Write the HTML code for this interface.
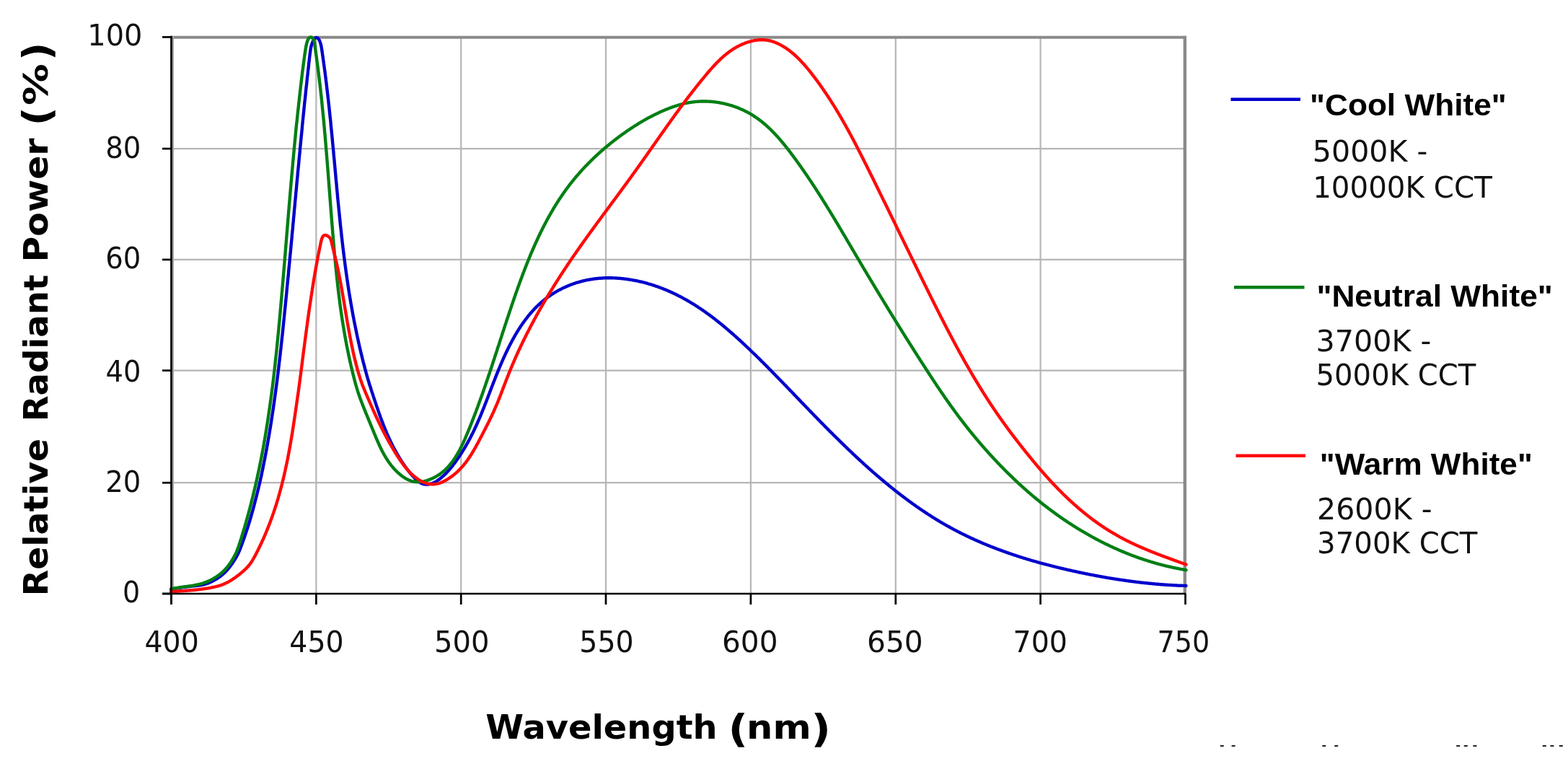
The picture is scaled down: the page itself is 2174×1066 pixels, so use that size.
<!DOCTYPE html>
<html><head><meta charset="utf-8"><title>LED spectra</title>
<style>
html,body{margin:0;padding:0;background:#fff;}
body{width:2174px;height:1066px;overflow:hidden;}
svg{display:block;}
.tk{font-family:"DejaVu Sans","Liberation Sans",sans-serif;font-size:40.5px;fill:#111;}
.lt{font-family:"Liberation Sans",Arial,sans-serif;font-weight:bold;font-size:42px;fill:#000;}
.ld{font-family:"DejaVu Sans","Liberation Sans",sans-serif;font-size:41px;fill:#111;}
.ax{font-family:"DejaVu Sans","Liberation Sans",sans-serif;font-weight:bold;font-size:47px;fill:#000;}
.axp{font-family:"DejaVu Sans","Liberation Sans",sans-serif;font-weight:bold;font-size:52.5px;fill:#000;}
</style></head>
<body>
<svg width="2174" height="1066" viewBox="0 0 2174 1066">
<rect width="2174" height="1066" fill="#fff"/>
<g stroke="#b6b6b6" stroke-width="2.2"><line x1="438.4" y1="51.5" x2="438.4" y2="823.0" /><line x1="639.2" y1="51.5" x2="639.2" y2="823.0" /><line x1="840.0" y1="51.5" x2="840.0" y2="823.0" /><line x1="1040.9" y1="51.5" x2="1040.9" y2="823.0" /><line x1="1241.8" y1="51.5" x2="1241.8" y2="823.0" /><line x1="1442.6" y1="51.5" x2="1442.6" y2="823.0" /><line x1="237.5" y1="669.2" x2="1642.8" y2="669.2" /><line x1="237.5" y1="513.6" x2="1642.8" y2="513.6" /><line x1="237.5" y1="359.9" x2="1642.8" y2="359.9" /><line x1="237.5" y1="206.1" x2="1642.8" y2="206.1" /></g>
<line x1="237" y1="51.7" x2="1644" y2="51.7" stroke="#8a8a8a" stroke-width="4"/>
<line x1="240" y1="50" x2="240" y2="823" stroke="#a0a0a0" stroke-width="2"/>
<line x1="1642.8" y1="49.7" x2="1642.8" y2="823" stroke="#8a8a8a" stroke-width="4.4"/>
<g fill="none" stroke-width="4.4" stroke-linejoin="round" stroke-linecap="round">
<path d="M237.0,816.8 L238.0,816.6 L239.0,816.5 L240.0,816.3 L241.0,816.1 L241.9,816.0 L242.9,815.8 L243.9,815.6 L244.9,815.5 L245.9,815.3 L246.9,815.1 L247.9,815.0 L248.9,814.8 L249.9,814.7 L250.9,814.5 L251.9,814.4 L252.9,814.2 L253.9,814.1 L254.9,813.9 L255.9,813.8 L256.9,813.7 L257.8,813.6 L258.8,813.4 L259.8,813.3 L260.7,813.2 L261.7,813.1 L262.7,813.0 L263.7,812.9 L264.7,812.7 L265.7,812.6 L266.7,812.5 L267.7,812.4 L268.7,812.3 L269.7,812.2 L270.7,812.1 L271.6,812.0 L272.6,811.9 L273.6,811.8 L274.6,811.7 L275.6,811.6 L276.6,811.4 L277.6,811.3 L278.5,811.1 L279.5,810.9 L280.5,810.8 L281.4,810.5 L282.4,810.3 L283.4,810.1 L284.3,809.8 L285.2,809.5 L286.2,809.2 L287.1,808.9 L288.0,808.6 L289.0,808.2 L289.9,807.9 L290.8,807.5 L291.7,807.1 L292.6,806.6 L293.5,806.2 L294.4,805.8 L295.3,805.3 L296.1,804.8 L297.0,804.4 L297.9,803.9 L298.7,803.4 L299.6,802.9 L300.4,802.3 L301.3,801.8 L302.1,801.3 L302.9,800.7 L303.8,800.2 L304.6,799.6 L305.4,799.0 L306.2,798.4 L306.9,797.8 L307.7,797.2 L308.5,796.5 L309.2,795.9 L310.0,795.2 L310.7,794.6 L311.4,793.9 L312.1,793.2 L312.8,792.5 L313.5,791.8 L314.2,791.0 L314.9,790.3 L315.5,789.6 L316.1,788.8 L316.8,788.0 L317.4,787.3 L318.0,786.5 L318.6,785.7 L319.2,784.9 L319.8,784.1 L320.4,783.3 L321.0,782.5 L321.6,781.7 L322.2,780.9 L322.7,780.0 L323.3,779.2 L323.8,778.4 L324.4,777.5 L324.9,776.7 L325.4,775.9 L326.0,775.0 L326.5,774.2 L327.0,773.3 L327.5,772.4 L328.0,771.6 L328.4,770.7 L328.9,769.8 L329.4,768.9 L329.8,768.0 L330.2,767.1 L330.7,766.2 L331.1,765.3 L331.5,764.4 L331.9,763.5 L332.3,762.6 L332.6,761.7 L333.0,760.7 L333.4,759.8 L333.7,758.9 L334.1,758.0 L334.5,757.0 L334.8,756.1 L335.1,755.1 L335.5,754.2 L335.8,753.3 L336.2,752.3 L336.5,751.4 L336.8,750.4 L337.2,749.5 L337.5,748.6 L337.8,747.6 L338.2,746.7 L338.5,745.7 L338.8,744.8 L339.2,743.8 L339.5,742.9 L339.8,741.9 L340.1,741.0 L340.4,740.1 L340.8,739.1 L341.1,738.2 L341.4,737.2 L341.7,736.3 L342.0,735.3 L342.3,734.4 L342.7,733.4 L343.0,732.5 L343.3,731.5 L343.6,730.6 L343.9,729.6 L344.2,728.7 L344.5,727.7 L344.8,726.7 L345.1,725.8 L345.4,724.8 L345.7,723.9 L346.0,722.9 L346.3,722.0 L346.6,721.0 L346.8,720.1 L347.1,719.1 L347.4,718.1 L347.7,717.2 L348.0,716.2 L348.2,715.3 L348.5,714.3 L348.8,713.3 L349.1,712.4 L349.3,711.4 L349.6,710.4 L349.9,709.5 L350.1,708.5 L350.4,707.6 L350.7,706.6 L350.9,705.6 L351.2,704.7 L351.5,703.7 L351.7,702.7 L352.0,701.8 L352.2,700.8 L352.5,699.8 L352.7,698.9 L353.0,697.9 L353.2,696.9 L353.5,696.0 L353.7,695.0 L354.0,694.0 L354.2,693.1 L354.5,692.1 L354.7,691.1 L355.0,690.1 L355.2,689.2 L355.5,688.2 L355.7,687.2 L356.0,686.3 L356.2,685.3 L356.5,684.3 L356.7,683.4 L356.9,682.4 L357.2,681.4 L357.4,680.4 L357.7,679.5 L357.9,678.5 L358.1,677.5 L358.4,676.6 L358.6,675.6 L358.8,674.6 L359.1,673.6 L359.3,672.7 L359.5,671.7 L359.8,670.7 L360.0,669.7 L360.2,668.8 L360.4,667.8 L360.7,666.8 L360.9,665.9 L361.1,664.9 L361.3,663.9 L361.5,662.9 L361.8,661.9 L362.0,661.0 L362.2,660.0 L362.4,659.0 L362.6,658.0 L362.8,657.1 L363.0,656.1 L363.2,655.1 L363.4,654.1 L363.6,653.1 L363.8,652.2 L364.0,651.2 L364.2,650.2 L364.4,649.2 L364.6,648.2 L364.8,647.3 L365.0,646.3 L365.2,645.3 L365.4,644.3 L365.6,643.3 L365.8,642.4 L366.0,641.4 L366.2,640.4 L366.4,639.4 L366.6,638.4 L366.8,637.5 L367.0,636.5 L367.2,635.5 L367.4,634.5 L367.5,633.5 L367.7,632.6 L367.9,631.6 L368.1,630.6 L368.3,629.6 L368.5,628.6 L368.7,627.6 L368.9,626.7 L369.0,625.7 L369.2,624.7 L369.4,623.7 L369.6,622.7 L369.8,621.7 L369.9,620.8 L370.1,619.8 L370.3,618.8 L370.5,617.8 L370.7,616.8 L370.8,615.8 L371.0,614.9 L371.2,613.9 L371.3,612.9 L371.5,611.9 L371.7,610.9 L371.9,609.9 L372.0,608.9 L372.2,608.0 L372.4,607.0 L372.5,606.0 L372.7,605.0 L372.9,604.0 L373.1,603.0 L373.2,602.0 L373.4,601.1 L373.6,600.1 L373.7,599.1 L373.9,598.1 L374.0,597.1 L374.2,596.1 L374.4,595.1 L374.5,594.1 L374.7,593.2 L374.9,592.2 L375.0,591.2 L375.2,590.2 L375.3,589.2 L375.5,588.2 L375.7,587.2 L375.8,586.3 L376.0,585.3 L376.1,584.3 L376.3,583.3 L376.4,582.3 L376.6,581.3 L376.7,580.3 L376.9,579.3 L377.0,578.3 L377.2,577.4 L377.3,576.4 L377.5,575.4 L377.6,574.4 L377.8,573.4 L377.9,572.4 L378.1,571.4 L378.2,570.4 L378.4,569.4 L378.5,568.5 L378.7,567.5 L378.8,566.5 L379.0,565.5 L379.1,564.5 L379.2,563.5 L379.4,562.5 L379.5,561.5 L379.7,560.5 L379.8,559.5 L379.9,558.6 L380.1,557.6 L380.2,556.6 L380.4,555.6 L380.5,554.6 L380.6,553.6 L380.8,552.6 L380.9,551.6 L381.1,550.6 L381.2,549.6 L381.3,548.7 L381.5,547.7 L381.6,546.7 L381.7,545.7 L381.9,544.7 L382.0,543.7 L382.1,542.7 L382.3,541.7 L382.4,540.7 L382.5,539.7 L382.7,538.7 L382.8,537.8 L382.9,536.8 L383.1,535.8 L383.2,534.8 L383.3,533.8 L383.5,532.8 L383.6,531.8 L383.7,530.8 L383.9,529.8 L384.0,528.8 L384.1,527.8 L384.2,526.8 L384.4,525.9 L384.5,524.9 L384.6,523.9 L384.7,522.9 L384.9,521.9 L385.0,520.9 L385.1,519.9 L385.2,518.9 L385.4,517.9 L385.5,516.9 L385.6,515.9 L385.7,514.9 L385.8,513.9 L385.9,513.0 L386.1,512.0 L386.2,511.0 L386.3,510.0 L386.4,509.0 L386.5,508.0 L386.6,507.0 L386.8,506.0 L386.9,505.0 L387.0,504.0 L387.1,503.0 L387.2,502.0 L387.3,501.0 L387.5,500.0 L387.6,499.0 L387.7,498.1 L387.8,497.1 L387.9,496.1 L388.0,495.1 L388.1,494.1 L388.3,493.1 L388.4,492.1 L388.5,491.1 L388.6,490.1 L388.7,489.1 L388.8,488.1 L388.9,487.1 L389.0,486.1 L389.2,485.1 L389.3,484.1 L389.4,483.1 L389.5,482.2 L389.6,481.2 L389.7,480.2 L389.8,479.2 L389.9,478.2 L390.0,477.2 L390.1,476.2 L390.3,475.2 L390.4,474.2 L390.5,473.2 L390.6,472.2 L390.7,471.2 L390.8,470.2 L390.9,469.2 L391.0,468.2 L391.1,467.2 L391.2,466.2 L391.3,465.3 L391.5,464.3 L391.6,463.3 L391.7,462.3 L391.8,461.3 L391.9,460.3 L392.0,459.3 L392.1,458.3 L392.2,457.3 L392.3,456.3 L392.4,455.3 L392.5,454.3 L392.6,453.3 L392.7,452.3 L392.8,451.3 L392.9,450.3 L393.0,449.3 L393.1,448.3 L393.2,447.4 L393.3,446.4 L393.4,445.4 L393.5,444.4 L393.6,443.4 L393.7,442.4 L393.8,441.4 L393.9,440.4 L394.0,439.4 L394.1,438.4 L394.2,437.4 L394.3,436.4 L394.4,435.4 L394.5,434.4 L394.6,433.4 L394.7,432.4 L394.8,431.4 L394.9,430.4 L395.0,429.4 L395.1,428.4 L395.2,427.5 L395.3,426.5 L395.4,425.5 L395.5,424.5 L395.6,423.5 L395.7,422.5 L395.8,421.5 L395.9,420.5 L396.0,419.5 L396.1,418.5 L396.2,417.5 L396.3,416.5 L396.4,415.5 L396.5,414.5 L396.6,413.5 L396.7,412.5 L396.8,411.5 L396.9,410.5 L397.0,409.5 L397.1,408.5 L397.2,407.5 L397.3,406.6 L397.4,405.6 L397.5,404.6 L397.6,403.6 L397.6,402.6 L397.7,401.6 L397.8,400.6 L397.9,399.6 L398.0,398.6 L398.1,397.6 L398.2,396.6 L398.3,395.6 L398.4,394.6 L398.5,393.6 L398.6,392.6 L398.7,391.6 L398.8,390.6 L398.9,389.6 L399.0,388.6 L399.1,387.6 L399.2,386.6 L399.3,385.6 L399.4,384.7 L399.5,383.7 L399.6,382.7 L399.7,381.7 L399.8,380.7 L399.9,379.7 L400.0,378.7 L400.0,377.7 L400.1,376.7 L400.2,375.7 L400.3,374.7 L400.4,373.7 L400.5,372.7 L400.6,371.7 L400.7,370.7 L400.8,369.7 L400.9,368.7 L401.0,367.7 L401.1,366.7 L401.2,365.7 L401.3,364.7 L401.4,363.7 L401.5,362.8 L401.6,361.8 L401.6,360.8 L401.7,359.8 L401.8,358.8 L401.9,357.8 L402.0,356.8 L402.1,355.8 L402.2,354.8 L402.3,353.8 L402.4,352.8 L402.5,351.8 L402.6,350.8 L402.7,349.8 L402.8,348.8 L402.9,347.8 L403.0,346.8 L403.1,345.8 L403.2,344.8 L403.3,343.8 L403.4,342.8 L403.4,341.8 L403.5,340.8 L403.6,339.9 L403.7,338.9 L403.8,337.9 L403.9,336.9 L404.0,335.9 L404.1,334.9 L404.2,333.9 L404.3,332.9 L404.4,331.9 L404.5,330.9 L404.6,329.9 L404.7,328.9 L404.8,327.9 L404.8,326.9 L404.9,325.9 L405.0,324.9 L405.1,323.9 L405.2,322.9 L405.3,321.9 L405.4,320.9 L405.5,319.9 L405.6,318.9 L405.7,317.9 L405.8,317.0 L405.9,316.0 L406.0,315.0 L406.0,314.0 L406.1,313.0 L406.2,312.0 L406.3,311.0 L406.4,310.0 L406.5,309.0 L406.6,308.0 L406.7,307.0 L406.8,306.0 L406.9,305.0 L406.9,304.0 L407.0,303.0 L407.1,302.0 L407.2,301.0 L407.3,300.0 L407.4,299.0 L407.5,298.0 L407.6,297.0 L407.7,296.0 L407.8,295.0 L407.8,294.0 L407.9,293.0 L408.0,292.1 L408.1,291.1 L408.2,290.1 L408.3,289.1 L408.4,288.1 L408.5,287.1 L408.6,286.1 L408.7,285.1 L408.8,284.1 L408.9,283.1 L409.0,282.1 L409.0,281.1 L409.1,280.1 L409.2,279.1 L409.3,278.1 L409.4,277.1 L409.5,276.1 L409.6,275.1 L409.7,274.1 L409.8,273.1 L409.9,272.1 L410.0,271.1 L410.1,270.1 L410.1,269.2 L410.2,268.2 L410.3,267.2 L410.4,266.2 L410.5,265.2 L410.6,264.2 L410.7,263.2 L410.8,262.2 L410.9,261.2 L411.0,260.2 L411.1,259.2 L411.2,258.2 L411.2,257.2 L411.3,256.2 L411.4,255.2 L411.5,254.2 L411.6,253.2 L411.7,252.2 L411.8,251.2 L411.9,250.2 L412.0,249.2 L412.1,248.2 L412.2,247.2 L412.3,246.2 L412.4,245.3 L412.5,244.3 L412.6,243.3 L412.7,242.3 L412.7,241.3 L412.8,240.3 L412.9,239.3 L413.0,238.3 L413.1,237.3 L413.2,236.3 L413.3,235.3 L413.4,234.3 L413.5,233.3 L413.6,232.3 L413.7,231.3 L413.8,230.3 L413.9,229.3 L414.0,228.3 L414.1,227.3 L414.2,226.3 L414.3,225.3 L414.4,224.3 L414.4,223.4 L414.5,222.4 L414.6,221.4 L414.7,220.4 L414.8,219.4 L414.9,218.4 L415.0,217.4 L415.1,216.4 L415.2,215.4 L415.3,214.4 L415.4,213.4 L415.5,212.4 L415.6,211.4 L415.7,210.4 L415.8,209.4 L415.8,208.4 L415.9,207.4 L416.0,206.4 L416.1,205.4 L416.2,204.4 L416.3,203.4 L416.4,202.4 L416.5,201.4 L416.6,200.5 L416.7,199.5 L416.8,198.5 L416.9,197.5 L417.0,196.5 L417.1,195.5 L417.2,194.5 L417.3,193.5 L417.4,192.5 L417.5,191.5 L417.6,190.5 L417.7,189.5 L417.8,188.5 L417.9,187.5 L418.0,186.5 L418.1,185.5 L418.2,184.5 L418.3,183.5 L418.4,182.5 L418.5,181.5 L418.6,180.5 L418.7,179.6 L418.8,178.6 L418.9,177.6 L418.9,176.6 L419.0,175.6 L419.1,174.6 L419.2,173.6 L419.3,172.6 L419.4,171.6 L419.5,170.6 L419.6,169.6 L419.7,168.6 L419.8,167.6 L419.9,166.6 L420.0,165.6 L420.1,164.6 L420.2,163.6 L420.3,162.6 L420.4,161.6 L420.5,160.6 L420.6,159.6 L420.7,158.7 L420.8,157.7 L420.9,156.7 L421.0,155.7 L421.1,154.7 L421.2,153.7 L421.3,152.7 L421.4,151.7 L421.5,150.7 L421.6,149.7 L421.7,148.7 L421.8,147.7 L421.9,146.7 L422.0,145.7 L422.1,144.7 L422.2,143.7 L422.3,142.7 L422.4,141.7 L422.5,140.7 L422.6,139.8 L422.8,138.8 L422.9,137.8 L423.0,136.8 L423.1,135.8 L423.2,134.8 L423.3,133.8 L423.4,132.8 L423.5,131.8 L423.6,130.8 L423.7,129.8 L423.8,128.8 L423.9,127.8 L424.0,126.8 L424.1,125.8 L424.2,124.8 L424.3,123.8 L424.4,122.8 L424.5,121.8 L424.6,120.9 L424.7,119.9 L424.8,118.9 L425.0,117.9 L425.1,116.9 L425.2,115.9 L425.3,114.9 L425.4,113.9 L425.5,112.9 L425.6,111.9 L425.7,110.9 L425.8,109.9 L425.9,108.9 L426.0,107.9 L426.1,106.9 L426.2,105.9 L426.4,104.9 L426.5,104.0 L426.6,103.0 L426.7,102.0 L426.8,101.0 L426.9,100.0 L427.0,99.0 L427.1,98.0 L427.2,97.0 L427.3,96.0 L427.5,95.0 L427.6,94.0 L427.7,93.0 L427.8,92.0 L427.9,91.0 L428.0,90.0 L428.1,89.0 L428.2,88.0 L428.3,87.1 L428.4,86.1 L428.6,85.1 L428.7,84.1 L428.8,83.1 L428.9,82.1 L429.0,81.1 L429.1,80.1 L429.2,79.1 L429.3,78.1 L429.5,77.1 L429.6,76.1 L429.7,75.1 L429.8,74.2 L430.0,73.2 L430.1,72.2 L430.2,71.2 L430.3,70.2 L430.5,69.2 L430.6,68.2 L430.8,67.2 L431.0,66.3 L431.2,65.3 L431.4,64.3 L431.6,63.4 L431.9,62.4 L432.2,61.5 L432.5,60.5 L432.9,59.6 L433.2,58.7 L433.7,57.8 L434.1,56.9 L434.6,56.0 L435.1,55.1 L435.6,54.3 L436.2,53.5 L436.9,52.8 L437.7,52.3 L438.7,52.0 L439.7,52.1 L440.5,52.7 L441.2,53.4 L441.8,54.1 L442.3,55.0 L442.8,55.9 L443.2,56.8 L443.6,57.7 L443.9,58.6 L444.2,59.6 L444.5,60.5 L444.8,61.5 L445.0,62.5 L445.2,63.4 L445.4,64.4 L445.6,65.4 L445.8,66.4 L445.9,67.4 L446.1,68.4 L446.2,69.3 L446.4,70.3 L446.5,71.3 L446.7,72.3 L446.8,73.3 L447.0,74.3 L447.1,75.3 L447.2,76.3 L447.4,77.3 L447.5,78.2 L447.7,79.2 L447.8,80.2 L448.0,81.2 L448.1,82.2 L448.2,83.2 L448.4,84.2 L448.5,85.2 L448.7,86.2 L448.8,87.2 L448.9,88.1 L449.1,89.1 L449.2,90.1 L449.3,91.1 L449.5,92.1 L449.6,93.1 L449.7,94.1 L449.9,95.1 L450.0,96.1 L450.1,97.1 L450.3,98.1 L450.4,99.0 L450.5,100.0 L450.7,101.0 L450.8,102.0 L450.9,103.0 L451.0,104.0 L451.2,105.0 L451.3,106.0 L451.4,107.0 L451.5,108.0 L451.7,109.0 L451.8,110.0 L451.9,111.0 L452.0,111.9 L452.1,112.9 L452.3,113.9 L452.4,114.9 L452.5,115.9 L452.6,116.9 L452.7,117.9 L452.9,118.9 L453.0,119.9 L453.1,120.9 L453.2,121.9 L453.3,122.9 L453.4,123.9 L453.6,124.9 L453.7,125.8 L453.8,126.8 L453.9,127.8 L454.0,128.8 L454.1,129.8 L454.3,130.8 L454.4,131.8 L454.5,132.8 L454.6,133.8 L454.7,134.8 L454.8,135.8 L455.0,136.8 L455.1,137.8 L455.2,138.8 L455.3,139.8 L455.4,140.7 L455.5,141.7 L455.6,142.7 L455.7,143.7 L455.8,144.7 L456.0,145.7 L456.1,146.7 L456.2,147.7 L456.3,148.7 L456.4,149.7 L456.5,150.7 L456.6,151.7 L456.7,152.7 L456.8,153.7 L456.9,154.7 L457.0,155.7 L457.1,156.7 L457.2,157.6 L457.3,158.6 L457.4,159.6 L457.5,160.6 L457.6,161.6 L457.7,162.6 L457.8,163.6 L458.0,164.6 L458.1,165.6 L458.2,166.6 L458.3,167.6 L458.4,168.6 L458.5,169.6 L458.6,170.6 L458.6,171.6 L458.7,172.6 L458.8,173.6 L458.9,174.6 L459.0,175.6 L459.1,176.6 L459.2,177.5 L459.3,178.5 L459.4,179.5 L459.5,180.5 L459.6,181.5 L459.7,182.5 L459.8,183.5 L459.9,184.5 L460.0,185.5 L460.1,186.5 L460.2,187.5 L460.3,188.5 L460.4,189.5 L460.5,190.5 L460.6,191.5 L460.7,192.5 L460.8,193.5 L460.9,194.5 L461.0,195.5 L461.0,196.5 L461.1,197.5 L461.2,198.5 L461.3,199.5 L461.4,200.4 L461.5,201.4 L461.6,202.4 L461.7,203.4 L461.8,204.4 L461.9,205.4 L462.0,206.4 L462.1,207.4 L462.2,208.4 L462.3,209.4 L462.4,210.4 L462.5,211.4 L462.5,212.4 L462.6,213.4 L462.7,214.4 L462.8,215.4 L462.9,216.4 L463.0,217.4 L463.1,218.4 L463.2,219.4 L463.3,220.4 L463.4,221.4 L463.5,222.4 L463.6,223.3 L463.7,224.3 L463.7,225.3 L463.8,226.3 L463.9,227.3 L464.0,228.3 L464.1,229.3 L464.2,230.3 L464.3,231.3 L464.4,232.3 L464.5,233.3 L464.6,234.3 L464.7,235.3 L464.7,236.3 L464.8,237.3 L464.9,238.3 L465.0,239.3 L465.1,240.3 L465.2,241.3 L465.3,242.3 L465.4,243.3 L465.5,244.3 L465.6,245.3 L465.6,246.3 L465.7,247.2 L465.8,248.2 L465.9,249.2 L466.0,250.2 L466.1,251.2 L466.2,252.2 L466.3,253.2 L466.4,254.2 L466.5,255.2 L466.6,256.2 L466.7,257.2 L466.7,258.2 L466.8,259.2 L466.9,260.2 L467.0,261.2 L467.1,262.2 L467.2,263.2 L467.3,264.2 L467.4,265.2 L467.5,266.2 L467.6,267.2 L467.7,268.2 L467.8,269.2 L467.9,270.2 L467.9,271.1 L468.0,272.1 L468.1,273.1 L468.2,274.1 L468.3,275.1 L468.4,276.1 L468.5,277.1 L468.6,278.1 L468.7,279.1 L468.8,280.1 L468.9,281.1 L469.0,282.1 L469.1,283.1 L469.2,284.1 L469.3,285.1 L469.4,286.1 L469.5,287.1 L469.6,288.1 L469.7,289.1 L469.8,290.1 L469.9,291.1 L470.0,292.1 L470.1,293.0 L470.2,294.0 L470.3,295.0 L470.4,296.0 L470.5,297.0 L470.6,298.0 L470.7,299.0 L470.8,300.0 L470.9,301.0 L471.0,302.0 L471.1,303.0 L471.2,304.0 L471.3,305.0 L471.4,306.0 L471.5,307.0 L471.6,308.0 L471.7,309.0 L471.8,310.0 L471.9,311.0 L472.0,311.9 L472.1,312.9 L472.2,313.9 L472.3,314.9 L472.4,315.9 L472.6,316.9 L472.7,317.9 L472.8,318.9 L472.9,319.9 L473.0,320.9 L473.1,321.9 L473.2,322.9 L473.3,323.9 L473.4,324.9 L473.5,325.9 L473.6,326.9 L473.7,327.9 L473.8,328.8 L474.0,329.8 L474.1,330.8 L474.2,331.8 L474.3,332.8 L474.4,333.8 L474.5,334.8 L474.6,335.8 L474.7,336.8 L474.9,337.8 L475.0,338.8 L475.1,339.8 L475.2,340.8 L475.3,341.8 L475.4,342.8 L475.6,343.7 L475.7,344.7 L475.8,345.7 L475.9,346.7 L476.0,347.7 L476.2,348.7 L476.3,349.7 L476.4,350.7 L476.5,351.7 L476.7,352.7 L476.8,353.7 L476.9,354.7 L477.0,355.7 L477.2,356.6 L477.3,357.6 L477.4,358.6 L477.5,359.6 L477.7,360.6 L477.8,361.6 L477.9,362.6 L478.1,363.6 L478.2,364.6 L478.3,365.6 L478.4,366.6 L478.6,367.6 L478.7,368.6 L478.8,369.5 L479.0,370.5 L479.1,371.5 L479.2,372.5 L479.4,373.5 L479.5,374.5 L479.6,375.5 L479.8,376.5 L479.9,377.5 L480.0,378.5 L480.2,379.5 L480.3,380.4 L480.5,381.4 L480.6,382.4 L480.7,383.4 L480.9,384.4 L481.0,385.4 L481.2,386.4 L481.3,387.4 L481.4,388.4 L481.6,389.4 L481.7,390.3 L481.9,391.3 L482.0,392.3 L482.2,393.3 L482.3,394.3 L482.5,395.3 L482.6,396.3 L482.8,397.3 L482.9,398.3 L483.1,399.2 L483.2,400.2 L483.4,401.2 L483.5,402.2 L483.7,403.2 L483.8,404.2 L484.0,405.2 L484.2,406.2 L484.3,407.1 L484.5,408.1 L484.6,409.1 L484.8,410.1 L485.0,411.1 L485.1,412.1 L485.3,413.1 L485.4,414.1 L485.6,415.0 L485.8,416.0 L485.9,417.0 L486.1,418.0 L486.3,419.0 L486.4,420.0 L486.6,421.0 L486.8,421.9 L487.0,422.9 L487.1,423.9 L487.3,424.9 L487.5,425.9 L487.6,426.9 L487.8,427.8 L488.0,428.8 L488.2,429.8 L488.3,430.8 L488.5,431.8 L488.7,432.8 L488.9,433.8 L489.1,434.7 L489.2,435.7 L489.4,436.7 L489.6,437.7 L489.8,438.7 L490.0,439.7 L490.2,440.6 L490.4,441.6 L490.5,442.6 L490.7,443.6 L490.9,444.6 L491.1,445.5 L491.3,446.5 L491.5,447.5 L491.7,448.5 L491.9,449.5 L492.1,450.4 L492.3,451.4 L492.5,452.4 L492.7,453.4 L492.9,454.4 L493.1,455.4 L493.3,456.3 L493.5,457.3 L493.7,458.3 L493.9,459.3 L494.1,460.2 L494.3,461.2 L494.5,462.2 L494.7,463.2 L494.9,464.2 L495.1,465.1 L495.3,466.1 L495.5,467.1 L495.7,468.1 L495.9,469.1 L496.2,470.0 L496.4,471.0 L496.6,472.0 L496.8,473.0 L497.0,473.9 L497.2,474.9 L497.4,475.9 L497.7,476.9 L497.9,477.8 L498.1,478.8 L498.3,479.8 L498.5,480.8 L498.8,481.7 L499.0,482.7 L499.2,483.7 L499.5,484.7 L499.7,485.6 L499.9,486.6 L500.1,487.6 L500.4,488.6 L500.6,489.5 L500.8,490.5 L501.1,491.5 L501.3,492.4 L501.6,493.4 L501.8,494.4 L502.0,495.4 L502.3,496.3 L502.5,497.3 L502.8,498.3 L503.0,499.2 L503.2,500.2 L503.5,501.2 L503.7,502.1 L504.0,503.1 L504.2,504.1 L504.5,505.0 L504.8,506.0 L505.0,507.0 L505.3,507.9 L505.5,508.9 L505.8,509.9 L506.0,510.8 L506.3,511.8 L506.5,512.8 L506.8,513.7 L507.1,514.7 L507.3,515.7 L507.6,516.6 L507.8,517.6 L508.1,518.6 L508.4,519.5 L508.6,520.5 L508.9,521.5 L509.2,522.4 L509.5,523.4 L509.7,524.3 L510.0,525.3 L510.3,526.3 L510.6,527.2 L510.9,528.2 L511.2,529.1 L511.5,530.1 L511.7,531.0 L512.0,532.0 L512.3,533.0 L512.6,533.9 L513.0,534.9 L513.3,535.8 L513.6,536.8 L513.9,537.7 L514.2,538.7 L514.5,539.6 L514.8,540.6 L515.1,541.5 L515.4,542.5 L515.7,543.4 L516.0,544.4 L516.4,545.3 L516.7,546.3 L517.0,547.2 L517.3,548.2 L517.6,549.1 L517.9,550.1 L518.2,551.0 L518.5,552.0 L518.9,552.9 L519.2,553.9 L519.5,554.8 L519.8,555.8 L520.1,556.7 L520.4,557.7 L520.7,558.6 L521.1,559.6 L521.4,560.5 L521.7,561.5 L522.0,562.4 L522.3,563.4 L522.7,564.3 L523.0,565.2 L523.3,566.2 L523.6,567.1 L524.0,568.1 L524.3,569.0 L524.6,570.0 L524.9,570.9 L525.3,571.9 L525.6,572.8 L525.9,573.7 L526.3,574.7 L526.6,575.6 L527.0,576.6 L527.3,577.5 L527.6,578.5 L528.0,579.4 L528.3,580.3 L528.7,581.3 L529.0,582.2 L529.4,583.1 L529.7,584.1 L530.1,585.0 L530.4,585.9 L530.8,586.9 L531.2,587.8 L531.5,588.7 L531.9,589.7 L532.2,590.6 L532.6,591.5 L533.0,592.5 L533.4,593.4 L533.7,594.3 L534.1,595.2 L534.5,596.2 L534.9,597.1 L535.3,598.0 L535.7,598.9 L536.0,599.9 L536.4,600.8 L536.8,601.7 L537.2,602.6 L537.6,603.5 L538.0,604.4 L538.4,605.3 L538.9,606.3 L539.3,607.2 L539.7,608.1 L540.1,609.0 L540.5,609.9 L541.0,610.8 L541.4,611.7 L541.8,612.6 L542.3,613.5 L542.7,614.4 L543.1,615.3 L543.6,616.2 L544.0,617.1 L544.5,618.0 L544.9,618.9 L545.4,619.8 L545.9,620.6 L546.3,621.5 L546.8,622.4 L547.3,623.3 L547.7,624.2 L548.2,625.0 L548.7,625.9 L549.2,626.8 L549.7,627.7 L550.2,628.5 L550.7,629.4 L551.2,630.3 L551.7,631.1 L552.2,632.0 L552.7,632.8 L553.2,633.7 L553.7,634.6 L554.3,635.4 L554.8,636.3 L555.3,637.1 L555.9,637.9 L556.4,638.8 L556.9,639.6 L557.5,640.5 L558.0,641.3 L558.6,642.1 L559.2,642.9 L559.7,643.8 L560.3,644.6 L560.9,645.4 L561.4,646.2 L562.0,647.0 L562.6,647.8 L563.2,648.7 L563.8,649.5 L564.4,650.3 L565.0,651.0 L565.6,651.8 L566.2,652.6 L566.8,653.4 L567.5,654.2 L568.1,655.0 L568.7,655.7 L569.4,656.5 L570.0,657.2 L570.7,658.0 L571.3,658.8 L572.0,659.5 L572.6,660.3 L573.3,661.0 L574.0,661.7 L574.7,662.4 L575.4,663.2 L576.1,663.9 L576.8,664.6 L577.5,665.2 L578.3,665.9 L579.0,666.5 L579.8,667.2 L580.6,667.8 L581.4,668.3 L582.2,668.9 L583.1,669.4 L584.0,669.9 L584.9,670.3 L585.8,670.6 L586.7,671.0 L587.7,671.2 L588.7,671.4 L589.7,671.5 L590.7,671.6 L591.7,671.6 L592.7,671.6 L593.7,671.5 L594.6,671.3 L595.6,671.1 L596.6,670.9 L597.5,670.6 L598.5,670.3 L599.4,670.0 L600.3,669.6 L601.3,669.2 L602.2,668.7 L603.0,668.3 L603.9,667.8 L604.8,667.3 L605.6,666.8 L606.4,666.2 L607.3,665.7 L608.1,665.1 L608.9,664.5 L609.7,663.9 L610.4,663.3 L611.2,662.7 L612.0,662.0 L612.7,661.4 L613.5,660.7 L614.2,660.1 L615.0,659.4 L615.7,658.8 L616.4,658.1 L617.1,657.4 L617.9,656.7 L618.6,656.0 L619.2,655.3 L619.9,654.5 L620.6,653.8 L621.3,653.1 L621.9,652.3 L622.6,651.6 L623.3,650.8 L623.9,650.1 L624.5,649.3 L625.2,648.5 L625.8,647.8 L626.4,647.0 L627.1,646.2 L627.7,645.4 L628.3,644.6 L628.9,643.8 L629.5,643.0 L630.1,642.2 L630.7,641.4 L631.3,640.6 L631.9,639.8 L632.4,639.0 L633.0,638.2 L633.6,637.4 L634.2,636.5 L634.7,635.7 L635.3,634.9 L635.9,634.1 L636.4,633.2 L637.0,632.4 L637.5,631.6 L638.1,630.7 L638.6,629.9 L639.2,629.1 L639.7,628.2 L640.2,627.4 L640.8,626.5 L641.3,625.7 L641.8,624.8 L642.4,624.0 L642.9,623.1 L643.4,622.3 L643.9,621.4 L644.4,620.6 L644.9,619.7 L645.4,618.8 L645.9,618.0 L646.4,617.1 L646.9,616.2 L647.4,615.4 L647.9,614.5 L648.4,613.6 L648.9,612.8 L649.4,611.9 L649.8,611.0 L650.3,610.1 L650.8,609.2 L651.3,608.4 L651.7,607.5 L652.2,606.6 L652.7,605.7 L653.1,604.8 L653.6,603.9 L654.0,603.0 L654.5,602.1 L654.9,601.2 L655.4,600.3 L655.8,599.5 L656.2,598.6 L656.7,597.7 L657.1,596.8 L657.5,595.9 L658.0,594.9 L658.4,594.0 L658.8,593.1 L659.2,592.2 L659.7,591.3 L660.1,590.4 L660.5,589.5 L660.9,588.6 L661.3,587.7 L661.7,586.8 L662.1,585.9 L662.5,584.9 L662.9,584.0 L663.3,583.1 L663.7,582.2 L664.1,581.3 L664.5,580.4 L664.9,579.4 L665.3,578.5 L665.7,577.6 L666.1,576.7 L666.5,575.7 L666.9,574.8 L667.2,573.9 L667.6,573.0 L668.0,572.1 L668.4,571.1 L668.7,570.2 L669.1,569.3 L669.5,568.3 L669.9,567.4 L670.2,566.5 L670.6,565.6 L671.0,564.6 L671.3,563.7 L671.7,562.8 L672.1,561.8 L672.4,560.9 L672.8,560.0 L673.2,559.0 L673.5,558.1 L673.9,557.2 L674.3,556.2 L674.6,555.3 L675.0,554.4 L675.3,553.5 L675.7,552.5 L676.1,551.6 L676.4,550.6 L676.8,549.7 L677.1,548.8 L677.5,547.8 L677.8,546.9 L678.2,546.0 L678.6,545.0 L678.9,544.1 L679.3,543.2 L679.6,542.2 L680.0,541.3 L680.3,540.4 L680.7,539.4 L681.1,538.5 L681.4,537.6 L681.8,536.6 L682.1,535.7 L682.5,534.8 L682.9,533.8 L683.2,532.9 L683.6,532.0 L683.9,531.0 L684.3,530.1 L684.7,529.2 L685.0,528.2 L685.4,527.3 L685.8,526.4 L686.1,525.5 L686.5,524.5 L686.8,523.6 L687.2,522.7 L687.6,521.7 L688.0,520.8 L688.3,519.9 L688.7,518.9 L689.1,518.0 L689.4,517.1 L689.8,516.2 L690.2,515.2 L690.6,514.3 L691.0,513.4 L691.3,512.5 L691.7,511.5 L692.1,510.6 L692.5,509.7 L692.9,508.8 L693.3,507.8 L693.6,506.9 L694.0,506.0 L694.4,505.1 L694.8,504.2 L695.2,503.2 L695.6,502.3 L696.0,501.4 L696.4,500.5 L696.8,499.6 L697.2,498.7 L697.6,497.8 L698.0,496.8 L698.4,495.9 L698.9,495.0 L699.3,494.1 L699.7,493.2 L700.1,492.3 L700.5,491.4 L700.9,490.5 L701.4,489.6 L701.8,488.7 L702.2,487.8 L702.7,486.9 L703.1,486.0 L703.5,485.1 L704.0,484.2 L704.4,483.3 L704.8,482.4 L705.3,481.5 L705.7,480.6 L706.2,479.7 L706.6,478.8 L707.1,477.9 L707.6,477.0 L708.0,476.1 L708.5,475.2 L709.0,474.4 L709.4,473.5 L709.9,472.6 L710.4,471.7 L710.8,470.8 L711.3,470.0 L711.8,469.1 L712.3,468.2 L712.8,467.3 L713.3,466.5 L713.8,465.6 L714.3,464.7 L714.8,463.9 L715.3,463.0 L715.8,462.2 L716.3,461.3 L716.8,460.4 L717.4,459.6 L717.9,458.7 L718.4,457.9 L718.9,457.0 L719.5,456.2 L720.0,455.4 L720.6,454.5 L721.1,453.7 L721.6,452.8 L722.2,452.0 L722.8,451.2 L723.3,450.4 L723.9,449.5 L724.5,448.7 L725.0,447.9 L725.6,447.1 L726.2,446.3 L726.8,445.5 L727.4,444.7 L728.0,443.8 L728.6,443.0 L729.2,442.2 L729.8,441.5 L730.4,440.7 L731.0,439.9 L731.6,439.1 L732.2,438.3 L732.9,437.5 L733.5,436.8 L734.1,436.0 L734.8,435.2 L735.4,434.5 L736.1,433.7 L736.7,433.0 L737.4,432.2 L738.1,431.5 L738.7,430.7 L739.4,430.0 L740.1,429.3 L740.8,428.5 L741.4,427.8 L742.1,427.1 L742.8,426.4 L743.5,425.7 L744.3,425.0 L745.0,424.3 L745.7,423.6 L746.4,422.9 L747.1,422.2 L747.9,421.5 L748.6,420.8 L749.3,420.2 L750.1,419.5 L750.8,418.9 L751.6,418.2 L752.4,417.6 L753.1,416.9 L753.9,416.3 L754.7,415.7 L755.5,415.0 L756.2,414.4 L757.0,413.8 L757.8,413.2 L758.6,412.6 L759.4,412.0 L760.2,411.4 L761.1,410.9 L761.9,410.3 L762.7,409.7 L763.5,409.2 L764.3,408.6 L765.2,408.0 L766.0,407.5 L766.9,407.0 L767.7,406.4 L768.6,405.9 L769.4,405.4 L770.3,404.9 L771.1,404.4 L772.0,403.9 L772.9,403.4 L773.7,402.9 L774.6,402.4 L775.5,401.9 L776.4,401.5 L777.3,401.0 L778.1,400.6 L779.0,400.1 L779.9,399.7 L780.8,399.2 L781.7,398.8 L782.6,398.4 L783.5,398.0 L784.5,397.6 L785.4,397.2 L786.3,396.8 L787.2,396.4 L788.1,396.0 L789.1,395.6 L790.0,395.2 L790.9,394.9 L791.8,394.5 L792.8,394.2 L793.7,393.8 L794.7,393.5 L795.6,393.2 L796.5,392.9 L797.5,392.5 L798.4,392.2 L799.4,391.9 L800.3,391.6 L801.3,391.3 L802.3,391.1 L803.2,390.8 L804.2,390.5 L805.1,390.3 L806.1,390.0 L807.1,389.7 L808.0,389.5 L809.0,389.3 L810.0,389.0 L811.0,388.8 L811.9,388.6 L812.9,388.4 L813.9,388.2 L814.9,388.0 L815.9,387.8 L816.8,387.6 L817.8,387.5 L818.8,387.3 L819.8,387.1 L820.8,387.0 L821.8,386.8 L822.7,386.7 L823.7,386.6 L824.7,386.4 L825.7,386.3 L826.7,386.2 L827.7,386.1 L828.7,386.0 L829.7,385.9 L830.7,385.8 L831.7,385.7 L832.7,385.7 L833.7,385.6 L834.7,385.5 L835.7,385.5 L836.7,385.4 L837.7,385.4 L838.7,385.3 L839.7,385.3 L840.7,385.3 L841.7,385.3 L842.7,385.2 L843.7,385.2 L844.7,385.2 L845.7,385.2 L846.7,385.3 L847.7,385.3 L848.7,385.3 L849.7,385.3 L850.6,385.4 L851.6,385.4 L852.6,385.4 L853.6,385.5 L854.6,385.5 L855.6,385.6 L856.6,385.7 L857.6,385.7 L858.6,385.8 L859.6,385.9 L860.6,386.0 L861.6,386.1 L862.6,386.2 L863.6,386.3 L864.6,386.4 L865.6,386.5 L866.6,386.6 L867.6,386.8 L868.6,386.9 L869.6,387.0 L870.5,387.2 L871.5,387.3 L872.5,387.5 L873.5,387.6 L874.5,387.8 L875.5,387.9 L876.5,388.1 L877.4,388.3 L878.4,388.5 L879.4,388.6 L880.4,388.8 L881.4,389.0 L882.4,389.2 L883.3,389.4 L884.3,389.6 L885.3,389.8 L886.3,390.1 L887.2,390.3 L888.2,390.5 L889.2,390.7 L890.2,391.0 L891.1,391.2 L892.1,391.4 L893.1,391.7 L894.0,391.9 L895.0,392.2 L896.0,392.5 L896.9,392.7 L897.9,393.0 L898.8,393.3 L899.8,393.6 L900.8,393.8 L901.7,394.1 L902.7,394.4 L903.6,394.7 L904.6,395.0 L905.5,395.3 L906.5,395.6 L907.4,395.9 L908.4,396.3 L909.3,396.6 L910.3,396.9 L911.2,397.2 L912.2,397.6 L913.1,397.9 L914.0,398.2 L915.0,398.6 L915.9,398.9 L916.8,399.3 L917.8,399.7 L918.7,400.0 L919.6,400.4 L920.6,400.8 L921.5,401.1 L922.4,401.5 L923.3,401.9 L924.3,402.3 L925.2,402.7 L926.1,403.1 L927.0,403.5 L927.9,403.9 L928.9,404.3 L929.8,404.7 L930.7,405.1 L931.6,405.5 L932.5,405.9 L933.4,406.3 L934.3,406.8 L935.2,407.2 L936.1,407.6 L937.0,408.1 L937.9,408.5 L938.8,409.0 L939.7,409.4 L940.6,409.9 L941.5,410.3 L942.4,410.8 L943.2,411.2 L944.1,411.7 L945.0,412.2 L945.9,412.6 L946.8,413.1 L947.7,413.6 L948.5,414.1 L949.4,414.6 L950.3,415.0 L951.1,415.5 L952.0,416.0 L952.9,416.5 L953.7,417.0 L954.6,417.5 L955.5,418.0 L956.3,418.5 L957.2,419.1 L958.1,419.6 L958.9,420.1 L959.8,420.6 L960.6,421.1 L961.5,421.7 L962.3,422.2 L963.2,422.7 L964.0,423.2 L964.8,423.8 L965.7,424.3 L966.5,424.9 L967.4,425.4 L968.2,426.0 L969.0,426.5 L969.9,427.1 L970.7,427.6 L971.5,428.2 L972.4,428.7 L973.2,429.3 L974.0,429.9 L974.8,430.4 L975.7,431.0 L976.5,431.6 L977.3,432.1 L978.1,432.7 L978.9,433.3 L979.7,433.9 L980.5,434.5 L981.4,435.1 L982.2,435.6 L983.0,436.2 L983.8,436.8 L984.6,437.4 L985.4,438.0 L986.2,438.6 L987.0,439.2 L987.8,439.8 L988.6,440.4 L989.4,441.0 L990.2,441.6 L991.0,442.2 L991.8,442.9 L992.5,443.5 L993.3,444.1 L994.1,444.7 L994.9,445.3 L995.7,445.9 L996.5,446.6 L997.2,447.2 L998.0,447.8 L998.8,448.4 L999.6,449.1 L1000.4,449.7 L1001.1,450.3 L1001.9,451.0 L1002.7,451.6 L1003.4,452.3 L1004.2,452.9 L1005.0,453.5 L1005.7,454.2 L1006.5,454.8 L1007.3,455.5 L1008.0,456.1 L1008.8,456.8 L1009.6,457.4 L1010.3,458.1 L1011.1,458.7 L1011.8,459.4 L1012.6,460.0 L1013.3,460.7 L1014.1,461.3 L1014.8,462.0 L1015.6,462.7 L1016.4,463.3 L1017.1,464.0 L1017.8,464.6 L1018.6,465.3 L1019.3,466.0 L1020.1,466.6 L1020.8,467.3 L1021.6,468.0 L1022.3,468.6 L1023.1,469.3 L1023.8,470.0 L1024.5,470.7 L1025.3,471.3 L1026.0,472.0 L1026.8,472.7 L1027.5,473.4 L1028.2,474.0 L1029.0,474.7 L1029.7,475.4 L1030.4,476.1 L1031.2,476.8 L1031.9,477.4 L1032.6,478.1 L1033.3,478.8 L1034.1,479.5 L1034.8,480.2 L1035.5,480.9 L1036.3,481.6 L1037.0,482.2 L1037.7,482.9 L1038.4,483.6 L1039.2,484.3 L1039.9,485.0 L1040.6,485.7 L1041.3,486.4 L1042.0,487.1 L1042.8,487.8 L1043.5,488.5 L1044.2,489.2 L1044.9,489.9 L1045.6,490.5 L1046.4,491.2 L1047.1,491.9 L1047.8,492.6 L1048.5,493.3 L1049.2,494.0 L1049.9,494.7 L1050.6,495.4 L1051.4,496.1 L1052.1,496.8 L1052.8,497.5 L1053.5,498.2 L1054.2,498.9 L1054.9,499.6 L1055.6,500.4 L1056.3,501.1 L1057.1,501.8 L1057.8,502.5 L1058.5,503.2 L1059.2,503.9 L1059.9,504.6 L1060.6,505.3 L1061.3,506.0 L1062.0,506.7 L1062.7,507.4 L1063.4,508.1 L1064.1,508.8 L1064.8,509.5 L1065.5,510.3 L1066.2,511.0 L1066.9,511.7 L1067.6,512.4 L1068.3,513.1 L1069.0,513.8 L1069.7,514.5 L1070.4,515.2 L1071.1,516.0 L1071.8,516.7 L1072.5,517.4 L1073.2,518.1 L1073.9,518.8 L1074.6,519.5 L1075.3,520.2 L1076.0,521.0 L1076.7,521.7 L1077.4,522.4 L1078.1,523.1 L1078.8,523.8 L1079.5,524.5 L1080.2,525.3 L1080.9,526.0 L1081.6,526.7 L1082.3,527.4 L1083.0,528.1 L1083.7,528.9 L1084.4,529.6 L1085.1,530.3 L1085.8,531.0 L1086.5,531.7 L1087.2,532.4 L1087.9,533.2 L1088.6,533.9 L1089.3,534.6 L1090.0,535.3 L1090.6,536.0 L1091.3,536.8 L1092.0,537.5 L1092.7,538.2 L1093.4,538.9 L1094.1,539.6 L1094.8,540.4 L1095.5,541.1 L1096.2,541.8 L1096.9,542.5 L1097.6,543.3 L1098.3,544.0 L1099.0,544.7 L1099.7,545.4 L1100.4,546.1 L1101.0,546.9 L1101.7,547.6 L1102.4,548.3 L1103.1,549.0 L1103.8,549.7 L1104.5,550.5 L1105.2,551.2 L1105.9,551.9 L1106.6,552.6 L1107.3,553.4 L1108.0,554.1 L1108.7,554.8 L1109.4,555.5 L1110.0,556.2 L1110.7,557.0 L1111.4,557.7 L1112.1,558.4 L1112.8,559.1 L1113.5,559.8 L1114.2,560.6 L1114.9,561.3 L1115.6,562.0 L1116.3,562.7 L1117.0,563.4 L1117.7,564.2 L1118.4,564.9 L1119.1,565.6 L1119.8,566.3 L1120.5,567.0 L1121.1,567.8 L1121.8,568.5 L1122.5,569.2 L1123.2,569.9 L1123.9,570.6 L1124.6,571.4 L1125.3,572.1 L1126.0,572.8 L1126.7,573.5 L1127.4,574.2 L1128.1,574.9 L1128.8,575.7 L1129.5,576.4 L1130.2,577.1 L1130.9,577.8 L1131.6,578.5 L1132.3,579.2 L1133.0,580.0 L1133.7,580.7 L1134.4,581.4 L1135.1,582.1 L1135.8,582.8 L1136.5,583.5 L1137.2,584.3 L1137.9,585.0 L1138.6,585.7 L1139.3,586.4 L1140.0,587.1 L1140.7,587.8 L1141.4,588.5 L1142.1,589.2 L1142.8,590.0 L1143.5,590.7 L1144.2,591.4 L1144.9,592.1 L1145.6,592.8 L1146.3,593.5 L1147.0,594.2 L1147.7,594.9 L1148.4,595.6 L1149.1,596.3 L1149.8,597.1 L1150.5,597.8 L1151.2,598.5 L1152.0,599.2 L1152.7,599.9 L1153.4,600.6 L1154.1,601.3 L1154.8,602.0 L1155.5,602.7 L1156.2,603.4 L1156.9,604.1 L1157.6,604.8 L1158.3,605.5 L1159.0,606.2 L1159.8,606.9 L1160.5,607.6 L1161.2,608.3 L1161.9,609.0 L1162.6,609.7 L1163.3,610.4 L1164.0,611.1 L1164.7,611.8 L1165.5,612.5 L1166.2,613.2 L1166.9,613.9 L1167.6,614.6 L1168.3,615.3 L1169.0,616.0 L1169.8,616.7 L1170.5,617.4 L1171.2,618.1 L1171.9,618.8 L1172.6,619.5 L1173.4,620.2 L1174.1,620.9 L1174.8,621.6 L1175.5,622.3 L1176.2,623.0 L1177.0,623.7 L1177.7,624.4 L1178.4,625.0 L1179.1,625.7 L1179.9,626.4 L1180.6,627.1 L1181.3,627.8 L1182.0,628.5 L1182.8,629.2 L1183.5,629.9 L1184.2,630.5 L1184.9,631.2 L1185.7,631.9 L1186.4,632.6 L1187.1,633.3 L1187.9,634.0 L1188.6,634.6 L1189.3,635.3 L1190.1,636.0 L1190.8,636.7 L1191.5,637.4 L1192.3,638.0 L1193.0,638.7 L1193.7,639.4 L1194.5,640.1 L1195.2,640.7 L1196.0,641.4 L1196.7,642.1 L1197.4,642.8 L1198.2,643.4 L1198.9,644.1 L1199.7,644.8 L1200.4,645.5 L1201.1,646.1 L1201.9,646.8 L1202.6,647.5 L1203.4,648.1 L1204.1,648.8 L1204.9,649.5 L1205.6,650.1 L1206.4,650.8 L1207.1,651.4 L1207.9,652.1 L1208.6,652.8 L1209.4,653.4 L1210.1,654.1 L1210.9,654.8 L1211.6,655.4 L1212.4,656.1 L1213.1,656.7 L1213.9,657.4 L1214.6,658.0 L1215.4,658.7 L1216.1,659.3 L1216.9,660.0 L1217.7,660.6 L1218.4,661.3 L1219.2,661.9 L1219.9,662.6 L1220.7,663.2 L1221.5,663.9 L1222.2,664.5 L1223.0,665.2 L1223.8,665.8 L1224.5,666.5 L1225.3,667.1 L1226.1,667.7 L1226.8,668.4 L1227.6,669.0 L1228.4,669.7 L1229.1,670.3 L1229.9,670.9 L1230.7,671.6 L1231.5,672.2 L1232.2,672.8 L1233.0,673.5 L1233.8,674.1 L1234.6,674.7 L1235.3,675.4 L1236.1,676.0 L1236.9,676.6 L1237.7,677.2 L1238.5,677.9 L1239.2,678.5 L1240.0,679.1 L1240.8,679.7 L1241.6,680.3 L1242.4,681.0 L1243.2,681.6 L1244.0,682.2 L1244.7,682.8 L1245.5,683.4 L1246.3,684.0 L1247.1,684.7 L1247.9,685.3 L1248.7,685.9 L1249.5,686.5 L1250.3,687.1 L1251.1,687.7 L1251.9,688.3 L1252.7,688.9 L1253.5,689.5 L1254.3,690.1 L1255.1,690.7 L1255.9,691.3 L1256.7,691.9 L1257.5,692.5 L1258.3,693.1 L1259.1,693.7 L1259.9,694.3 L1260.7,694.9 L1261.5,695.5 L1262.3,696.0 L1263.1,696.6 L1263.9,697.2 L1264.7,697.8 L1265.6,698.4 L1266.4,699.0 L1267.2,699.5 L1268.0,700.1 L1268.8,700.7 L1269.6,701.3 L1270.5,701.9 L1271.3,702.4 L1272.1,703.0 L1272.9,703.6 L1273.7,704.1 L1274.6,704.7 L1275.4,705.3 L1276.2,705.8 L1277.0,706.4 L1277.9,707.0 L1278.7,707.5 L1279.5,708.1 L1280.4,708.6 L1281.2,709.2 L1282.0,709.7 L1282.9,710.3 L1283.7,710.8 L1284.5,711.4 L1285.4,711.9 L1286.2,712.5 L1287.0,713.0 L1287.9,713.6 L1288.7,714.1 L1289.6,714.7 L1290.4,715.2 L1291.2,715.7 L1292.1,716.3 L1292.9,716.8 L1293.8,717.3 L1294.6,717.9 L1295.5,718.4 L1296.3,718.9 L1297.2,719.4 L1298.0,720.0 L1298.9,720.5 L1299.7,721.0 L1300.6,721.5 L1301.5,722.0 L1302.3,722.5 L1303.2,723.1 L1304.0,723.6 L1304.9,724.1 L1305.8,724.6 L1306.6,725.1 L1307.5,725.6 L1308.3,726.1 L1309.2,726.6 L1310.1,727.1 L1311.0,727.6 L1311.8,728.1 L1312.7,728.6 L1313.6,729.1 L1314.4,729.5 L1315.3,730.0 L1316.2,730.5 L1317.1,731.0 L1317.9,731.5 L1318.8,732.0 L1319.7,732.4 L1320.6,732.9 L1321.5,733.4 L1322.3,733.9 L1323.2,734.3 L1324.1,734.8 L1325.0,735.3 L1325.9,735.7 L1326.8,736.2 L1327.6,736.6 L1328.5,737.1 L1329.4,737.6 L1330.3,738.0 L1331.2,738.5 L1332.1,738.9 L1333.0,739.4 L1333.9,739.8 L1334.8,740.3 L1335.7,740.7 L1336.6,741.1 L1337.5,741.6 L1338.4,742.0 L1339.3,742.5 L1340.2,742.9 L1341.1,743.3 L1342.0,743.8 L1342.9,744.2 L1343.8,744.6 L1344.7,745.0 L1345.6,745.5 L1346.5,745.9 L1347.4,746.3 L1348.3,746.7 L1349.2,747.1 L1350.1,747.5 L1351.1,748.0 L1352.0,748.4 L1352.9,748.8 L1353.8,749.2 L1354.7,749.6 L1355.6,750.0 L1356.5,750.4 L1357.5,750.8 L1358.4,751.2 L1359.3,751.6 L1360.2,752.0 L1361.1,752.4 L1362.0,752.8 L1363.0,753.2 L1363.9,753.5 L1364.8,753.9 L1365.7,754.3 L1366.7,754.7 L1367.6,755.1 L1368.5,755.5 L1369.4,755.8 L1370.4,756.2 L1371.3,756.6 L1372.2,757.0 L1373.1,757.3 L1374.1,757.7 L1375.0,758.1 L1375.9,758.4 L1376.9,758.8 L1377.8,759.2 L1378.7,759.5 L1379.7,759.9 L1380.6,760.2 L1381.5,760.6 L1382.5,760.9 L1383.4,761.3 L1384.3,761.6 L1385.3,762.0 L1386.2,762.3 L1387.1,762.7 L1388.1,763.0 L1389.0,763.4 L1390.0,763.7 L1390.9,764.1 L1391.8,764.4 L1392.8,764.7 L1393.7,765.1 L1394.7,765.4 L1395.6,765.7 L1396.6,766.1 L1397.5,766.4 L1398.4,766.7 L1399.4,767.1 L1400.3,767.4 L1401.3,767.7 L1402.2,768.0 L1403.2,768.4 L1404.1,768.7 L1405.1,769.0 L1406.0,769.3 L1407.0,769.6 L1407.9,769.9 L1408.9,770.2 L1409.8,770.6 L1410.8,770.9 L1411.7,771.2 L1412.7,771.5 L1413.6,771.8 L1414.6,772.1 L1415.5,772.4 L1416.5,772.7 L1417.4,773.0 L1418.4,773.3 L1419.3,773.6 L1420.3,773.9 L1421.3,774.2 L1422.2,774.5 L1423.2,774.8 L1424.1,775.1 L1425.1,775.3 L1426.0,775.6 L1427.0,775.9 L1428.0,776.2 L1428.9,776.5 L1429.9,776.8 L1430.8,777.1 L1431.8,777.3 L1432.8,777.6 L1433.7,777.9 L1434.7,778.2 L1435.6,778.4 L1436.6,778.7 L1437.6,779.0 L1438.5,779.3 L1439.5,779.5 L1440.5,779.8 L1441.4,780.1 L1442.4,780.3 L1443.3,780.6 L1444.3,780.9 L1445.3,781.1 L1446.2,781.4 L1447.2,781.6 L1448.2,781.9 L1449.1,782.2 L1450.1,782.4 L1451.1,782.7 L1452.0,782.9 L1453.0,783.2 L1454.0,783.4 L1454.9,783.7 L1455.9,783.9 L1456.9,784.2 L1457.8,784.4 L1458.8,784.7 L1459.8,784.9 L1460.8,785.2 L1461.7,785.4 L1462.7,785.6 L1463.7,785.9 L1464.6,786.1 L1465.6,786.4 L1466.6,786.6 L1467.6,786.8 L1468.5,787.1 L1469.5,787.3 L1470.5,787.5 L1471.4,787.8 L1472.4,788.0 L1473.4,788.2 L1474.4,788.5 L1475.3,788.7 L1476.3,788.9 L1477.3,789.1 L1478.3,789.4 L1479.2,789.6 L1480.2,789.8 L1481.2,790.0 L1482.2,790.3 L1483.1,790.5 L1484.1,790.7 L1485.1,790.9 L1486.1,791.1 L1487.0,791.4 L1488.0,791.6 L1489.0,791.8 L1490.0,792.0 L1490.9,792.2 L1491.9,792.4 L1492.9,792.6 L1493.9,792.8 L1494.9,793.0 L1495.8,793.3 L1496.8,793.5 L1497.8,793.7 L1498.8,793.9 L1499.7,794.1 L1500.7,794.3 L1501.7,794.5 L1502.7,794.7 L1503.7,794.9 L1504.6,795.1 L1505.6,795.3 L1506.6,795.5 L1507.6,795.7 L1508.6,795.9 L1509.5,796.1 L1510.5,796.3 L1511.5,796.5 L1512.5,796.6 L1513.5,796.8 L1514.5,797.0 L1515.4,797.2 L1516.4,797.4 L1517.4,797.6 L1518.4,797.8 L1519.4,798.0 L1520.3,798.2 L1521.3,798.3 L1522.3,798.5 L1523.3,798.7 L1524.3,798.9 L1525.3,799.1 L1526.2,799.2 L1527.2,799.4 L1528.2,799.6 L1529.2,799.8 L1530.2,799.9 L1531.2,800.1 L1532.2,800.3 L1533.1,800.5 L1534.1,800.6 L1535.1,800.8 L1536.1,801.0 L1537.1,801.1 L1538.1,801.3 L1539.1,801.5 L1540.0,801.6 L1541.0,801.8 L1542.0,801.9 L1543.0,802.1 L1544.0,802.3 L1545.0,802.4 L1546.0,802.6 L1547.0,802.7 L1547.9,802.9 L1548.9,803.0 L1549.9,803.2 L1550.9,803.3 L1551.9,803.5 L1552.9,803.6 L1553.9,803.8 L1554.9,803.9 L1555.9,804.1 L1556.8,804.2 L1557.8,804.4 L1558.8,804.5 L1559.8,804.7 L1560.8,804.8 L1561.8,804.9 L1562.8,805.1 L1563.8,805.2 L1564.8,805.3 L1565.8,805.5 L1566.7,805.6 L1567.7,805.7 L1568.7,805.9 L1569.7,806.0 L1570.7,806.1 L1571.7,806.3 L1572.7,806.4 L1573.7,806.5 L1574.7,806.6 L1575.7,806.8 L1576.7,806.9 L1577.7,807.0 L1578.7,807.1 L1579.6,807.2 L1580.6,807.4 L1581.6,807.5 L1582.6,807.6 L1583.6,807.7 L1584.6,807.8 L1585.6,807.9 L1586.6,808.0 L1587.6,808.1 L1588.6,808.2 L1589.6,808.3 L1590.6,808.4 L1591.6,808.5 L1592.6,808.6 L1593.6,808.7 L1594.6,808.8 L1595.6,808.9 L1596.5,809.0 L1597.5,809.1 L1598.5,809.2 L1599.5,809.3 L1600.5,809.4 L1601.5,809.5 L1602.5,809.6 L1603.5,809.7 L1604.5,809.8 L1605.5,809.8 L1606.5,809.9 L1607.5,810.0 L1608.5,810.1 L1609.5,810.2 L1610.5,810.2 L1611.5,810.3 L1612.5,810.4 L1613.5,810.5 L1614.5,810.5 L1615.5,810.6 L1616.5,810.7 L1617.5,810.7 L1618.5,810.8 L1619.5,810.9 L1620.5,810.9 L1621.4,811.0 L1622.4,811.0 L1623.4,811.1 L1624.4,811.1 L1625.4,811.2 L1626.4,811.3 L1627.4,811.3 L1628.4,811.4 L1629.4,811.4 L1630.4,811.5 L1631.4,811.5 L1632.4,811.6 L1633.4,811.6 L1634.4,811.7 L1635.4,811.7 L1636.4,811.7 L1637.4,811.8 L1638.4,811.8 L1639.4,811.9 L1640.4,811.9 L1641.4,811.9 L1642.4,811.9 L1643.4,812.0 L1644.4,812.0" stroke="#0000cc"/>
<path d="M237.0,816.4 L238.0,816.2 L239.0,816.0 L240.0,815.9 L240.9,815.7 L241.9,815.5 L242.9,815.3 L243.9,815.2 L244.9,815.0 L245.9,814.8 L246.9,814.6 L247.9,814.5 L248.9,814.3 L249.9,814.2 L250.9,814.0 L251.9,813.9 L252.9,813.8 L253.9,813.6 L254.8,813.5 L255.8,813.4 L256.8,813.2 L257.8,813.1 L258.8,813.0 L259.7,812.8 L260.7,812.7 L261.7,812.6 L262.7,812.4 L263.7,812.3 L264.7,812.1 L265.7,812.0 L266.6,811.8 L267.6,811.6 L268.6,811.5 L269.6,811.3 L270.6,811.1 L271.5,810.9 L272.5,810.7 L273.5,810.5 L274.5,810.3 L275.4,810.1 L276.4,809.8 L277.4,809.6 L278.3,809.3 L279.3,809.1 L280.3,808.8 L281.2,808.5 L282.2,808.2 L283.1,807.9 L284.0,807.5 L285.0,807.2 L285.9,806.9 L286.8,806.5 L287.8,806.1 L288.7,805.7 L289.6,805.3 L290.5,804.9 L291.4,804.5 L292.3,804.1 L293.2,803.6 L294.0,803.1 L294.9,802.7 L295.8,802.2 L296.6,801.7 L297.5,801.2 L298.3,800.6 L299.2,800.1 L300.0,799.6 L300.8,799.0 L301.7,798.4 L302.5,797.9 L303.3,797.3 L304.1,796.7 L304.8,796.1 L305.6,795.5 L306.4,794.8 L307.2,794.2 L307.9,793.5 L308.6,792.9 L309.4,792.2 L310.1,791.5 L310.8,790.8 L311.5,790.1 L312.2,789.4 L312.8,788.7 L313.5,787.9 L314.2,787.2 L314.8,786.4 L315.4,785.7 L316.0,784.9 L316.6,784.1 L317.2,783.3 L317.8,782.5 L318.4,781.7 L319.0,780.9 L319.5,780.0 L320.1,779.2 L320.6,778.4 L321.2,777.5 L321.7,776.7 L322.2,775.8 L322.7,775.0 L323.3,774.1 L323.7,773.3 L324.2,772.4 L324.7,771.5 L325.2,770.6 L325.6,769.8 L326.1,768.9 L326.5,768.0 L327.0,767.1 L327.4,766.2 L327.8,765.3 L328.2,764.4 L328.6,763.4 L328.9,762.5 L329.3,761.6 L329.7,760.7 L330.0,759.7 L330.3,758.8 L330.7,757.8 L331.0,756.9 L331.3,756.0 L331.6,755.0 L331.9,754.1 L332.3,753.1 L332.6,752.2 L332.9,751.2 L333.2,750.2 L333.5,749.3 L333.8,748.3 L334.1,747.4 L334.4,746.4 L334.7,745.5 L334.9,744.5 L335.2,743.6 L335.5,742.6 L335.8,741.6 L336.1,740.7 L336.4,739.7 L336.7,738.8 L337.0,737.8 L337.3,736.9 L337.6,735.9 L337.9,735.0 L338.2,734.0 L338.4,733.0 L338.7,732.1 L339.0,731.1 L339.3,730.2 L339.6,729.2 L339.9,728.2 L340.1,727.3 L340.4,726.3 L340.7,725.4 L341.0,724.4 L341.2,723.4 L341.5,722.5 L341.8,721.5 L342.1,720.5 L342.3,719.6 L342.6,718.6 L342.9,717.7 L343.1,716.7 L343.4,715.7 L343.7,714.8 L343.9,713.8 L344.2,712.8 L344.5,711.9 L344.7,710.9 L345.0,709.9 L345.2,709.0 L345.5,708.0 L345.7,707.0 L346.0,706.1 L346.3,705.1 L346.5,704.1 L346.8,703.2 L347.0,702.2 L347.3,701.2 L347.5,700.3 L347.8,699.3 L348.0,698.3 L348.3,697.4 L348.5,696.4 L348.7,695.4 L349.0,694.4 L349.2,693.5 L349.5,692.5 L349.7,691.5 L350.0,690.6 L350.2,689.6 L350.4,688.6 L350.7,687.6 L350.9,686.7 L351.1,685.7 L351.4,684.7 L351.6,683.8 L351.8,682.8 L352.1,681.8 L352.3,680.8 L352.5,679.9 L352.8,678.9 L353.0,677.9 L353.2,676.9 L353.5,676.0 L353.7,675.0 L353.9,674.0 L354.2,673.1 L354.4,672.1 L354.6,671.1 L354.8,670.1 L355.0,669.2 L355.3,668.2 L355.5,667.2 L355.7,666.2 L355.9,665.2 L356.1,664.3 L356.4,663.3 L356.6,662.3 L356.8,661.3 L357.0,660.4 L357.2,659.4 L357.4,658.4 L357.6,657.4 L357.9,656.5 L358.1,655.5 L358.3,654.5 L358.5,653.5 L358.7,652.5 L358.9,651.6 L359.1,650.6 L359.3,649.6 L359.5,648.6 L359.7,647.6 L359.9,646.7 L360.1,645.7 L360.3,644.7 L360.5,643.7 L360.7,642.7 L360.9,641.8 L361.1,640.8 L361.3,639.8 L361.5,638.8 L361.7,637.8 L361.9,636.9 L362.1,635.9 L362.3,634.9 L362.5,633.9 L362.7,632.9 L362.8,632.0 L363.0,631.0 L363.2,630.0 L363.4,629.0 L363.6,628.0 L363.8,627.0 L364.0,626.1 L364.1,625.1 L364.3,624.1 L364.5,623.1 L364.7,622.1 L364.9,621.1 L365.0,620.2 L365.2,619.2 L365.4,618.2 L365.6,617.2 L365.8,616.2 L365.9,615.2 L366.1,614.2 L366.3,613.3 L366.4,612.3 L366.6,611.3 L366.8,610.3 L367.0,609.3 L367.1,608.3 L367.3,607.3 L367.5,606.4 L367.6,605.4 L367.8,604.4 L368.0,603.4 L368.1,602.4 L368.3,601.4 L368.5,600.4 L368.6,599.5 L368.8,598.5 L368.9,597.5 L369.1,596.5 L369.3,595.5 L369.4,594.5 L369.6,593.5 L369.7,592.5 L369.9,591.6 L370.0,590.6 L370.2,589.6 L370.4,588.6 L370.5,587.6 L370.7,586.6 L370.8,585.6 L371.0,584.6 L371.1,583.6 L371.3,582.7 L371.4,581.7 L371.6,580.7 L371.7,579.7 L371.9,578.7 L372.0,577.7 L372.2,576.7 L372.3,575.7 L372.5,574.7 L372.6,573.8 L372.7,572.8 L372.9,571.8 L373.0,570.8 L373.2,569.8 L373.3,568.8 L373.5,567.8 L373.6,566.8 L373.7,565.8 L373.9,564.8 L374.0,563.9 L374.2,562.9 L374.3,561.9 L374.4,560.9 L374.6,559.9 L374.7,558.9 L374.9,557.9 L375.0,556.9 L375.1,555.9 L375.3,554.9 L375.4,553.9 L375.5,553.0 L375.7,552.0 L375.8,551.0 L375.9,550.0 L376.1,549.0 L376.2,548.0 L376.3,547.0 L376.5,546.0 L376.6,545.0 L376.7,544.0 L376.9,543.0 L377.0,542.0 L377.1,541.1 L377.3,540.1 L377.4,539.1 L377.5,538.1 L377.6,537.1 L377.8,536.1 L377.9,535.1 L378.0,534.1 L378.1,533.1 L378.3,532.1 L378.4,531.1 L378.5,530.1 L378.6,529.1 L378.7,528.2 L378.9,527.2 L379.0,526.2 L379.1,525.2 L379.2,524.2 L379.3,523.2 L379.5,522.2 L379.6,521.2 L379.7,520.2 L379.8,519.2 L379.9,518.2 L380.0,517.2 L380.1,516.2 L380.3,515.2 L380.4,514.2 L380.5,513.3 L380.6,512.3 L380.7,511.3 L380.8,510.3 L380.9,509.3 L381.0,508.3 L381.2,507.3 L381.3,506.3 L381.4,505.3 L381.5,504.3 L381.6,503.3 L381.7,502.3 L381.8,501.3 L381.9,500.3 L382.0,499.3 L382.1,498.3 L382.2,497.3 L382.3,496.3 L382.4,495.4 L382.5,494.4 L382.7,493.4 L382.8,492.4 L382.9,491.4 L383.0,490.4 L383.1,489.4 L383.2,488.4 L383.3,487.4 L383.4,486.4 L383.5,485.4 L383.6,484.4 L383.7,483.4 L383.8,482.4 L383.9,481.4 L384.0,480.4 L384.1,479.4 L384.2,478.4 L384.3,477.4 L384.4,476.4 L384.5,475.5 L384.6,474.5 L384.7,473.5 L384.8,472.5 L384.9,471.5 L385.0,470.5 L385.1,469.5 L385.2,468.5 L385.3,467.5 L385.4,466.5 L385.5,465.5 L385.6,464.5 L385.7,463.5 L385.8,462.5 L385.9,461.5 L386.0,460.5 L386.1,459.5 L386.2,458.5 L386.3,457.5 L386.4,456.5 L386.5,455.5 L386.5,454.5 L386.6,453.6 L386.7,452.6 L386.8,451.6 L386.9,450.6 L387.0,449.6 L387.1,448.6 L387.2,447.6 L387.3,446.6 L387.4,445.6 L387.5,444.6 L387.6,443.6 L387.7,442.6 L387.7,441.6 L387.8,440.6 L387.9,439.6 L388.0,438.6 L388.1,437.6 L388.2,436.6 L388.3,435.6 L388.4,434.6 L388.5,433.6 L388.6,432.6 L388.6,431.6 L388.7,430.6 L388.8,429.6 L388.9,428.6 L389.0,427.7 L389.1,426.7 L389.2,425.7 L389.3,424.7 L389.4,423.7 L389.4,422.7 L389.5,421.7 L389.6,420.7 L389.7,419.7 L389.8,418.7 L389.9,417.7 L390.0,416.7 L390.0,415.7 L390.1,414.7 L390.2,413.7 L390.3,412.7 L390.4,411.7 L390.5,410.7 L390.6,409.7 L390.7,408.7 L390.7,407.7 L390.8,406.7 L390.9,405.7 L391.0,404.7 L391.1,403.7 L391.2,402.7 L391.3,401.7 L391.3,400.7 L391.4,399.7 L391.5,398.8 L391.6,397.8 L391.7,396.8 L391.8,395.8 L391.9,394.8 L391.9,393.8 L392.0,392.8 L392.1,391.8 L392.2,390.8 L392.3,389.8 L392.4,388.8 L392.4,387.8 L392.5,386.8 L392.6,385.8 L392.7,384.8 L392.8,383.8 L392.9,382.8 L393.0,381.8 L393.0,380.8 L393.1,379.8 L393.2,378.8 L393.3,377.8 L393.4,376.8 L393.5,375.8 L393.5,374.8 L393.6,373.8 L393.7,372.8 L393.8,371.8 L393.9,370.8 L394.0,369.8 L394.1,368.9 L394.1,367.9 L394.2,366.9 L394.3,365.9 L394.4,364.9 L394.5,363.9 L394.6,362.9 L394.6,361.9 L394.7,360.9 L394.8,359.9 L394.9,358.9 L395.0,357.9 L395.0,356.9 L395.1,355.9 L395.2,354.9 L395.3,353.9 L395.4,352.9 L395.5,351.9 L395.5,350.9 L395.6,349.9 L395.7,348.9 L395.8,347.9 L395.9,346.9 L395.9,345.9 L396.0,344.9 L396.1,343.9 L396.2,342.9 L396.3,341.9 L396.3,340.9 L396.4,339.9 L396.5,338.9 L396.6,337.9 L396.7,336.9 L396.7,336.0 L396.8,335.0 L396.9,334.0 L397.0,333.0 L397.1,332.0 L397.2,331.0 L397.2,330.0 L397.3,329.0 L397.4,328.0 L397.5,327.0 L397.6,326.0 L397.6,325.0 L397.7,324.0 L397.8,323.0 L397.9,322.0 L398.0,321.0 L398.0,320.0 L398.1,319.0 L398.2,318.0 L398.3,317.0 L398.4,316.0 L398.4,315.0 L398.5,314.0 L398.6,313.0 L398.7,312.0 L398.8,311.0 L398.8,310.0 L398.9,309.0 L399.0,308.0 L399.1,307.0 L399.2,306.0 L399.2,305.0 L399.3,304.0 L399.4,303.1 L399.5,302.1 L399.6,301.1 L399.7,300.1 L399.7,299.1 L399.8,298.1 L399.9,297.1 L400.0,296.1 L400.1,295.1 L400.1,294.1 L400.2,293.1 L400.3,292.1 L400.4,291.1 L400.5,290.1 L400.6,289.1 L400.6,288.1 L400.7,287.1 L400.8,286.1 L400.9,285.1 L401.0,284.1 L401.1,283.1 L401.2,282.1 L401.2,281.1 L401.3,280.1 L401.4,279.1 L401.5,278.1 L401.6,277.1 L401.7,276.1 L401.7,275.1 L401.8,274.1 L401.9,273.1 L402.0,272.2 L402.1,271.2 L402.2,270.2 L402.3,269.2 L402.3,268.2 L402.4,267.2 L402.5,266.2 L402.6,265.2 L402.7,264.2 L402.8,263.2 L402.9,262.2 L402.9,261.2 L403.0,260.2 L403.1,259.2 L403.2,258.2 L403.3,257.2 L403.4,256.2 L403.5,255.2 L403.5,254.2 L403.6,253.2 L403.7,252.2 L403.8,251.2 L403.9,250.2 L404.0,249.2 L404.1,248.2 L404.2,247.2 L404.2,246.2 L404.3,245.2 L404.4,244.2 L404.5,243.3 L404.6,242.3 L404.7,241.3 L404.8,240.3 L404.9,239.3 L405.0,238.3 L405.0,237.3 L405.1,236.3 L405.2,235.3 L405.3,234.3 L405.4,233.3 L405.5,232.3 L405.6,231.3 L405.7,230.3 L405.8,229.3 L405.8,228.3 L405.9,227.3 L406.0,226.3 L406.1,225.3 L406.2,224.3 L406.3,223.3 L406.4,222.3 L406.5,221.3 L406.6,220.3 L406.7,219.3 L406.7,218.3 L406.8,217.3 L406.9,216.4 L407.0,215.4 L407.1,214.4 L407.2,213.4 L407.3,212.4 L407.4,211.4 L407.5,210.4 L407.6,209.4 L407.7,208.4 L407.7,207.4 L407.8,206.4 L407.9,205.4 L408.0,204.4 L408.1,203.4 L408.2,202.4 L408.3,201.4 L408.4,200.4 L408.5,199.4 L408.6,198.4 L408.7,197.4 L408.8,196.4 L408.9,195.4 L409.0,194.4 L409.1,193.4 L409.2,192.4 L409.3,191.5 L409.4,190.5 L409.5,189.5 L409.6,188.5 L409.6,187.5 L409.7,186.5 L409.8,185.5 L409.9,184.5 L410.0,183.5 L410.1,182.5 L410.2,181.5 L410.3,180.5 L410.4,179.5 L410.5,178.5 L410.6,177.5 L410.7,176.5 L410.8,175.5 L410.9,174.5 L411.0,173.5 L411.1,172.5 L411.2,171.5 L411.4,170.6 L411.5,169.6 L411.6,168.6 L411.7,167.6 L411.8,166.6 L411.9,165.6 L412.0,164.6 L412.1,163.6 L412.2,162.6 L412.3,161.6 L412.4,160.6 L412.5,159.6 L412.6,158.6 L412.7,157.6 L412.8,156.6 L412.9,155.6 L413.0,154.6 L413.1,153.6 L413.2,152.6 L413.4,151.7 L413.5,150.7 L413.6,149.7 L413.7,148.7 L413.8,147.7 L413.9,146.7 L414.0,145.7 L414.1,144.7 L414.2,143.7 L414.3,142.7 L414.4,141.7 L414.6,140.7 L414.7,139.7 L414.8,138.7 L414.9,137.7 L415.0,136.7 L415.1,135.7 L415.2,134.8 L415.3,133.8 L415.4,132.8 L415.6,131.8 L415.7,130.8 L415.8,129.8 L415.9,128.8 L416.0,127.8 L416.1,126.8 L416.2,125.8 L416.4,124.8 L416.5,123.8 L416.6,122.8 L416.7,121.8 L416.8,120.8 L416.9,119.8 L417.0,118.9 L417.2,117.9 L417.3,116.9 L417.4,115.9 L417.5,114.9 L417.6,113.9 L417.7,112.9 L417.9,111.9 L418.0,110.9 L418.1,109.9 L418.2,108.9 L418.3,107.9 L418.5,106.9 L418.6,105.9 L418.7,104.9 L418.8,104.0 L418.9,103.0 L419.1,102.0 L419.2,101.0 L419.3,100.0 L419.4,99.0 L419.6,98.0 L419.7,97.0 L419.8,96.0 L419.9,95.0 L420.1,94.0 L420.2,93.0 L420.3,92.0 L420.5,91.1 L420.6,90.1 L420.7,89.1 L420.8,88.1 L421.0,87.1 L421.1,86.1 L421.2,85.1 L421.3,84.1 L421.5,83.1 L421.6,82.1 L421.7,81.1 L421.9,80.1 L422.0,79.2 L422.2,78.2 L422.3,77.2 L422.4,76.2 L422.6,75.2 L422.7,74.2 L422.9,73.2 L423.0,72.2 L423.2,71.2 L423.3,70.2 L423.5,69.3 L423.6,68.3 L423.8,67.3 L424.0,66.3 L424.1,65.3 L424.3,64.3 L424.5,63.4 L424.7,62.4 L424.9,61.4 L425.2,60.4 L425.4,59.5 L425.7,58.5 L426.0,57.6 L426.4,56.6 L426.7,55.7 L427.1,54.8 L427.6,53.9 L428.1,53.1 L428.8,52.4 L429.6,51.8 L430.5,51.5 L431.5,51.6 L432.4,52.1 L433.2,52.7 L433.9,53.5 L434.4,54.3 L434.9,55.1 L435.2,56.0 L435.5,57.0 L435.7,57.9 L435.9,58.9 L436.1,59.9 L436.2,60.9 L436.3,61.9 L436.5,62.9 L436.6,63.9 L436.7,64.8 L436.9,65.8 L437.0,66.8 L437.2,67.8 L437.3,68.8 L437.4,69.8 L437.6,70.8 L437.7,71.8 L437.9,72.8 L438.0,73.8 L438.1,74.7 L438.3,75.7 L438.4,76.7 L438.6,77.7 L438.7,78.7 L438.8,79.7 L439.0,80.7 L439.1,81.7 L439.2,82.7 L439.4,83.7 L439.5,84.7 L439.6,85.6 L439.8,86.6 L439.9,87.6 L440.0,88.6 L440.2,89.6 L440.3,90.6 L440.4,91.6 L440.6,92.6 L440.7,93.6 L440.8,94.6 L440.9,95.6 L441.1,96.6 L441.2,97.6 L441.3,98.5 L441.4,99.5 L441.6,100.5 L441.7,101.5 L441.8,102.5 L441.9,103.5 L442.0,104.5 L442.2,105.5 L442.3,106.5 L442.4,107.5 L442.5,108.5 L442.7,109.5 L442.8,110.5 L442.9,111.5 L443.0,112.4 L443.1,113.4 L443.2,114.4 L443.4,115.4 L443.5,116.4 L443.6,117.4 L443.7,118.4 L443.8,119.4 L443.9,120.4 L444.0,121.4 L444.2,122.4 L444.3,123.4 L444.4,124.4 L444.5,125.4 L444.6,126.4 L444.7,127.4 L444.8,128.3 L444.9,129.3 L445.0,130.3 L445.1,131.3 L445.3,132.3 L445.4,133.3 L445.5,134.3 L445.6,135.3 L445.7,136.3 L445.8,137.3 L445.9,138.3 L446.0,139.3 L446.1,140.3 L446.2,141.3 L446.3,142.3 L446.4,143.3 L446.5,144.3 L446.6,145.3 L446.7,146.2 L446.8,147.2 L446.9,148.2 L447.0,149.2 L447.1,150.2 L447.2,151.2 L447.3,152.2 L447.4,153.2 L447.5,154.2 L447.6,155.2 L447.7,156.2 L447.8,157.2 L447.9,158.2 L448.0,159.2 L448.1,160.2 L448.2,161.2 L448.3,162.2 L448.4,163.2 L448.5,164.2 L448.6,165.2 L448.7,166.2 L448.8,167.2 L448.9,168.2 L449.0,169.1 L449.1,170.1 L449.1,171.1 L449.2,172.1 L449.3,173.1 L449.4,174.1 L449.5,175.1 L449.6,176.1 L449.7,177.1 L449.8,178.1 L449.9,179.1 L450.0,180.1 L450.0,181.1 L450.1,182.1 L450.2,183.1 L450.3,184.1 L450.4,185.1 L450.5,186.1 L450.6,187.1 L450.7,188.1 L450.7,189.1 L450.8,190.1 L450.9,191.1 L451.0,192.1 L451.1,193.1 L451.2,194.1 L451.2,195.1 L451.3,196.0 L451.4,197.0 L451.5,198.0 L451.6,199.0 L451.7,200.0 L451.7,201.0 L451.8,202.0 L451.9,203.0 L452.0,204.0 L452.1,205.0 L452.2,206.0 L452.2,207.0 L452.3,208.0 L452.4,209.0 L452.5,210.0 L452.6,211.0 L452.7,212.0 L452.7,213.0 L452.8,214.0 L452.9,215.0 L453.0,216.0 L453.1,217.0 L453.1,218.0 L453.2,219.0 L453.3,220.0 L453.4,221.0 L453.5,222.0 L453.5,223.0 L453.6,224.0 L453.7,225.0 L453.8,226.0 L453.9,227.0 L453.9,228.0 L454.0,228.9 L454.1,229.9 L454.2,230.9 L454.3,231.9 L454.3,232.9 L454.4,233.9 L454.5,234.9 L454.6,235.9 L454.6,236.9 L454.7,237.9 L454.8,238.9 L454.9,239.9 L455.0,240.9 L455.0,241.9 L455.1,242.9 L455.2,243.9 L455.3,244.9 L455.3,245.9 L455.4,246.9 L455.5,247.9 L455.6,248.9 L455.6,249.9 L455.7,250.9 L455.8,251.9 L455.9,252.9 L456.0,253.9 L456.0,254.9 L456.1,255.9 L456.2,256.9 L456.3,257.9 L456.3,258.9 L456.4,259.9 L456.5,260.9 L456.6,261.9 L456.6,262.9 L456.7,263.9 L456.8,264.9 L456.9,265.8 L457.0,266.8 L457.0,267.8 L457.1,268.8 L457.2,269.8 L457.3,270.8 L457.3,271.8 L457.4,272.8 L457.5,273.8 L457.6,274.8 L457.6,275.8 L457.7,276.8 L457.8,277.8 L457.9,278.8 L458.0,279.8 L458.0,280.8 L458.1,281.8 L458.2,282.8 L458.3,283.8 L458.3,284.8 L458.4,285.8 L458.5,286.8 L458.6,287.8 L458.6,288.8 L458.7,289.8 L458.8,290.8 L458.9,291.8 L458.9,292.8 L459.0,293.8 L459.1,294.8 L459.2,295.8 L459.3,296.8 L459.3,297.8 L459.4,298.8 L459.5,299.8 L459.6,300.8 L459.6,301.8 L459.7,302.8 L459.8,303.7 L459.9,304.7 L460.0,305.7 L460.0,306.7 L460.1,307.7 L460.2,308.7 L460.3,309.7 L460.4,310.7 L460.4,311.7 L460.5,312.7 L460.6,313.7 L460.7,314.7 L460.8,315.7 L460.8,316.7 L460.9,317.7 L461.0,318.7 L461.1,319.7 L461.2,320.7 L461.3,321.7 L461.3,322.7 L461.4,323.7 L461.5,324.7 L461.6,325.7 L461.7,326.7 L461.8,327.7 L461.8,328.7 L461.9,329.7 L462.0,330.7 L462.1,331.7 L462.2,332.7 L462.3,333.7 L462.3,334.7 L462.4,335.6 L462.5,336.6 L462.6,337.6 L462.7,338.6 L462.8,339.6 L462.9,340.6 L462.9,341.6 L463.0,342.6 L463.1,343.6 L463.2,344.6 L463.3,345.6 L463.4,346.6 L463.5,347.6 L463.6,348.6 L463.6,349.6 L463.7,350.6 L463.8,351.6 L463.9,352.6 L464.0,353.6 L464.1,354.6 L464.2,355.6 L464.3,356.6 L464.4,357.6 L464.5,358.6 L464.5,359.6 L464.6,360.6 L464.7,361.6 L464.8,362.5 L464.9,363.5 L465.0,364.5 L465.1,365.5 L465.2,366.5 L465.3,367.5 L465.4,368.5 L465.5,369.5 L465.6,370.5 L465.7,371.5 L465.8,372.5 L465.9,373.5 L466.0,374.5 L466.1,375.5 L466.2,376.5 L466.3,377.5 L466.4,378.5 L466.5,379.5 L466.6,380.5 L466.7,381.5 L466.8,382.5 L466.9,383.5 L467.0,384.4 L467.1,385.4 L467.2,386.4 L467.3,387.4 L467.5,388.4 L467.6,389.4 L467.7,390.4 L467.8,391.4 L467.9,392.4 L468.0,393.4 L468.1,394.4 L468.2,395.4 L468.3,396.4 L468.4,397.4 L468.6,398.4 L468.7,399.4 L468.8,400.4 L468.9,401.3 L469.0,402.3 L469.1,403.3 L469.3,404.3 L469.4,405.3 L469.5,406.3 L469.6,407.3 L469.7,408.3 L469.9,409.3 L470.0,410.3 L470.1,411.3 L470.2,412.3 L470.4,413.3 L470.5,414.3 L470.6,415.2 L470.7,416.2 L470.9,417.2 L471.0,418.2 L471.1,419.2 L471.2,420.2 L471.4,421.2 L471.5,422.2 L471.6,423.2 L471.8,424.2 L471.9,425.2 L472.0,426.2 L472.2,427.1 L472.3,428.1 L472.5,429.1 L472.6,430.1 L472.7,431.1 L472.9,432.1 L473.0,433.1 L473.2,434.1 L473.3,435.1 L473.4,436.1 L473.6,437.0 L473.7,438.0 L473.9,439.0 L474.0,440.0 L474.2,441.0 L474.3,442.0 L474.5,443.0 L474.6,444.0 L474.8,445.0 L475.0,445.9 L475.1,446.9 L475.3,447.9 L475.4,448.9 L475.6,449.9 L475.7,450.9 L475.9,451.9 L476.1,452.9 L476.2,453.8 L476.4,454.8 L476.6,455.8 L476.7,456.8 L476.9,457.8 L477.1,458.8 L477.2,459.8 L477.4,460.7 L477.6,461.7 L477.7,462.7 L477.9,463.7 L478.1,464.7 L478.3,465.7 L478.4,466.7 L478.6,467.6 L478.8,468.6 L479.0,469.6 L479.1,470.6 L479.3,471.6 L479.5,472.6 L479.7,473.5 L479.9,474.5 L480.1,475.5 L480.2,476.5 L480.4,477.5 L480.6,478.5 L480.8,479.4 L481.0,480.4 L481.2,481.4 L481.4,482.4 L481.6,483.4 L481.8,484.4 L482.0,485.3 L482.2,486.3 L482.4,487.3 L482.6,488.3 L482.8,489.3 L483.0,490.2 L483.2,491.2 L483.4,492.2 L483.6,493.2 L483.8,494.1 L484.0,495.1 L484.2,496.1 L484.4,497.1 L484.7,498.1 L484.9,499.0 L485.1,500.0 L485.3,501.0 L485.5,502.0 L485.7,502.9 L486.0,503.9 L486.2,504.9 L486.4,505.9 L486.6,506.8 L486.9,507.8 L487.1,508.8 L487.3,509.8 L487.5,510.7 L487.8,511.7 L488.0,512.7 L488.2,513.7 L488.5,514.6 L488.7,515.6 L489.0,516.6 L489.2,517.5 L489.4,518.5 L489.7,519.5 L489.9,520.4 L490.2,521.4 L490.4,522.4 L490.7,523.4 L490.9,524.3 L491.2,525.3 L491.4,526.3 L491.7,527.2 L491.9,528.2 L492.2,529.2 L492.4,530.1 L492.7,531.1 L493.0,532.1 L493.2,533.0 L493.5,534.0 L493.8,534.9 L494.1,535.9 L494.3,536.9 L494.6,537.8 L494.9,538.8 L495.2,539.7 L495.5,540.7 L495.8,541.6 L496.1,542.6 L496.4,543.5 L496.7,544.5 L497.0,545.4 L497.4,546.4 L497.7,547.3 L498.0,548.3 L498.3,549.2 L498.7,550.2 L499.0,551.1 L499.3,552.1 L499.7,553.0 L500.0,553.9 L500.4,554.9 L500.7,555.8 L501.1,556.7 L501.4,557.7 L501.8,558.6 L502.1,559.5 L502.5,560.5 L502.9,561.4 L503.2,562.3 L503.6,563.3 L504.0,564.2 L504.3,565.1 L504.7,566.1 L505.1,567.0 L505.5,567.9 L505.8,568.8 L506.2,569.8 L506.6,570.7 L507.0,571.6 L507.3,572.6 L507.7,573.5 L508.1,574.4 L508.5,575.3 L508.9,576.3 L509.2,577.2 L509.6,578.1 L510.0,579.0 L510.4,580.0 L510.8,580.9 L511.1,581.8 L511.5,582.7 L511.9,583.7 L512.3,584.6 L512.7,585.5 L513.1,586.4 L513.4,587.4 L513.8,588.3 L514.2,589.2 L514.6,590.1 L514.9,591.1 L515.3,592.0 L515.7,592.9 L516.1,593.8 L516.5,594.8 L516.8,595.7 L517.2,596.6 L517.6,597.5 L518.0,598.5 L518.4,599.4 L518.7,600.3 L519.1,601.2 L519.5,602.2 L519.9,603.1 L520.3,604.0 L520.6,604.9 L521.0,605.9 L521.4,606.8 L521.8,607.7 L522.2,608.6 L522.6,609.5 L523.0,610.5 L523.4,611.4 L523.8,612.3 L524.2,613.2 L524.6,614.1 L525.0,615.0 L525.4,616.0 L525.8,616.9 L526.2,617.8 L526.7,618.7 L527.1,619.6 L527.5,620.5 L528.0,621.4 L528.4,622.3 L528.8,623.2 L529.3,624.1 L529.7,625.0 L530.2,625.8 L530.7,626.7 L531.1,627.6 L531.6,628.5 L532.1,629.4 L532.6,630.2 L533.1,631.1 L533.6,632.0 L534.1,632.8 L534.6,633.7 L535.1,634.5 L535.6,635.4 L536.2,636.2 L536.7,637.1 L537.3,637.9 L537.8,638.7 L538.4,639.6 L538.9,640.4 L539.5,641.2 L540.1,642.0 L540.7,642.8 L541.3,643.6 L541.9,644.4 L542.5,645.2 L543.1,646.0 L543.8,646.7 L544.4,647.5 L545.0,648.3 L545.7,649.0 L546.4,649.8 L547.0,650.5 L547.7,651.2 L548.4,651.9 L549.1,652.6 L549.8,653.3 L550.5,654.0 L551.2,654.7 L552.0,655.4 L552.7,656.0 L553.5,656.7 L554.2,657.3 L555.0,658.0 L555.7,658.6 L556.5,659.2 L557.3,659.9 L558.1,660.4 L558.9,661.0 L559.7,661.6 L560.6,662.1 L561.4,662.7 L562.2,663.2 L563.1,663.7 L564.0,664.2 L564.9,664.6 L565.8,665.0 L566.7,665.4 L567.6,665.8 L568.5,666.2 L569.5,666.5 L570.4,666.8 L571.4,667.1 L572.4,667.3 L573.4,667.5 L574.3,667.7 L575.3,667.8 L576.3,667.9 L577.3,668.0 L578.3,668.1 L579.3,668.1 L580.3,668.1 L581.3,668.0 L582.3,668.0 L583.3,667.9 L584.3,667.8 L585.3,667.6 L586.3,667.5 L587.3,667.3 L588.2,667.1 L589.2,666.8 L590.2,666.6 L591.1,666.3 L592.1,666.0 L593.0,665.7 L594.0,665.4 L594.9,665.1 L595.8,664.7 L596.7,664.3 L597.7,663.9 L598.6,663.5 L599.5,663.1 L600.4,662.7 L601.3,662.3 L602.1,661.8 L603.0,661.4 L603.9,660.9 L604.8,660.4 L605.6,659.9 L606.5,659.4 L607.3,658.9 L608.2,658.4 L609.0,657.8 L609.8,657.3 L610.6,656.7 L611.4,656.1 L612.2,655.5 L613.0,654.9 L613.8,654.3 L614.5,653.6 L615.3,653.0 L616.0,652.3 L616.8,651.7 L617.5,651.0 L618.2,650.3 L618.9,649.6 L619.6,648.9 L620.3,648.2 L621.0,647.4 L621.7,646.7 L622.3,646.0 L623.0,645.2 L623.6,644.5 L624.3,643.7 L624.9,642.9 L625.5,642.2 L626.1,641.4 L626.8,640.6 L627.3,639.8 L627.9,639.0 L628.5,638.2 L629.1,637.3 L629.7,636.5 L630.2,635.7 L630.8,634.9 L631.3,634.0 L631.8,633.2 L632.4,632.3 L632.9,631.5 L633.4,630.6 L633.9,629.8 L634.4,628.9 L634.9,628.0 L635.4,627.2 L635.9,626.3 L636.4,625.4 L636.9,624.6 L637.3,623.7 L637.8,622.8 L638.3,621.9 L638.7,621.0 L639.2,620.1 L639.6,619.2 L640.0,618.3 L640.5,617.4 L640.9,616.5 L641.3,615.6 L641.8,614.7 L642.2,613.8 L642.6,612.9 L643.0,612.0 L643.4,611.1 L643.9,610.2 L644.3,609.3 L644.7,608.3 L645.1,607.4 L645.5,606.5 L645.9,605.6 L646.3,604.7 L646.6,603.8 L647.0,602.8 L647.4,601.9 L647.8,601.0 L648.2,600.1 L648.6,599.1 L649.0,598.2 L649.3,597.3 L649.7,596.4 L650.1,595.4 L650.5,594.5 L650.9,593.6 L651.2,592.7 L651.6,591.7 L652.0,590.8 L652.3,589.9 L652.7,588.9 L653.1,588.0 L653.4,587.1 L653.8,586.2 L654.2,585.2 L654.5,584.3 L654.9,583.4 L655.3,582.4 L655.6,581.5 L656.0,580.6 L656.4,579.6 L656.7,578.7 L657.1,577.8 L657.4,576.8 L657.8,575.9 L658.2,575.0 L658.5,574.0 L658.9,573.1 L659.2,572.2 L659.6,571.2 L659.9,570.3 L660.3,569.3 L660.6,568.4 L661.0,567.5 L661.3,566.5 L661.7,565.6 L662.0,564.7 L662.4,563.7 L662.7,562.8 L663.1,561.8 L663.4,560.9 L663.8,560.0 L664.1,559.0 L664.4,558.1 L664.8,557.1 L665.1,556.2 L665.5,555.3 L665.8,554.3 L666.1,553.4 L666.5,552.4 L666.8,551.5 L667.2,550.6 L667.5,549.6 L667.8,548.7 L668.2,547.7 L668.5,546.8 L668.8,545.8 L669.2,544.9 L669.5,544.0 L669.8,543.0 L670.2,542.1 L670.5,541.1 L670.8,540.2 L671.1,539.2 L671.5,538.3 L671.8,537.4 L672.1,536.4 L672.5,535.5 L672.8,534.5 L673.1,533.6 L673.4,532.6 L673.8,531.7 L674.1,530.7 L674.4,529.8 L674.7,528.8 L675.1,527.9 L675.4,526.9 L675.7,526.0 L676.0,525.1 L676.3,524.1 L676.7,523.2 L677.0,522.2 L677.3,521.3 L677.6,520.3 L677.9,519.4 L678.3,518.4 L678.6,517.5 L678.9,516.5 L679.2,515.6 L679.5,514.6 L679.8,513.7 L680.2,512.7 L680.5,511.8 L680.8,510.8 L681.1,509.9 L681.4,508.9 L681.7,508.0 L682.0,507.0 L682.4,506.1 L682.7,505.1 L683.0,504.2 L683.3,503.2 L683.6,502.3 L683.9,501.3 L684.2,500.4 L684.5,499.4 L684.9,498.5 L685.2,497.5 L685.5,496.6 L685.8,495.6 L686.1,494.7 L686.4,493.7 L686.7,492.8 L687.0,491.8 L687.3,490.9 L687.7,489.9 L688.0,489.0 L688.3,488.0 L688.6,487.1 L688.9,486.1 L689.2,485.2 L689.5,484.2 L689.8,483.3 L690.1,482.3 L690.4,481.4 L690.7,480.4 L691.1,479.5 L691.4,478.5 L691.7,477.6 L692.0,476.6 L692.3,475.6 L692.6,474.7 L692.9,473.7 L693.2,472.8 L693.5,471.8 L693.8,470.9 L694.1,469.9 L694.4,469.0 L694.8,468.0 L695.1,467.1 L695.4,466.1 L695.7,465.2 L696.0,464.2 L696.3,463.3 L696.6,462.3 L696.9,461.4 L697.2,460.4 L697.5,459.5 L697.8,458.5 L698.2,457.6 L698.5,456.6 L698.8,455.7 L699.1,454.7 L699.4,453.8 L699.7,452.8 L700.0,451.9 L700.3,450.9 L700.6,450.0 L701.0,449.0 L701.3,448.1 L701.6,447.1 L701.9,446.2 L702.2,445.2 L702.5,444.3 L702.8,443.3 L703.1,442.4 L703.5,441.4 L703.8,440.5 L704.1,439.5 L704.4,438.6 L704.7,437.6 L705.0,436.7 L705.4,435.7 L705.7,434.8 L706.0,433.8 L706.3,432.9 L706.6,431.9 L706.9,431.0 L707.3,430.0 L707.6,429.1 L707.9,428.1 L708.2,427.2 L708.5,426.2 L708.9,425.3 L709.2,424.3 L709.5,423.4 L709.8,422.4 L710.1,421.5 L710.5,420.6 L710.8,419.6 L711.1,418.7 L711.4,417.7 L711.8,416.8 L712.1,415.8 L712.4,414.9 L712.7,413.9 L713.1,413.0 L713.4,412.0 L713.7,411.1 L714.0,410.2 L714.4,409.2 L714.7,408.3 L715.0,407.3 L715.4,406.4 L715.7,405.4 L716.0,404.5 L716.4,403.5 L716.7,402.6 L717.0,401.7 L717.4,400.7 L717.7,399.8 L718.0,398.8 L718.4,397.9 L718.7,396.9 L719.1,396.0 L719.4,395.1 L719.7,394.1 L720.1,393.2 L720.4,392.2 L720.8,391.3 L721.1,390.4 L721.4,389.4 L721.8,388.5 L722.1,387.5 L722.5,386.6 L722.8,385.7 L723.2,384.7 L723.5,383.8 L723.9,382.9 L724.2,381.9 L724.6,381.0 L724.9,380.1 L725.3,379.1 L725.6,378.2 L726.0,377.2 L726.4,376.3 L726.7,375.4 L727.1,374.4 L727.4,373.5 L727.8,372.6 L728.2,371.6 L728.5,370.7 L728.9,369.8 L729.3,368.9 L729.6,367.9 L730.0,367.0 L730.4,366.1 L730.7,365.1 L731.1,364.2 L731.5,363.3 L731.8,362.3 L732.2,361.4 L732.6,360.5 L733.0,359.6 L733.4,358.6 L733.7,357.7 L734.1,356.8 L734.5,355.9 L734.9,354.9 L735.3,354.0 L735.6,353.1 L736.0,352.2 L736.4,351.3 L736.8,350.3 L737.2,349.4 L737.6,348.5 L738.0,347.6 L738.4,346.7 L738.8,345.7 L739.2,344.8 L739.6,343.9 L740.0,343.0 L740.4,342.1 L740.8,341.2 L741.2,340.2 L741.6,339.3 L742.0,338.4 L742.4,337.5 L742.8,336.6 L743.3,335.7 L743.7,334.8 L744.1,333.9 L744.5,333.0 L744.9,332.0 L745.3,331.1 L745.8,330.2 L746.2,329.3 L746.6,328.4 L747.0,327.5 L747.5,326.6 L747.9,325.7 L748.3,324.8 L748.8,323.9 L749.2,323.0 L749.6,322.1 L750.1,321.2 L750.5,320.3 L751.0,319.4 L751.4,318.5 L751.9,317.6 L752.3,316.7 L752.8,315.8 L753.2,314.9 L753.7,314.1 L754.1,313.2 L754.6,312.3 L755.0,311.4 L755.5,310.5 L756.0,309.6 L756.4,308.7 L756.9,307.8 L757.4,307.0 L757.8,306.1 L758.3,305.2 L758.8,304.3 L759.3,303.4 L759.8,302.6 L760.2,301.7 L760.7,300.8 L761.2,299.9 L761.7,299.1 L762.2,298.2 L762.7,297.3 L763.2,296.5 L763.7,295.6 L764.2,294.7 L764.7,293.9 L765.2,293.0 L765.7,292.1 L766.2,291.3 L766.7,290.4 L767.2,289.5 L767.7,288.7 L768.2,287.8 L768.7,287.0 L769.3,286.1 L769.8,285.3 L770.3,284.4 L770.8,283.6 L771.4,282.7 L771.9,281.9 L772.4,281.0 L773.0,280.2 L773.5,279.3 L774.1,278.5 L774.6,277.7 L775.1,276.8 L775.7,276.0 L776.2,275.2 L776.8,274.3 L777.4,273.5 L777.9,272.7 L778.5,271.8 L779.0,271.0 L779.6,270.2 L780.2,269.4 L780.7,268.5 L781.3,267.7 L781.9,266.9 L782.5,266.1 L783.0,265.3 L783.6,264.5 L784.2,263.6 L784.8,262.8 L785.4,262.0 L786.0,261.2 L786.6,260.4 L787.2,259.6 L787.8,258.8 L788.4,258.0 L789.0,257.2 L789.6,256.4 L790.2,255.6 L790.8,254.9 L791.4,254.1 L792.1,253.3 L792.7,252.5 L793.3,251.7 L793.9,250.9 L794.6,250.2 L795.2,249.4 L795.8,248.6 L796.5,247.8 L797.1,247.1 L797.7,246.3 L798.4,245.5 L799.0,244.8 L799.7,244.0 L800.3,243.2 L801.0,242.5 L801.6,241.7 L802.3,241.0 L802.9,240.2 L803.6,239.5 L804.3,238.7 L804.9,238.0 L805.6,237.2 L806.3,236.5 L806.9,235.7 L807.6,235.0 L808.3,234.3 L809.0,233.5 L809.7,232.8 L810.3,232.1 L811.0,231.4 L811.7,230.6 L812.4,229.9 L813.1,229.2 L813.8,228.5 L814.5,227.7 L815.2,227.0 L815.9,226.3 L816.6,225.6 L817.3,224.9 L818.0,224.2 L818.7,223.5 L819.4,222.8 L820.1,222.1 L820.9,221.4 L821.6,220.7 L822.3,220.0 L823.0,219.3 L823.7,218.6 L824.5,217.9 L825.2,217.2 L825.9,216.6 L826.6,215.9 L827.4,215.2 L828.1,214.5 L828.9,213.8 L829.6,213.2 L830.3,212.5 L831.1,211.8 L831.8,211.2 L832.6,210.5 L833.3,209.8 L834.1,209.2 L834.8,208.5 L835.6,207.9 L836.3,207.2 L837.1,206.5 L837.8,205.9 L838.6,205.2 L839.4,204.6 L840.1,204.0 L840.9,203.3 L841.7,202.7 L842.4,202.0 L843.2,201.4 L844.0,200.8 L844.8,200.1 L845.5,199.5 L846.3,198.9 L847.1,198.2 L847.9,197.6 L848.7,197.0 L849.4,196.4 L850.2,195.8 L851.0,195.1 L851.8,194.5 L852.6,193.9 L853.4,193.3 L854.2,192.7 L855.0,192.1 L855.8,191.5 L856.6,190.9 L857.4,190.3 L858.2,189.7 L859.0,189.1 L859.8,188.5 L860.6,187.9 L861.4,187.3 L862.2,186.7 L863.0,186.2 L863.8,185.6 L864.7,185.0 L865.5,184.4 L866.3,183.8 L867.1,183.3 L867.9,182.7 L868.7,182.1 L869.6,181.6 L870.4,181.0 L871.2,180.4 L872.1,179.9 L872.9,179.3 L873.7,178.8 L874.5,178.2 L875.4,177.6 L876.2,177.1 L877.1,176.6 L877.9,176.0 L878.7,175.5 L879.6,174.9 L880.4,174.4 L881.3,173.9 L882.1,173.3 L883.0,172.8 L883.8,172.3 L884.7,171.7 L885.5,171.2 L886.4,170.7 L887.2,170.2 L888.1,169.7 L888.9,169.2 L889.8,168.6 L890.7,168.1 L891.5,167.6 L892.4,167.1 L893.3,166.6 L894.1,166.2 L895.0,165.7 L895.9,165.2 L896.7,164.7 L897.6,164.2 L898.5,163.7 L899.4,163.2 L900.3,162.8 L901.1,162.3 L902.0,161.8 L902.9,161.4 L903.8,160.9 L904.7,160.5 L905.6,160.0 L906.5,159.6 L907.4,159.1 L908.3,158.7 L909.2,158.2 L910.1,157.8 L911.0,157.4 L911.9,156.9 L912.8,156.5 L913.7,156.1 L914.6,155.7 L915.5,155.2 L916.4,154.8 L917.3,154.4 L918.2,154.0 L919.1,153.6 L920.1,153.2 L921.0,152.8 L921.9,152.4 L922.8,152.0 L923.8,151.7 L924.7,151.3 L925.6,150.9 L926.5,150.6 L927.5,150.2 L928.4,149.8 L929.3,149.5 L930.3,149.1 L931.2,148.8 L932.2,148.5 L933.1,148.1 L934.0,147.8 L935.0,147.5 L935.9,147.2 L936.9,146.9 L937.8,146.6 L938.8,146.3 L939.7,146.0 L940.7,145.7 L941.7,145.4 L942.6,145.1 L943.6,144.9 L944.6,144.6 L945.5,144.4 L946.5,144.1 L947.5,143.9 L948.4,143.6 L949.4,143.4 L950.4,143.2 L951.4,143.0 L952.3,142.8 L953.3,142.6 L954.3,142.4 L955.3,142.2 L956.3,142.1 L957.2,141.9 L958.2,141.8 L959.2,141.6 L960.2,141.5 L961.2,141.4 L962.2,141.2 L963.2,141.1 L964.2,141.0 L965.2,140.9 L966.2,140.9 L967.2,140.8 L968.2,140.7 L969.1,140.6 L970.1,140.6 L971.1,140.5 L972.1,140.5 L973.1,140.5 L974.1,140.5 L975.1,140.5 L976.1,140.5 L977.1,140.5 L978.1,140.5 L979.1,140.5 L980.1,140.5 L981.1,140.6 L982.1,140.6 L983.1,140.7 L984.1,140.7 L985.1,140.8 L986.1,140.9 L987.1,141.0 L988.1,141.0 L989.1,141.1 L990.1,141.3 L991.1,141.4 L992.1,141.5 L993.0,141.6 L994.0,141.8 L995.0,141.9 L996.0,142.1 L997.0,142.2 L998.0,142.4 L999.0,142.6 L999.9,142.8 L1000.9,143.0 L1001.9,143.2 L1002.9,143.4 L1003.9,143.6 L1004.8,143.8 L1005.8,144.0 L1006.8,144.3 L1007.7,144.5 L1008.7,144.8 L1009.7,145.0 L1010.6,145.3 L1011.6,145.6 L1012.5,145.8 L1013.5,146.1 L1014.5,146.4 L1015.4,146.7 L1016.4,147.1 L1017.3,147.4 L1018.2,147.7 L1019.2,148.0 L1020.1,148.4 L1021.1,148.7 L1022.0,149.1 L1022.9,149.4 L1023.9,149.8 L1024.8,150.2 L1025.7,150.6 L1026.6,150.9 L1027.5,151.3 L1028.4,151.8 L1029.4,152.2 L1030.3,152.6 L1031.2,153.0 L1032.1,153.4 L1033.0,153.9 L1033.9,154.3 L1034.7,154.8 L1035.6,155.2 L1036.5,155.7 L1037.4,156.2 L1038.3,156.7 L1039.1,157.2 L1040.0,157.7 L1040.9,158.2 L1041.7,158.7 L1042.6,159.2 L1043.4,159.7 L1044.3,160.2 L1045.1,160.8 L1045.9,161.3 L1046.8,161.9 L1047.6,162.4 L1048.4,163.0 L1049.3,163.6 L1050.1,164.1 L1050.9,164.7 L1051.7,165.3 L1052.5,165.9 L1053.3,166.5 L1054.1,167.1 L1054.9,167.7 L1055.7,168.3 L1056.5,168.9 L1057.2,169.6 L1058.0,170.2 L1058.8,170.8 L1059.5,171.5 L1060.3,172.1 L1061.1,172.8 L1061.8,173.4 L1062.6,174.1 L1063.3,174.8 L1064.0,175.4 L1064.8,176.1 L1065.5,176.8 L1066.2,177.5 L1067.0,178.2 L1067.7,178.8 L1068.4,179.5 L1069.1,180.2 L1069.8,180.9 L1070.5,181.6 L1071.2,182.4 L1071.9,183.1 L1072.6,183.8 L1073.3,184.5 L1074.0,185.2 L1074.7,186.0 L1075.4,186.7 L1076.1,187.4 L1076.7,188.2 L1077.4,188.9 L1078.1,189.6 L1078.8,190.4 L1079.4,191.1 L1080.1,191.9 L1080.7,192.6 L1081.4,193.4 L1082.0,194.1 L1082.7,194.9 L1083.3,195.7 L1084.0,196.4 L1084.6,197.2 L1085.3,198.0 L1085.9,198.7 L1086.5,199.5 L1087.2,200.3 L1087.8,201.1 L1088.4,201.8 L1089.1,202.6 L1089.7,203.4 L1090.3,204.2 L1090.9,205.0 L1091.5,205.8 L1092.2,206.5 L1092.8,207.3 L1093.4,208.1 L1094.0,208.9 L1094.6,209.7 L1095.2,210.5 L1095.8,211.3 L1096.4,212.1 L1097.0,212.9 L1097.6,213.7 L1098.2,214.5 L1098.8,215.3 L1099.4,216.1 L1100.0,216.9 L1100.6,217.7 L1101.2,218.5 L1101.8,219.3 L1102.4,220.1 L1103.0,220.9 L1103.6,221.7 L1104.2,222.5 L1104.7,223.4 L1105.3,224.2 L1105.9,225.0 L1106.5,225.8 L1107.1,226.6 L1107.7,227.4 L1108.2,228.2 L1108.8,229.0 L1109.4,229.9 L1110.0,230.7 L1110.6,231.5 L1111.1,232.3 L1111.7,233.1 L1112.3,234.0 L1112.9,234.8 L1113.4,235.6 L1114.0,236.4 L1114.6,237.2 L1115.1,238.1 L1115.7,238.9 L1116.3,239.7 L1116.8,240.5 L1117.4,241.4 L1118.0,242.2 L1118.5,243.0 L1119.1,243.8 L1119.7,244.7 L1120.2,245.5 L1120.8,246.3 L1121.3,247.2 L1121.9,248.0 L1122.5,248.8 L1123.0,249.6 L1123.6,250.5 L1124.1,251.3 L1124.7,252.1 L1125.2,253.0 L1125.8,253.8 L1126.3,254.6 L1126.9,255.5 L1127.4,256.3 L1128.0,257.1 L1128.5,258.0 L1129.1,258.8 L1129.6,259.7 L1130.2,260.5 L1130.7,261.3 L1131.3,262.2 L1131.8,263.0 L1132.3,263.9 L1132.9,264.7 L1133.4,265.5 L1134.0,266.4 L1134.5,267.2 L1135.0,268.1 L1135.6,268.9 L1136.1,269.8 L1136.7,270.6 L1137.2,271.4 L1137.7,272.3 L1138.3,273.1 L1138.8,274.0 L1139.3,274.8 L1139.9,275.7 L1140.4,276.5 L1140.9,277.4 L1141.5,278.2 L1142.0,279.1 L1142.5,279.9 L1143.0,280.8 L1143.6,281.6 L1144.1,282.5 L1144.6,283.3 L1145.2,284.2 L1145.7,285.0 L1146.2,285.9 L1146.7,286.7 L1147.3,287.6 L1147.8,288.4 L1148.3,289.3 L1148.8,290.1 L1149.4,291.0 L1149.9,291.8 L1150.4,292.7 L1150.9,293.5 L1151.4,294.4 L1152.0,295.2 L1152.5,296.1 L1153.0,296.9 L1153.5,297.8 L1154.0,298.7 L1154.6,299.5 L1155.1,300.4 L1155.6,301.2 L1156.1,302.1 L1156.6,302.9 L1157.1,303.8 L1157.7,304.7 L1158.2,305.5 L1158.7,306.4 L1159.2,307.2 L1159.7,308.1 L1160.2,308.9 L1160.7,309.8 L1161.3,310.7 L1161.8,311.5 L1162.3,312.4 L1162.8,313.2 L1163.3,314.1 L1163.8,315.0 L1164.3,315.8 L1164.8,316.7 L1165.4,317.5 L1165.9,318.4 L1166.4,319.3 L1166.9,320.1 L1167.4,321.0 L1167.9,321.8 L1168.4,322.7 L1168.9,323.6 L1169.4,324.4 L1169.9,325.3 L1170.5,326.1 L1171.0,327.0 L1171.5,327.9 L1172.0,328.7 L1172.5,329.6 L1173.0,330.4 L1173.5,331.3 L1174.0,332.2 L1174.5,333.0 L1175.0,333.9 L1175.5,334.8 L1176.0,335.6 L1176.6,336.5 L1177.1,337.3 L1177.6,338.2 L1178.1,339.1 L1178.6,339.9 L1179.1,340.8 L1179.6,341.6 L1180.1,342.5 L1180.6,343.4 L1181.1,344.2 L1181.6,345.1 L1182.1,346.0 L1182.6,346.8 L1183.1,347.7 L1183.7,348.5 L1184.2,349.4 L1184.7,350.3 L1185.2,351.1 L1185.7,352.0 L1186.2,352.9 L1186.7,353.7 L1187.2,354.6 L1187.7,355.4 L1188.2,356.3 L1188.7,357.2 L1189.2,358.0 L1189.8,358.9 L1190.3,359.7 L1190.8,360.6 L1191.3,361.5 L1191.8,362.3 L1192.3,363.2 L1192.8,364.0 L1193.3,364.9 L1193.8,365.8 L1194.3,366.6 L1194.9,367.5 L1195.4,368.3 L1195.9,369.2 L1196.4,370.1 L1196.9,370.9 L1197.4,371.8 L1197.9,372.6 L1198.4,373.5 L1198.9,374.4 L1199.5,375.2 L1200.0,376.1 L1200.5,376.9 L1201.0,377.8 L1201.5,378.7 L1202.0,379.5 L1202.5,380.4 L1203.0,381.2 L1203.6,382.1 L1204.1,383.0 L1204.6,383.8 L1205.1,384.7 L1205.6,385.5 L1206.1,386.4 L1206.6,387.2 L1207.1,388.1 L1207.7,389.0 L1208.2,389.8 L1208.7,390.7 L1209.2,391.5 L1209.7,392.4 L1210.2,393.3 L1210.8,394.1 L1211.3,395.0 L1211.8,395.8 L1212.3,396.7 L1212.8,397.5 L1213.3,398.4 L1213.8,399.3 L1214.4,400.1 L1214.9,401.0 L1215.4,401.8 L1215.9,402.7 L1216.4,403.5 L1217.0,404.4 L1217.5,405.2 L1218.0,406.1 L1218.5,407.0 L1219.0,407.8 L1219.5,408.7 L1220.1,409.5 L1220.6,410.4 L1221.1,411.2 L1221.6,412.1 L1222.1,412.9 L1222.7,413.8 L1223.2,414.7 L1223.7,415.5 L1224.2,416.4 L1224.7,417.2 L1225.3,418.1 L1225.8,418.9 L1226.3,419.8 L1226.8,420.6 L1227.3,421.5 L1227.9,422.3 L1228.4,423.2 L1228.9,424.0 L1229.4,424.9 L1229.9,425.8 L1230.5,426.6 L1231.0,427.5 L1231.5,428.3 L1232.0,429.2 L1232.6,430.0 L1233.1,430.9 L1233.6,431.7 L1234.1,432.6 L1234.7,433.4 L1235.2,434.3 L1235.7,435.1 L1236.2,436.0 L1236.8,436.8 L1237.3,437.7 L1237.8,438.5 L1238.3,439.4 L1238.9,440.2 L1239.4,441.1 L1239.9,441.9 L1240.4,442.8 L1241.0,443.6 L1241.5,444.5 L1242.0,445.3 L1242.5,446.2 L1243.1,447.0 L1243.6,447.9 L1244.1,448.7 L1244.6,449.6 L1245.2,450.4 L1245.7,451.3 L1246.2,452.1 L1246.8,453.0 L1247.3,453.8 L1247.8,454.7 L1248.3,455.5 L1248.9,456.4 L1249.4,457.2 L1249.9,458.1 L1250.5,458.9 L1251.0,459.8 L1251.5,460.6 L1252.0,461.5 L1252.6,462.3 L1253.1,463.2 L1253.6,464.0 L1254.2,464.9 L1254.7,465.7 L1255.2,466.6 L1255.8,467.4 L1256.3,468.3 L1256.8,469.1 L1257.4,470.0 L1257.9,470.8 L1258.4,471.7 L1259.0,472.5 L1259.5,473.3 L1260.0,474.2 L1260.6,475.0 L1261.1,475.9 L1261.6,476.7 L1262.2,477.6 L1262.7,478.4 L1263.2,479.3 L1263.8,480.1 L1264.3,481.0 L1264.8,481.8 L1265.4,482.6 L1265.9,483.5 L1266.4,484.3 L1267.0,485.2 L1267.5,486.0 L1268.0,486.9 L1268.6,487.7 L1269.1,488.6 L1269.7,489.4 L1270.2,490.2 L1270.7,491.1 L1271.3,491.9 L1271.8,492.8 L1272.3,493.6 L1272.9,494.5 L1273.4,495.3 L1274.0,496.1 L1274.5,497.0 L1275.0,497.8 L1275.6,498.7 L1276.1,499.5 L1276.7,500.4 L1277.2,501.2 L1277.7,502.0 L1278.3,502.9 L1278.8,503.7 L1279.4,504.6 L1279.9,505.4 L1280.5,506.2 L1281.0,507.1 L1281.5,507.9 L1282.1,508.8 L1282.6,509.6 L1283.2,510.4 L1283.7,511.3 L1284.3,512.1 L1284.8,513.0 L1285.3,513.8 L1285.9,514.6 L1286.4,515.5 L1287.0,516.3 L1287.5,517.2 L1288.1,518.0 L1288.6,518.8 L1289.2,519.7 L1289.7,520.5 L1290.3,521.3 L1290.8,522.2 L1291.4,523.0 L1291.9,523.9 L1292.5,524.7 L1293.0,525.5 L1293.6,526.4 L1294.1,527.2 L1294.7,528.0 L1295.2,528.9 L1295.8,529.7 L1296.3,530.5 L1296.9,531.4 L1297.4,532.2 L1298.0,533.0 L1298.5,533.9 L1299.1,534.7 L1299.6,535.5 L1300.2,536.4 L1300.8,537.2 L1301.3,538.0 L1301.9,538.8 L1302.4,539.7 L1303.0,540.5 L1303.6,541.3 L1304.1,542.2 L1304.7,543.0 L1305.2,543.8 L1305.8,544.6 L1306.4,545.5 L1306.9,546.3 L1307.5,547.1 L1308.1,547.9 L1308.6,548.8 L1309.2,549.6 L1309.8,550.4 L1310.3,551.2 L1310.9,552.1 L1311.5,552.9 L1312.1,553.7 L1312.6,554.5 L1313.2,555.3 L1313.8,556.2 L1314.4,557.0 L1314.9,557.8 L1315.5,558.6 L1316.1,559.4 L1316.7,560.2 L1317.2,561.1 L1317.8,561.9 L1318.4,562.7 L1319.0,563.5 L1319.6,564.3 L1320.2,565.1 L1320.7,565.9 L1321.3,566.7 L1321.9,567.5 L1322.5,568.4 L1323.1,569.2 L1323.7,570.0 L1324.3,570.8 L1324.9,571.6 L1325.5,572.4 L1326.1,573.2 L1326.6,574.0 L1327.2,574.8 L1327.8,575.6 L1328.4,576.4 L1329.0,577.2 L1329.6,578.0 L1330.2,578.8 L1330.8,579.6 L1331.4,580.4 L1332.0,581.2 L1332.7,582.0 L1333.3,582.8 L1333.9,583.6 L1334.5,584.4 L1335.1,585.2 L1335.7,586.0 L1336.3,586.8 L1336.9,587.5 L1337.5,588.3 L1338.2,589.1 L1338.8,589.9 L1339.4,590.7 L1340.0,591.5 L1340.6,592.3 L1341.2,593.1 L1341.9,593.8 L1342.5,594.6 L1343.1,595.4 L1343.7,596.2 L1344.4,597.0 L1345.0,597.7 L1345.6,598.5 L1346.3,599.3 L1346.9,600.1 L1347.5,600.8 L1348.2,601.6 L1348.8,602.4 L1349.4,603.2 L1350.1,603.9 L1350.7,604.7 L1351.3,605.5 L1352.0,606.2 L1352.6,607.0 L1353.3,607.8 L1353.9,608.6 L1354.5,609.3 L1355.2,610.1 L1355.8,610.8 L1356.5,611.6 L1357.1,612.4 L1357.8,613.1 L1358.4,613.9 L1359.1,614.6 L1359.7,615.4 L1360.4,616.2 L1361.0,616.9 L1361.7,617.7 L1362.4,618.4 L1363.0,619.2 L1363.7,619.9 L1364.3,620.7 L1365.0,621.4 L1365.7,622.2 L1366.3,622.9 L1367.0,623.7 L1367.6,624.4 L1368.3,625.2 L1369.0,625.9 L1369.6,626.7 L1370.3,627.4 L1371.0,628.2 L1371.7,628.9 L1372.3,629.6 L1373.0,630.4 L1373.7,631.1 L1374.4,631.9 L1375.0,632.6 L1375.7,633.3 L1376.4,634.1 L1377.1,634.8 L1377.7,635.5 L1378.4,636.3 L1379.1,637.0 L1379.8,637.7 L1380.5,638.4 L1381.2,639.2 L1381.9,639.9 L1382.5,640.6 L1383.2,641.4 L1383.9,642.1 L1384.6,642.8 L1385.3,643.5 L1386.0,644.2 L1386.7,645.0 L1387.4,645.7 L1388.1,646.4 L1388.8,647.1 L1389.5,647.8 L1390.2,648.5 L1390.9,649.3 L1391.6,650.0 L1392.3,650.7 L1393.0,651.4 L1393.7,652.1 L1394.4,652.8 L1395.1,653.5 L1395.8,654.2 L1396.5,654.9 L1397.2,655.6 L1397.9,656.3 L1398.7,657.0 L1399.4,657.7 L1400.1,658.4 L1400.8,659.1 L1401.5,659.8 L1402.2,660.5 L1403.0,661.2 L1403.7,661.9 L1404.4,662.6 L1405.1,663.3 L1405.8,664.0 L1406.6,664.7 L1407.3,665.4 L1408.0,666.1 L1408.8,666.7 L1409.5,667.4 L1410.2,668.1 L1410.9,668.8 L1411.7,669.5 L1412.4,670.2 L1413.2,670.8 L1413.9,671.5 L1414.6,672.2 L1415.4,672.9 L1416.1,673.5 L1416.8,674.2 L1417.6,674.9 L1418.3,675.5 L1419.1,676.2 L1419.8,676.9 L1420.6,677.5 L1421.3,678.2 L1422.1,678.9 L1422.8,679.5 L1423.6,680.2 L1424.3,680.8 L1425.1,681.5 L1425.8,682.2 L1426.6,682.8 L1427.3,683.5 L1428.1,684.1 L1428.9,684.8 L1429.6,685.4 L1430.4,686.1 L1431.1,686.7 L1431.9,687.4 L1432.7,688.0 L1433.4,688.7 L1434.2,689.3 L1435.0,689.9 L1435.7,690.6 L1436.5,691.2 L1437.3,691.8 L1438.1,692.5 L1438.8,693.1 L1439.6,693.7 L1440.4,694.4 L1441.2,695.0 L1441.9,695.6 L1442.7,696.3 L1443.5,696.9 L1444.3,697.5 L1445.1,698.1 L1445.8,698.8 L1446.6,699.4 L1447.4,700.0 L1448.2,700.6 L1449.0,701.2 L1449.8,701.8 L1450.6,702.4 L1451.4,703.1 L1452.2,703.7 L1453.0,704.3 L1453.8,704.9 L1454.6,705.5 L1455.4,706.1 L1456.2,706.7 L1457.0,707.3 L1457.8,707.9 L1458.6,708.5 L1459.4,709.1 L1460.2,709.7 L1461.0,710.2 L1461.8,710.8 L1462.6,711.4 L1463.4,712.0 L1464.2,712.6 L1465.0,713.2 L1465.8,713.8 L1466.7,714.3 L1467.5,714.9 L1468.3,715.5 L1469.1,716.1 L1469.9,716.6 L1470.7,717.2 L1471.6,717.8 L1472.4,718.4 L1473.2,718.9 L1474.0,719.5 L1474.9,720.1 L1475.7,720.6 L1476.5,721.2 L1477.3,721.7 L1478.2,722.3 L1479.0,722.9 L1479.8,723.4 L1480.7,724.0 L1481.5,724.5 L1482.3,725.1 L1483.2,725.6 L1484.0,726.2 L1484.9,726.7 L1485.7,727.2 L1486.5,727.8 L1487.4,728.3 L1488.2,728.9 L1489.1,729.4 L1489.9,729.9 L1490.8,730.5 L1491.6,731.0 L1492.5,731.5 L1493.3,732.0 L1494.2,732.6 L1495.0,733.1 L1495.9,733.6 L1496.7,734.1 L1497.6,734.6 L1498.4,735.2 L1499.3,735.7 L1500.2,736.2 L1501.0,736.7 L1501.9,737.2 L1502.7,737.7 L1503.6,738.2 L1504.5,738.7 L1505.3,739.2 L1506.2,739.7 L1507.1,740.2 L1507.9,740.7 L1508.8,741.2 L1509.7,741.7 L1510.5,742.2 L1511.4,742.7 L1512.3,743.2 L1513.2,743.7 L1514.0,744.1 L1514.9,744.6 L1515.8,745.1 L1516.7,745.6 L1517.6,746.0 L1518.4,746.5 L1519.3,747.0 L1520.2,747.5 L1521.1,747.9 L1522.0,748.4 L1522.9,748.9 L1523.7,749.3 L1524.6,749.8 L1525.5,750.2 L1526.4,750.7 L1527.3,751.1 L1528.2,751.6 L1529.1,752.1 L1530.0,752.5 L1530.9,752.9 L1531.8,753.4 L1532.7,753.8 L1533.6,754.3 L1534.5,754.7 L1535.4,755.1 L1536.3,755.6 L1537.2,756.0 L1538.1,756.4 L1539.0,756.9 L1539.9,757.3 L1540.8,757.7 L1541.7,758.1 L1542.6,758.6 L1543.5,759.0 L1544.4,759.4 L1545.3,759.8 L1546.3,760.2 L1547.2,760.6 L1548.1,761.0 L1549.0,761.4 L1549.9,761.8 L1550.8,762.2 L1551.7,762.6 L1552.7,763.0 L1553.6,763.4 L1554.5,763.8 L1555.4,764.2 L1556.3,764.6 L1557.3,765.0 L1558.2,765.4 L1559.1,765.7 L1560.0,766.1 L1561.0,766.5 L1561.9,766.9 L1562.8,767.2 L1563.8,767.6 L1564.7,768.0 L1565.6,768.3 L1566.5,768.7 L1567.5,769.1 L1568.4,769.4 L1569.3,769.8 L1570.3,770.1 L1571.2,770.5 L1572.2,770.8 L1573.1,771.2 L1574.0,771.5 L1575.0,771.9 L1575.9,772.2 L1576.9,772.6 L1577.8,772.9 L1578.7,773.2 L1579.7,773.6 L1580.6,773.9 L1581.6,774.2 L1582.5,774.5 L1583.5,774.9 L1584.4,775.2 L1585.4,775.5 L1586.3,775.8 L1587.3,776.1 L1588.2,776.4 L1589.2,776.7 L1590.1,777.0 L1591.1,777.3 L1592.0,777.6 L1593.0,777.9 L1593.9,778.2 L1594.9,778.5 L1595.8,778.8 L1596.8,779.1 L1597.8,779.4 L1598.7,779.7 L1599.7,780.0 L1600.6,780.2 L1601.6,780.5 L1602.6,780.8 L1603.5,781.1 L1604.5,781.3 L1605.5,781.6 L1606.4,781.9 L1607.4,782.1 L1608.4,782.4 L1609.3,782.6 L1610.3,782.9 L1611.3,783.1 L1612.2,783.4 L1613.2,783.6 L1614.2,783.9 L1615.1,784.1 L1616.1,784.3 L1617.1,784.6 L1618.0,784.8 L1619.0,785.0 L1620.0,785.3 L1621.0,785.5 L1621.9,785.7 L1622.9,785.9 L1623.8,786.1 L1624.8,786.3 L1625.8,786.6 L1626.7,786.8 L1627.7,787.0 L1628.7,787.2 L1629.7,787.4 L1630.7,787.6 L1631.7,787.8 L1632.6,788.0 L1633.6,788.2 L1634.6,788.4 L1635.6,788.6 L1636.6,788.8 L1637.6,789.0 L1638.6,789.1 L1639.6,789.3 L1640.6,789.5 L1641.5,789.7 L1642.5,789.8 L1643.5,790.0 L1644.5,790.2" stroke="#007f14"/>
<path d="M237.0,820.2 L238.0,820.1 L239.0,820.1 L240.0,820.0 L241.0,819.9 L242.0,819.9 L243.0,819.8 L244.0,819.7 L245.0,819.7 L246.0,819.6 L247.0,819.5 L248.0,819.5 L249.0,819.4 L250.0,819.3 L251.0,819.3 L252.0,819.2 L253.0,819.1 L254.0,819.1 L255.0,819.0 L256.0,818.9 L257.1,818.8 L258.0,818.8 L259.0,818.7 L260.0,818.6 L261.0,818.6 L261.9,818.5 L262.9,818.4 L263.9,818.3 L264.9,818.2 L265.9,818.1 L266.9,818.1 L267.9,818.0 L268.9,817.9 L269.9,817.8 L270.9,817.7 L271.9,817.6 L272.9,817.5 L273.9,817.4 L274.9,817.3 L275.9,817.1 L276.9,817.0 L277.9,816.9 L278.9,816.8 L279.8,816.6 L280.8,816.5 L281.8,816.4 L282.8,816.2 L283.8,816.1 L284.8,815.9 L285.8,815.8 L286.8,815.6 L287.8,815.5 L288.7,815.3 L289.7,815.1 L290.7,815.0 L291.7,814.8 L292.7,814.6 L293.7,814.4 L294.6,814.2 L295.6,814.0 L296.6,813.8 L297.6,813.6 L298.5,813.4 L299.5,813.2 L300.5,812.9 L301.4,812.7 L302.4,812.4 L303.3,812.1 L304.3,811.8 L305.2,811.5 L306.2,811.2 L307.1,810.9 L308.0,810.6 L309.0,810.2 L309.9,809.8 L310.8,809.4 L311.7,809.0 L312.6,808.6 L313.5,808.2 L314.4,807.8 L315.3,807.3 L316.2,806.8 L317.0,806.4 L317.9,805.9 L318.8,805.4 L319.6,804.9 L320.5,804.4 L321.3,803.8 L322.2,803.3 L323.0,802.7 L323.8,802.2 L324.6,801.6 L325.5,801.1 L326.3,800.5 L327.1,799.9 L327.9,799.3 L328.7,798.7 L329.5,798.1 L330.3,797.5 L331.1,796.9 L331.8,796.3 L332.6,795.6 L333.4,795.0 L334.2,794.4 L334.9,793.7 L335.7,793.1 L336.5,792.4 L337.2,791.8 L337.9,791.1 L338.7,790.4 L339.4,789.8 L340.1,789.1 L340.8,788.4 L341.5,787.7 L342.2,787.0 L342.9,786.3 L343.6,785.5 L344.2,784.8 L344.9,784.0 L345.5,783.3 L346.1,782.5 L346.7,781.7 L347.3,780.9 L347.9,780.1 L348.4,779.3 L349.0,778.5 L349.5,777.6 L350.0,776.8 L350.5,775.9 L351.0,775.1 L351.5,774.2 L352.0,773.3 L352.5,772.5 L353.0,771.6 L353.5,770.7 L353.9,769.8 L354.4,769.0 L354.9,768.1 L355.3,767.2 L355.8,766.3 L356.2,765.4 L356.7,764.5 L357.1,763.6 L357.6,762.7 L358.0,761.8 L358.5,760.9 L358.9,760.0 L359.4,759.1 L359.8,758.2 L360.2,757.3 L360.7,756.4 L361.1,755.5 L361.5,754.6 L361.9,753.7 L362.4,752.8 L362.8,751.9 L363.2,751.0 L363.6,750.1 L364.0,749.2 L364.5,748.3 L364.9,747.4 L365.3,746.5 L365.7,745.5 L366.1,744.6 L366.5,743.7 L366.9,742.8 L367.3,741.9 L367.7,741.0 L368.1,740.0 L368.5,739.1 L368.8,738.2 L369.2,737.3 L369.6,736.3 L370.0,735.4 L370.4,734.5 L370.7,733.6 L371.1,732.6 L371.5,731.7 L371.8,730.8 L372.2,729.9 L372.6,728.9 L372.9,728.0 L373.3,727.1 L373.7,726.1 L374.0,725.2 L374.4,724.3 L374.7,723.3 L375.1,722.4 L375.4,721.4 L375.8,720.5 L376.1,719.6 L376.4,718.6 L376.8,717.7 L377.1,716.7 L377.5,715.8 L377.8,714.9 L378.1,713.9 L378.4,713.0 L378.8,712.0 L379.1,711.1 L379.4,710.1 L379.7,709.2 L380.1,708.2 L380.4,707.3 L380.7,706.3 L381.0,705.4 L381.3,704.4 L381.6,703.5 L381.9,702.5 L382.3,701.6 L382.6,700.6 L382.9,699.7 L383.2,698.7 L383.5,697.8 L383.8,696.8 L384.0,695.9 L384.3,694.9 L384.6,693.9 L384.9,693.0 L385.2,692.0 L385.5,691.1 L385.8,690.1 L386.0,689.2 L386.3,688.2 L386.6,687.2 L386.9,686.3 L387.1,685.3 L387.4,684.3 L387.7,683.4 L387.9,682.4 L388.2,681.4 L388.5,680.5 L388.7,679.5 L389.0,678.6 L389.2,677.6 L389.5,676.6 L389.7,675.7 L390.0,674.7 L390.3,673.7 L390.5,672.8 L390.8,671.8 L391.0,670.8 L391.2,669.8 L391.5,668.9 L391.7,667.9 L392.0,666.9 L392.2,666.0 L392.5,665.0 L392.7,664.0 L392.9,663.0 L393.1,662.1 L393.4,661.1 L393.6,660.1 L393.8,659.2 L394.1,658.2 L394.3,657.2 L394.5,656.2 L394.7,655.3 L394.9,654.3 L395.2,653.3 L395.4,652.3 L395.6,651.3 L395.8,650.4 L396.0,649.4 L396.2,648.4 L396.4,647.4 L396.6,646.5 L396.8,645.5 L397.1,644.5 L397.3,643.5 L397.5,642.5 L397.7,641.6 L397.9,640.6 L398.1,639.6 L398.3,638.6 L398.5,637.6 L398.7,636.7 L398.9,635.7 L399.1,634.7 L399.2,633.7 L399.4,632.7 L399.6,631.8 L399.8,630.8 L400.0,629.8 L400.2,628.8 L400.4,627.8 L400.6,626.8 L400.7,625.9 L400.9,624.9 L401.1,623.9 L401.3,622.9 L401.5,621.9 L401.7,620.9 L401.8,620.0 L402.0,619.0 L402.2,618.0 L402.4,617.0 L402.5,616.0 L402.7,615.0 L402.9,614.1 L403.1,613.1 L403.2,612.1 L403.4,611.1 L403.6,610.1 L403.7,609.1 L403.9,608.1 L404.1,607.2 L404.2,606.2 L404.4,605.2 L404.6,604.2 L404.7,603.2 L404.9,602.2 L405.1,601.2 L405.2,600.2 L405.4,599.3 L405.5,598.3 L405.7,597.3 L405.8,596.3 L406.0,595.3 L406.1,594.3 L406.3,593.3 L406.4,592.3 L406.6,591.4 L406.8,590.4 L406.9,589.4 L407.0,588.4 L407.2,587.4 L407.3,586.4 L407.5,585.4 L407.6,584.4 L407.8,583.4 L407.9,582.5 L408.1,581.5 L408.2,580.5 L408.4,579.5 L408.5,578.5 L408.7,577.5 L408.8,576.5 L409.0,575.5 L409.1,574.5 L409.2,573.6 L409.4,572.6 L409.5,571.6 L409.7,570.6 L409.8,569.6 L410.0,568.6 L410.1,567.6 L410.3,566.6 L410.4,565.6 L410.5,564.6 L410.7,563.7 L410.8,562.7 L411.0,561.7 L411.1,560.7 L411.3,559.7 L411.4,558.7 L411.5,557.7 L411.7,556.7 L411.8,555.7 L412.0,554.7 L412.1,553.8 L412.3,552.8 L412.4,551.8 L412.5,550.8 L412.7,549.8 L412.8,548.8 L413.0,547.8 L413.1,546.8 L413.3,545.8 L413.4,544.8 L413.5,543.9 L413.7,542.9 L413.8,541.9 L414.0,540.9 L414.1,539.9 L414.2,538.9 L414.4,537.9 L414.5,536.9 L414.6,535.9 L414.8,534.9 L414.9,533.9 L415.0,533.0 L415.2,532.0 L415.3,531.0 L415.4,530.0 L415.6,529.0 L415.7,528.0 L415.8,527.0 L416.0,526.0 L416.1,525.0 L416.2,524.0 L416.3,523.0 L416.5,522.1 L416.6,521.1 L416.7,520.1 L416.9,519.1 L417.0,518.1 L417.1,517.1 L417.2,516.1 L417.4,515.1 L417.5,514.1 L417.6,513.1 L417.7,512.1 L417.9,511.1 L418.0,510.1 L418.1,509.2 L418.3,508.2 L418.4,507.2 L418.5,506.2 L418.6,505.2 L418.8,504.2 L418.9,503.2 L419.0,502.2 L419.1,501.2 L419.3,500.2 L419.4,499.2 L419.5,498.2 L419.6,497.3 L419.8,496.3 L419.9,495.3 L420.0,494.3 L420.2,493.3 L420.3,492.3 L420.4,491.3 L420.5,490.3 L420.7,489.3 L420.8,488.3 L420.9,487.3 L421.0,486.3 L421.2,485.3 L421.3,484.4 L421.4,483.4 L421.6,482.4 L421.7,481.4 L421.8,480.4 L422.0,479.4 L422.1,478.4 L422.2,477.4 L422.3,476.4 L422.5,475.4 L422.6,474.4 L422.7,473.4 L422.9,472.5 L423.0,471.5 L423.1,470.5 L423.2,469.5 L423.4,468.5 L423.5,467.5 L423.6,466.5 L423.8,465.5 L423.9,464.5 L424.0,463.5 L424.2,462.5 L424.3,461.5 L424.4,460.6 L424.6,459.6 L424.7,458.6 L424.8,457.6 L425.0,456.6 L425.1,455.6 L425.2,454.6 L425.4,453.6 L425.5,452.6 L425.6,451.6 L425.8,450.6 L425.9,449.7 L426.0,448.7 L426.2,447.7 L426.3,446.7 L426.4,445.7 L426.6,444.7 L426.7,443.7 L426.8,442.7 L427.0,441.7 L427.1,440.7 L427.3,439.7 L427.4,438.8 L427.5,437.8 L427.7,436.8 L427.8,435.8 L428.0,434.8 L428.1,433.8 L428.2,432.8 L428.4,431.8 L428.5,430.8 L428.7,429.8 L428.8,428.9 L429.0,427.9 L429.1,426.9 L429.3,425.9 L429.4,424.9 L429.5,423.9 L429.7,422.9 L429.8,421.9 L430.0,420.9 L430.1,420.0 L430.3,419.0 L430.4,418.0 L430.6,417.0 L430.7,416.0 L430.9,415.0 L431.0,414.0 L431.2,413.0 L431.3,412.0 L431.5,411.1 L431.6,410.1 L431.8,409.1 L431.9,408.1 L432.1,407.1 L432.2,406.1 L432.4,405.1 L432.5,404.1 L432.7,403.1 L432.8,402.2 L433.0,401.2 L433.1,400.2 L433.3,399.2 L433.4,398.2 L433.6,397.2 L433.7,396.2 L433.9,395.2 L434.1,394.3 L434.2,393.3 L434.4,392.3 L434.5,391.3 L434.7,390.3 L434.9,389.3 L435.0,388.3 L435.2,387.3 L435.4,386.4 L435.5,385.4 L435.7,384.4 L435.8,383.4 L436.0,382.4 L436.2,381.4 L436.4,380.4 L436.5,379.5 L436.7,378.5 L436.9,377.5 L437.0,376.5 L437.2,375.5 L437.4,374.5 L437.6,373.5 L437.7,372.6 L437.9,371.6 L438.1,370.6 L438.3,369.6 L438.4,368.6 L438.6,367.6 L438.8,366.7 L439.0,365.7 L439.2,364.7 L439.3,363.7 L439.5,362.7 L439.7,361.7 L439.9,360.8 L440.1,359.8 L440.3,358.8 L440.4,357.8 L440.6,356.8 L440.8,355.8 L441.0,354.9 L441.2,353.9 L441.4,352.9 L441.6,351.9 L441.8,350.9 L442.0,350.0 L442.2,349.0 L442.4,348.0 L442.6,347.0 L442.8,346.0 L443.0,345.0 L443.2,344.1 L443.4,343.1 L443.6,342.1 L443.8,341.1 L444.0,340.2 L444.2,339.2 L444.4,338.2 L444.6,337.2 L444.8,336.2 L445.0,335.3 L445.2,334.3 L445.5,333.3 L445.7,332.4 L446.0,331.4 L446.4,330.5 L446.7,329.6 L447.1,328.7 L447.6,327.8 L448.2,327.1 L449.0,326.5 L449.9,326.1 L450.9,326.0 L451.9,326.1 L452.9,326.4 L453.7,326.9 L454.6,327.4 L455.5,327.9 L456.2,328.5 L456.9,329.2 L457.5,329.9 L458.0,330.8 L458.4,331.6 L458.8,332.5 L459.1,333.5 L459.3,334.4 L459.6,335.4 L459.8,336.3 L460.0,337.3 L460.3,338.3 L460.5,339.2 L460.7,340.2 L460.9,341.2 L461.2,342.2 L461.4,343.1 L461.6,344.1 L461.9,345.1 L462.1,346.0 L462.4,347.0 L462.6,348.0 L462.8,349.0 L463.1,349.9 L463.3,350.9 L463.6,351.9 L463.8,352.8 L464.0,353.8 L464.3,354.8 L464.5,355.7 L464.7,356.7 L465.0,357.7 L465.2,358.7 L465.4,359.6 L465.7,360.6 L465.9,361.6 L466.1,362.6 L466.4,363.5 L466.6,364.5 L466.8,365.5 L467.0,366.5 L467.2,367.4 L467.5,368.4 L467.7,369.4 L467.9,370.4 L468.1,371.3 L468.3,372.3 L468.5,373.3 L468.7,374.3 L468.9,375.3 L469.1,376.2 L469.3,377.2 L469.5,378.2 L469.7,379.2 L469.9,380.2 L470.1,381.1 L470.3,382.1 L470.5,383.1 L470.7,384.1 L470.9,385.1 L471.1,386.0 L471.3,387.0 L471.5,388.0 L471.6,389.0 L471.8,390.0 L472.0,391.0 L472.2,391.9 L472.4,392.9 L472.6,393.9 L472.7,394.9 L472.9,395.9 L473.1,396.9 L473.3,397.8 L473.5,398.8 L473.6,399.8 L473.8,400.8 L474.0,401.8 L474.2,402.8 L474.3,403.7 L474.5,404.7 L474.7,405.7 L474.9,406.7 L475.0,407.7 L475.2,408.7 L475.4,409.7 L475.6,410.6 L475.7,411.6 L475.9,412.6 L476.1,413.6 L476.2,414.6 L476.4,415.6 L476.6,416.6 L476.7,417.5 L476.9,418.5 L477.1,419.5 L477.2,420.5 L477.4,421.5 L477.6,422.5 L477.7,423.5 L477.9,424.4 L478.0,425.4 L478.2,426.4 L478.4,427.4 L478.5,428.4 L478.7,429.4 L478.9,430.4 L479.0,431.3 L479.2,432.3 L479.4,433.3 L479.5,434.3 L479.7,435.3 L479.9,436.3 L480.0,437.3 L480.2,438.3 L480.4,439.2 L480.5,440.2 L480.7,441.2 L480.9,442.2 L481.0,443.2 L481.2,444.2 L481.4,445.2 L481.5,446.1 L481.7,447.1 L481.9,448.1 L482.1,449.1 L482.2,450.1 L482.4,451.1 L482.6,452.0 L482.8,453.0 L482.9,454.0 L483.1,455.0 L483.3,456.0 L483.5,457.0 L483.7,458.0 L483.8,458.9 L484.0,459.9 L484.2,460.9 L484.4,461.9 L484.6,462.9 L484.8,463.9 L484.9,464.8 L485.1,465.8 L485.3,466.8 L485.5,467.8 L485.7,468.8 L485.9,469.7 L486.1,470.7 L486.3,471.7 L486.5,472.7 L486.6,473.7 L486.8,474.7 L487.0,475.6 L487.2,476.6 L487.4,477.6 L487.6,478.6 L487.8,479.6 L488.0,480.5 L488.3,481.5 L488.5,482.5 L488.7,483.5 L488.9,484.4 L489.1,485.4 L489.3,486.4 L489.5,487.4 L489.7,488.4 L489.9,489.3 L490.2,490.3 L490.4,491.3 L490.6,492.3 L490.8,493.2 L491.1,494.2 L491.3,495.2 L491.5,496.1 L491.8,497.1 L492.0,498.1 L492.2,499.1 L492.5,500.0 L492.7,501.0 L493.0,502.0 L493.2,502.9 L493.4,503.9 L493.7,504.9 L493.9,505.8 L494.2,506.8 L494.5,507.8 L494.7,508.7 L495.0,509.7 L495.2,510.7 L495.5,511.6 L495.8,512.6 L496.0,513.6 L496.3,514.5 L496.6,515.5 L496.9,516.5 L497.1,517.4 L497.4,518.4 L497.7,519.3 L498.0,520.3 L498.3,521.2 L498.6,522.2 L498.9,523.2 L499.2,524.1 L499.5,525.1 L499.8,526.0 L500.1,526.9 L500.5,527.9 L500.8,528.8 L501.1,529.8 L501.5,530.7 L501.8,531.7 L502.1,532.6 L502.5,533.5 L502.9,534.5 L503.2,535.4 L503.6,536.3 L504.0,537.2 L504.3,538.2 L504.7,539.1 L505.1,540.0 L505.5,540.9 L505.9,541.9 L506.3,542.8 L506.6,543.7 L507.0,544.6 L507.4,545.5 L507.8,546.5 L508.2,547.4 L508.6,548.3 L509.0,549.2 L509.4,550.1 L509.8,551.1 L510.2,552.0 L510.6,552.9 L511.0,553.8 L511.4,554.7 L511.8,555.7 L512.2,556.6 L512.6,557.5 L513.0,558.4 L513.4,559.3 L513.8,560.2 L514.2,561.1 L514.6,562.1 L515.0,563.0 L515.4,563.9 L515.8,564.8 L516.2,565.7 L516.6,566.6 L517.0,567.5 L517.4,568.5 L517.8,569.4 L518.2,570.3 L518.7,571.2 L519.1,572.1 L519.5,573.0 L519.9,573.9 L520.3,574.8 L520.7,575.7 L521.2,576.7 L521.6,577.6 L522.0,578.5 L522.4,579.4 L522.8,580.3 L523.3,581.2 L523.7,582.1 L524.1,583.0 L524.5,583.9 L525.0,584.8 L525.4,585.7 L525.8,586.6 L526.3,587.5 L526.7,588.4 L527.2,589.3 L527.6,590.2 L528.0,591.1 L528.5,592.0 L528.9,592.9 L529.4,593.8 L529.8,594.7 L530.3,595.6 L530.7,596.5 L531.2,597.3 L531.6,598.2 L532.1,599.1 L532.6,600.0 L533.0,600.9 L533.5,601.8 L534.0,602.7 L534.4,603.6 L534.9,604.4 L535.4,605.3 L535.8,606.2 L536.3,607.1 L536.8,608.0 L537.3,608.8 L537.7,609.7 L538.2,610.6 L538.7,611.5 L539.2,612.3 L539.7,613.2 L540.2,614.1 L540.7,615.0 L541.2,615.8 L541.7,616.7 L542.2,617.6 L542.7,618.4 L543.2,619.3 L543.7,620.1 L544.2,621.0 L544.7,621.9 L545.2,622.7 L545.7,623.6 L546.2,624.4 L546.8,625.3 L547.3,626.2 L547.8,627.0 L548.3,627.9 L548.8,628.7 L549.4,629.6 L549.9,630.4 L550.4,631.2 L551.0,632.1 L551.5,632.9 L552.1,633.8 L552.6,634.6 L553.2,635.4 L553.7,636.3 L554.3,637.1 L554.8,637.9 L555.4,638.7 L556.0,639.6 L556.5,640.4 L557.1,641.2 L557.7,642.0 L558.3,642.8 L558.9,643.6 L559.5,644.4 L560.1,645.2 L560.7,646.0 L561.3,646.8 L561.9,647.6 L562.6,648.4 L563.2,649.1 L563.8,649.9 L564.5,650.6 L565.1,651.4 L565.8,652.1 L566.5,652.9 L567.1,653.6 L567.8,654.3 L568.5,655.1 L569.2,655.8 L569.9,656.5 L570.6,657.1 L571.4,657.8 L572.1,658.5 L572.9,659.1 L573.6,659.8 L574.4,660.4 L575.2,661.0 L575.9,661.6 L576.7,662.2 L577.5,662.8 L578.3,663.4 L579.1,664.0 L579.9,664.6 L580.8,665.1 L581.6,665.7 L582.4,666.2 L583.3,666.7 L584.2,667.2 L585.0,667.6 L585.9,668.0 L586.9,668.5 L587.8,668.8 L588.7,669.2 L589.6,669.5 L590.6,669.8 L591.5,670.1 L592.5,670.4 L593.5,670.6 L594.5,670.8 L595.4,670.9 L596.4,671.1 L597.4,671.1 L598.4,671.2 L599.4,671.2 L600.4,671.2 L601.4,671.2 L602.4,671.1 L603.4,671.0 L604.4,670.9 L605.4,670.7 L606.4,670.5 L607.3,670.3 L608.3,670.0 L609.3,669.8 L610.2,669.4 L611.2,669.1 L612.1,668.7 L613.0,668.4 L613.9,668.0 L614.8,667.5 L615.7,667.1 L616.6,666.6 L617.5,666.2 L618.3,665.7 L619.2,665.2 L620.0,664.6 L620.9,664.1 L621.7,663.6 L622.5,663.0 L623.4,662.4 L624.2,661.9 L625.0,661.3 L625.8,660.8 L626.6,660.2 L627.4,659.6 L628.2,659.0 L629.0,658.4 L629.8,657.7 L630.5,657.1 L631.3,656.5 L632.0,655.8 L632.8,655.1 L633.5,654.5 L634.3,653.8 L635.0,653.1 L635.7,652.4 L636.4,651.7 L637.1,651.0 L637.8,650.3 L638.5,649.6 L639.2,648.8 L639.8,648.1 L640.5,647.4 L641.2,646.6 L641.8,645.9 L642.5,645.1 L643.1,644.3 L643.7,643.6 L644.4,642.8 L645.0,642.0 L645.6,641.2 L646.2,640.4 L646.8,639.6 L647.4,638.8 L648.0,638.0 L648.6,637.2 L649.1,636.4 L649.7,635.6 L650.3,634.7 L650.8,633.9 L651.4,633.1 L651.9,632.2 L652.5,631.4 L653.0,630.6 L653.5,629.7 L654.1,628.9 L654.6,628.0 L655.1,627.2 L655.6,626.3 L656.1,625.4 L656.6,624.6 L657.1,623.7 L657.6,622.9 L658.1,622.0 L658.6,621.1 L659.1,620.2 L659.6,619.4 L660.1,618.5 L660.6,617.6 L661.0,616.7 L661.5,615.9 L662.0,615.0 L662.5,614.1 L663.0,613.2 L663.4,612.3 L663.9,611.5 L664.4,610.6 L664.8,609.7 L665.3,608.8 L665.8,607.9 L666.2,607.0 L666.7,606.2 L667.2,605.3 L667.6,604.4 L668.1,603.5 L668.5,602.6 L669.0,601.7 L669.5,600.8 L669.9,599.9 L670.4,599.1 L670.8,598.2 L671.3,597.3 L671.8,596.4 L672.2,595.5 L672.7,594.6 L673.1,593.7 L673.6,592.8 L674.0,591.9 L674.5,591.0 L674.9,590.2 L675.4,589.3 L675.8,588.4 L676.3,587.5 L676.7,586.6 L677.2,585.7 L677.6,584.8 L678.1,583.9 L678.5,583.0 L678.9,582.1 L679.4,581.2 L679.8,580.3 L680.3,579.4 L680.7,578.5 L681.1,577.6 L681.6,576.7 L682.0,575.8 L682.4,574.9 L682.8,574.0 L683.2,573.1 L683.7,572.2 L684.1,571.3 L684.5,570.3 L684.9,569.4 L685.3,568.5 L685.7,567.6 L686.1,566.7 L686.5,565.8 L686.9,564.9 L687.3,563.9 L687.7,563.0 L688.1,562.1 L688.5,561.2 L688.9,560.3 L689.3,559.3 L689.7,558.4 L690.0,557.5 L690.4,556.6 L690.8,555.6 L691.2,554.7 L691.5,553.8 L691.9,552.9 L692.3,551.9 L692.6,551.0 L693.0,550.1 L693.4,549.1 L693.7,548.2 L694.1,547.3 L694.5,546.3 L694.8,545.4 L695.2,544.5 L695.5,543.5 L695.9,542.6 L696.2,541.7 L696.6,540.7 L697.0,539.8 L697.3,538.9 L697.7,537.9 L698.0,537.0 L698.4,536.1 L698.7,535.1 L699.1,534.2 L699.5,533.3 L699.8,532.3 L700.2,531.4 L700.5,530.5 L700.9,529.5 L701.2,528.6 L701.6,527.7 L702.0,526.7 L702.3,525.8 L702.7,524.9 L703.1,523.9 L703.4,523.0 L703.8,522.1 L704.2,521.1 L704.5,520.2 L704.9,519.3 L705.3,518.3 L705.6,517.4 L706.0,516.5 L706.4,515.6 L706.8,514.6 L707.1,513.7 L707.5,512.8 L707.9,511.9 L708.3,510.9 L708.7,510.0 L709.1,509.1 L709.4,508.2 L709.8,507.2 L710.2,506.3 L710.6,505.4 L711.0,504.5 L711.4,503.6 L711.8,502.6 L712.2,501.7 L712.6,500.8 L713.0,499.9 L713.4,499.0 L713.8,498.1 L714.2,497.1 L714.6,496.2 L715.0,495.3 L715.4,494.4 L715.8,493.5 L716.2,492.6 L716.6,491.7 L717.0,490.8 L717.5,489.8 L717.9,488.9 L718.3,488.0 L718.7,487.1 L719.1,486.2 L719.5,485.3 L720.0,484.4 L720.4,483.5 L720.8,482.6 L721.2,481.7 L721.7,480.8 L722.1,479.9 L722.5,479.0 L722.9,478.1 L723.4,477.2 L723.8,476.3 L724.2,475.4 L724.7,474.5 L725.1,473.6 L725.5,472.7 L726.0,471.8 L726.4,470.9 L726.9,470.0 L727.3,469.1 L727.8,468.2 L728.2,467.3 L728.6,466.4 L729.1,465.5 L729.5,464.6 L730.0,463.7 L730.4,462.8 L730.9,461.9 L731.3,461.0 L731.8,460.1 L732.3,459.2 L732.7,458.3 L733.2,457.5 L733.6,456.6 L734.1,455.7 L734.5,454.8 L735.0,453.9 L735.5,453.0 L735.9,452.1 L736.4,451.2 L736.9,450.4 L737.3,449.5 L737.8,448.6 L738.3,447.7 L738.7,446.8 L739.2,446.0 L739.7,445.1 L740.2,444.2 L740.6,443.3 L741.1,442.4 L741.6,441.6 L742.1,440.7 L742.6,439.8 L743.0,438.9 L743.5,438.0 L744.0,437.2 L744.5,436.3 L745.0,435.4 L745.5,434.5 L745.9,433.7 L746.4,432.8 L746.9,431.9 L747.4,431.1 L747.9,430.2 L748.4,429.3 L748.9,428.4 L749.4,427.6 L749.9,426.7 L750.4,425.8 L750.9,425.0 L751.4,424.1 L751.9,423.2 L752.4,422.4 L752.9,421.5 L753.4,420.6 L753.9,419.8 L754.4,418.9 L754.9,418.1 L755.4,417.2 L755.9,416.3 L756.4,415.5 L756.9,414.6 L757.4,413.7 L757.9,412.9 L758.5,412.0 L759.0,411.2 L759.5,410.3 L760.0,409.5 L760.5,408.6 L761.0,407.7 L761.5,406.9 L762.1,406.0 L762.6,405.2 L763.1,404.3 L763.6,403.5 L764.2,402.6 L764.7,401.8 L765.2,400.9 L765.7,400.1 L766.3,399.2 L766.8,398.4 L767.3,397.5 L767.8,396.7 L768.4,395.8 L768.9,395.0 L769.4,394.1 L770.0,393.3 L770.5,392.4 L771.0,391.6 L771.6,390.7 L772.1,389.9 L772.6,389.0 L773.2,388.2 L773.7,387.4 L774.2,386.5 L774.8,385.7 L775.3,384.8 L775.9,384.0 L776.4,383.2 L776.9,382.3 L777.5,381.5 L778.0,380.6 L778.6,379.8 L779.1,379.0 L779.7,378.1 L780.2,377.3 L780.8,376.4 L781.3,375.6 L781.9,374.8 L782.4,373.9 L783.0,373.1 L783.5,372.3 L784.1,371.4 L784.6,370.6 L785.2,369.8 L785.7,368.9 L786.3,368.1 L786.9,367.3 L787.4,366.4 L788.0,365.6 L788.5,364.8 L789.1,364.0 L789.6,363.1 L790.2,362.3 L790.8,361.5 L791.3,360.6 L791.9,359.8 L792.5,359.0 L793.0,358.2 L793.6,357.3 L794.1,356.5 L794.7,355.7 L795.3,354.9 L795.8,354.0 L796.4,353.2 L797.0,352.4 L797.6,351.6 L798.1,350.8 L798.7,349.9 L799.3,349.1 L799.8,348.3 L800.4,347.5 L801.0,346.7 L801.6,345.8 L802.1,345.0 L802.7,344.2 L803.3,343.4 L803.9,342.6 L804.4,341.7 L805.0,340.9 L805.6,340.1 L806.2,339.3 L806.7,338.5 L807.3,337.7 L807.9,336.9 L808.5,336.0 L809.1,335.2 L809.6,334.4 L810.2,333.6 L810.8,332.8 L811.4,332.0 L812.0,331.2 L812.6,330.3 L813.1,329.5 L813.7,328.7 L814.3,327.9 L814.9,327.1 L815.5,326.3 L816.1,325.5 L816.6,324.7 L817.2,323.9 L817.8,323.0 L818.4,322.2 L819.0,321.4 L819.6,320.6 L820.2,319.8 L820.8,319.0 L821.3,318.2 L821.9,317.4 L822.5,316.6 L823.1,315.8 L823.7,315.0 L824.3,314.1 L824.9,313.3 L825.5,312.5 L826.1,311.7 L826.7,310.9 L827.2,310.1 L827.8,309.3 L828.4,308.5 L829.0,307.7 L829.6,306.9 L830.2,306.1 L830.8,305.3 L831.4,304.5 L832.0,303.7 L832.6,302.9 L833.2,302.1 L833.8,301.2 L834.4,300.4 L834.9,299.6 L835.5,298.8 L836.1,298.0 L836.7,297.2 L837.3,296.4 L837.9,295.6 L838.5,294.8 L839.1,294.0 L839.7,293.2 L840.3,292.4 L840.9,291.6 L841.5,290.8 L842.1,290.0 L842.7,289.2 L843.3,288.4 L843.9,287.6 L844.5,286.8 L845.1,286.0 L845.7,285.2 L846.2,284.4 L846.8,283.6 L847.4,282.8 L848.0,281.9 L848.6,281.1 L849.2,280.3 L849.8,279.5 L850.4,278.7 L851.0,277.9 L851.6,277.1 L852.2,276.3 L852.8,275.5 L853.4,274.7 L854.0,273.9 L854.6,273.1 L855.2,272.3 L855.8,271.5 L856.4,270.7 L856.9,269.9 L857.5,269.1 L858.1,268.3 L858.7,267.5 L859.3,266.7 L859.9,265.9 L860.5,265.1 L861.1,264.2 L861.7,263.4 L862.3,262.6 L862.9,261.8 L863.5,261.0 L864.1,260.2 L864.7,259.4 L865.2,258.6 L865.8,257.8 L866.4,257.0 L867.0,256.2 L867.6,255.4 L868.2,254.6 L868.8,253.8 L869.4,253.0 L870.0,252.1 L870.6,251.3 L871.1,250.5 L871.7,249.7 L872.3,248.9 L872.9,248.1 L873.5,247.3 L874.1,246.5 L874.7,245.7 L875.3,244.9 L875.8,244.1 L876.4,243.2 L877.0,242.4 L877.6,241.6 L878.2,240.8 L878.8,240.0 L879.3,239.2 L879.9,238.4 L880.5,237.6 L881.1,236.7 L881.7,235.9 L882.3,235.1 L882.8,234.3 L883.4,233.5 L884.0,232.7 L884.6,231.9 L885.2,231.0 L885.7,230.2 L886.3,229.4 L886.9,228.6 L887.5,227.8 L888.1,227.0 L888.6,226.2 L889.2,225.3 L889.8,224.5 L890.4,223.7 L891.0,222.9 L891.5,222.1 L892.1,221.3 L892.7,220.4 L893.3,219.6 L893.8,218.8 L894.4,218.0 L895.0,217.2 L895.6,216.4 L896.1,215.5 L896.7,214.7 L897.3,213.9 L897.9,213.1 L898.4,212.3 L899.0,211.4 L899.6,210.6 L900.2,209.8 L900.7,209.0 L901.3,208.2 L901.9,207.4 L902.5,206.5 L903.0,205.7 L903.6,204.9 L904.2,204.1 L904.8,203.3 L905.3,202.4 L905.9,201.6 L906.5,200.8 L907.1,200.0 L907.6,199.2 L908.2,198.4 L908.8,197.5 L909.4,196.7 L909.9,195.9 L910.5,195.1 L911.1,194.3 L911.7,193.4 L912.2,192.6 L912.8,191.8 L913.4,191.0 L914.0,190.2 L914.5,189.4 L915.1,188.5 L915.7,187.7 L916.3,186.9 L916.8,186.1 L917.4,185.3 L918.0,184.4 L918.6,183.6 L919.2,182.8 L919.7,182.0 L920.3,181.2 L920.9,180.4 L921.5,179.5 L922.0,178.7 L922.6,177.9 L923.2,177.1 L923.8,176.3 L924.4,175.5 L924.9,174.7 L925.5,173.8 L926.1,173.0 L926.7,172.2 L927.3,171.4 L927.8,170.6 L928.4,169.8 L929.0,169.0 L929.6,168.1 L930.2,167.3 L930.8,166.5 L931.3,165.7 L931.9,164.9 L932.5,164.1 L933.1,163.3 L933.7,162.5 L934.3,161.7 L934.8,160.8 L935.4,160.0 L936.0,159.2 L936.6,158.4 L937.2,157.6 L937.8,156.8 L938.4,156.0 L939.0,155.2 L939.6,154.4 L940.1,153.6 L940.7,152.8 L941.3,152.0 L941.9,151.1 L942.5,150.3 L943.1,149.5 L943.7,148.7 L944.3,147.9 L944.9,147.1 L945.5,146.3 L946.1,145.5 L946.7,144.7 L947.3,143.9 L947.9,143.1 L948.5,142.3 L949.1,141.5 L949.7,140.7 L950.3,139.9 L950.9,139.1 L951.5,138.3 L952.1,137.5 L952.7,136.7 L953.3,135.9 L953.9,135.1 L954.5,134.3 L955.1,133.5 L955.7,132.8 L956.3,132.0 L956.9,131.2 L957.6,130.4 L958.2,129.6 L958.8,128.8 L959.4,128.0 L960.0,127.2 L960.6,126.4 L961.2,125.6 L961.8,124.8 L962.5,124.1 L963.1,123.3 L963.7,122.5 L964.3,121.7 L964.9,120.9 L965.6,120.1 L966.2,119.3 L966.8,118.6 L967.4,117.8 L968.1,117.0 L968.7,116.2 L969.3,115.4 L969.9,114.7 L970.6,113.9 L971.2,113.1 L971.8,112.3 L972.4,111.6 L973.1,110.8 L973.7,110.0 L974.3,109.2 L975.0,108.5 L975.6,107.7 L976.3,106.9 L976.9,106.1 L977.5,105.4 L978.2,104.6 L978.8,103.8 L979.5,103.1 L980.1,102.3 L980.8,101.5 L981.4,100.8 L982.0,100.0 L982.7,99.3 L983.4,98.5 L984.0,97.8 L984.7,97.0 L985.3,96.2 L986.0,95.5 L986.7,94.8 L987.3,94.0 L988.0,93.3 L988.7,92.5 L989.3,91.8 L990.0,91.1 L990.7,90.3 L991.4,89.6 L992.1,88.9 L992.7,88.1 L993.4,87.4 L994.1,86.7 L994.8,86.0 L995.5,85.3 L996.3,84.6 L997.0,83.9 L997.7,83.2 L998.4,82.5 L999.1,81.8 L999.9,81.1 L1000.6,80.4 L1001.3,79.8 L1002.1,79.1 L1002.8,78.4 L1003.6,77.8 L1004.3,77.1 L1005.1,76.5 L1005.9,75.9 L1006.6,75.2 L1007.4,74.6 L1008.2,74.0 L1009.0,73.4 L1009.8,72.8 L1010.6,72.2 L1011.4,71.6 L1012.2,71.0 L1013.0,70.4 L1013.8,69.9 L1014.7,69.3 L1015.5,68.8 L1016.3,68.2 L1017.2,67.7 L1018.0,67.2 L1018.9,66.7 L1019.7,66.2 L1020.6,65.7 L1021.5,65.2 L1022.3,64.7 L1023.2,64.2 L1024.1,63.8 L1025.0,63.3 L1025.9,62.9 L1026.8,62.4 L1027.7,62.0 L1028.6,61.6 L1029.5,61.2 L1030.4,60.8 L1031.4,60.5 L1032.3,60.1 L1033.2,59.7 L1034.1,59.4 L1035.1,59.0 L1036.0,58.7 L1037.0,58.4 L1037.9,58.1 L1038.9,57.8 L1039.8,57.6 L1040.8,57.3 L1041.7,57.0 L1042.7,56.8 L1043.7,56.6 L1044.7,56.4 L1045.6,56.2 L1046.6,56.0 L1047.6,55.9 L1048.6,55.7 L1049.5,55.6 L1050.5,55.5 L1051.5,55.4 L1052.5,55.3 L1053.5,55.2 L1054.5,55.2 L1055.5,55.2 L1056.5,55.2 L1057.4,55.2 L1058.4,55.2 L1059.4,55.3 L1060.4,55.4 L1061.4,55.5 L1062.4,55.6 L1063.3,55.7 L1064.3,55.9 L1065.3,56.1 L1066.3,56.2 L1067.2,56.5 L1068.2,56.7 L1069.1,56.9 L1070.1,57.2 L1071.0,57.5 L1072.0,57.8 L1072.9,58.1 L1073.8,58.5 L1074.8,58.8 L1075.7,59.2 L1076.6,59.6 L1077.5,60.0 L1078.4,60.4 L1079.3,60.8 L1080.2,61.2 L1081.1,61.7 L1082.0,62.1 L1082.9,62.6 L1083.7,63.1 L1084.6,63.6 L1085.5,64.1 L1086.3,64.6 L1087.2,65.1 L1088.0,65.6 L1088.8,66.2 L1089.7,66.7 L1090.5,67.3 L1091.3,67.9 L1092.1,68.4 L1092.9,69.0 L1093.7,69.6 L1094.5,70.2 L1095.3,70.8 L1096.1,71.4 L1096.9,72.1 L1097.7,72.7 L1098.4,73.3 L1099.2,74.0 L1100.0,74.6 L1100.7,75.3 L1101.5,75.9 L1102.2,76.6 L1102.9,77.3 L1103.7,77.9 L1104.4,78.6 L1105.1,79.3 L1105.8,80.0 L1106.6,80.7 L1107.3,81.4 L1108.0,82.1 L1108.7,82.8 L1109.4,83.5 L1110.1,84.3 L1110.7,85.0 L1111.4,85.7 L1112.1,86.5 L1112.8,87.2 L1113.5,87.9 L1114.1,88.7 L1114.8,89.4 L1115.5,90.2 L1116.1,90.9 L1116.8,91.7 L1117.4,92.4 L1118.1,93.2 L1118.7,94.0 L1119.4,94.7 L1120.0,95.5 L1120.6,96.3 L1121.3,97.0 L1121.9,97.8 L1122.5,98.6 L1123.2,99.4 L1123.8,100.1 L1124.4,100.9 L1125.0,101.7 L1125.6,102.5 L1126.2,103.3 L1126.9,104.1 L1127.5,104.9 L1128.1,105.7 L1128.7,106.5 L1129.3,107.3 L1129.9,108.1 L1130.5,108.9 L1131.1,109.7 L1131.7,110.5 L1132.3,111.3 L1132.9,112.1 L1133.5,112.9 L1134.1,113.7 L1134.6,114.5 L1135.2,115.3 L1135.8,116.1 L1136.4,116.9 L1137.0,117.7 L1137.6,118.5 L1138.1,119.4 L1138.7,120.2 L1139.3,121.0 L1139.9,121.8 L1140.4,122.6 L1141.0,123.5 L1141.6,124.3 L1142.1,125.1 L1142.7,125.9 L1143.3,126.8 L1143.8,127.6 L1144.4,128.4 L1145.0,129.2 L1145.5,130.1 L1146.1,130.9 L1146.6,131.7 L1147.2,132.6 L1147.7,133.4 L1148.3,134.2 L1148.8,135.1 L1149.4,135.9 L1149.9,136.7 L1150.5,137.6 L1151.0,138.4 L1151.5,139.3 L1152.1,140.1 L1152.6,141.0 L1153.2,141.8 L1153.7,142.6 L1154.2,143.5 L1154.8,144.3 L1155.3,145.2 L1155.8,146.0 L1156.4,146.9 L1156.9,147.7 L1157.4,148.6 L1157.9,149.4 L1158.4,150.3 L1159.0,151.1 L1159.5,152.0 L1160.0,152.8 L1160.5,153.7 L1161.0,154.6 L1161.6,155.4 L1162.1,156.3 L1162.6,157.1 L1163.1,158.0 L1163.6,158.9 L1164.1,159.7 L1164.6,160.6 L1165.1,161.4 L1165.6,162.3 L1166.1,163.2 L1166.6,164.0 L1167.1,164.9 L1167.6,165.8 L1168.1,166.6 L1168.6,167.5 L1169.1,168.4 L1169.6,169.2 L1170.1,170.1 L1170.6,171.0 L1171.1,171.9 L1171.6,172.7 L1172.1,173.6 L1172.6,174.5 L1173.0,175.3 L1173.5,176.2 L1174.0,177.1 L1174.5,178.0 L1175.0,178.8 L1175.5,179.7 L1175.9,180.6 L1176.4,181.5 L1176.9,182.3 L1177.4,183.2 L1177.9,184.1 L1178.3,185.0 L1178.8,185.9 L1179.3,186.7 L1179.8,187.6 L1180.2,188.5 L1180.7,189.4 L1181.2,190.3 L1181.6,191.2 L1182.1,192.0 L1182.6,192.9 L1183.1,193.8 L1183.5,194.7 L1184.0,195.6 L1184.5,196.5 L1184.9,197.3 L1185.4,198.2 L1185.8,199.1 L1186.3,200.0 L1186.8,200.9 L1187.2,201.8 L1187.7,202.7 L1188.1,203.6 L1188.6,204.4 L1189.1,205.3 L1189.5,206.2 L1190.0,207.1 L1190.4,208.0 L1190.9,208.9 L1191.3,209.8 L1191.8,210.7 L1192.3,211.6 L1192.7,212.5 L1193.2,213.3 L1193.6,214.2 L1194.1,215.1 L1194.5,216.0 L1195.0,216.9 L1195.4,217.8 L1195.9,218.7 L1196.3,219.6 L1196.8,220.5 L1197.2,221.4 L1197.7,222.3 L1198.1,223.2 L1198.6,224.1 L1199.0,225.0 L1199.5,225.8 L1199.9,226.7 L1200.4,227.6 L1200.8,228.5 L1201.3,229.4 L1201.7,230.3 L1202.2,231.2 L1202.6,232.1 L1203.0,233.0 L1203.5,233.9 L1203.9,234.8 L1204.4,235.7 L1204.8,236.6 L1205.3,237.5 L1205.7,238.4 L1206.2,239.3 L1206.6,240.2 L1207.0,241.1 L1207.5,242.0 L1207.9,242.9 L1208.4,243.8 L1208.8,244.7 L1209.3,245.5 L1209.7,246.4 L1210.2,247.3 L1210.6,248.2 L1211.0,249.1 L1211.5,250.0 L1211.9,250.9 L1212.4,251.8 L1212.8,252.7 L1213.3,253.6 L1213.7,254.5 L1214.1,255.4 L1214.6,256.3 L1215.0,257.2 L1215.5,258.1 L1215.9,259.0 L1216.3,259.9 L1216.8,260.8 L1217.2,261.7 L1217.7,262.6 L1218.1,263.5 L1218.6,264.4 L1219.0,265.3 L1219.4,266.2 L1219.9,267.1 L1220.3,268.0 L1220.8,268.9 L1221.2,269.8 L1221.6,270.7 L1222.1,271.6 L1222.5,272.5 L1223.0,273.4 L1223.4,274.3 L1223.8,275.2 L1224.3,276.1 L1224.7,277.0 L1225.2,277.9 L1225.6,278.7 L1226.0,279.6 L1226.5,280.5 L1226.9,281.4 L1227.4,282.3 L1227.8,283.2 L1228.2,284.1 L1228.7,285.0 L1229.1,285.9 L1229.6,286.8 L1230.0,287.7 L1230.4,288.6 L1230.9,289.5 L1231.3,290.4 L1231.8,291.3 L1232.2,292.2 L1232.6,293.1 L1233.1,294.0 L1233.5,294.9 L1234.0,295.8 L1234.4,296.7 L1234.8,297.6 L1235.3,298.5 L1235.7,299.4 L1236.1,300.3 L1236.6,301.2 L1237.0,302.1 L1237.5,303.0 L1237.9,303.9 L1238.3,304.8 L1238.8,305.7 L1239.2,306.6 L1239.7,307.5 L1240.1,308.4 L1240.5,309.3 L1241.0,310.2 L1241.4,311.1 L1241.9,312.0 L1242.3,312.9 L1242.7,313.8 L1243.2,314.7 L1243.6,315.6 L1244.0,316.5 L1244.5,317.4 L1244.9,318.3 L1245.4,319.2 L1245.8,320.1 L1246.2,321.0 L1246.7,321.9 L1247.1,322.8 L1247.6,323.7 L1248.0,324.6 L1248.4,325.5 L1248.9,326.4 L1249.3,327.3 L1249.7,328.2 L1250.2,329.1 L1250.6,330.0 L1251.1,330.9 L1251.5,331.8 L1251.9,332.7 L1252.4,333.6 L1252.8,334.5 L1253.3,335.4 L1253.7,336.3 L1254.1,337.2 L1254.6,338.1 L1255.0,339.0 L1255.4,339.9 L1255.9,340.8 L1256.3,341.7 L1256.8,342.6 L1257.2,343.5 L1257.6,344.4 L1258.1,345.3 L1258.5,346.1 L1259.0,347.0 L1259.4,347.9 L1259.8,348.8 L1260.3,349.7 L1260.7,350.6 L1261.1,351.5 L1261.6,352.4 L1262.0,353.3 L1262.5,354.2 L1262.9,355.1 L1263.3,356.0 L1263.8,356.9 L1264.2,357.8 L1264.7,358.7 L1265.1,359.6 L1265.5,360.5 L1266.0,361.4 L1266.4,362.3 L1266.9,363.2 L1267.3,364.1 L1267.7,365.0 L1268.2,365.9 L1268.6,366.8 L1269.1,367.7 L1269.5,368.6 L1269.9,369.5 L1270.4,370.4 L1270.8,371.3 L1271.3,372.2 L1271.7,373.1 L1272.1,374.0 L1272.6,374.9 L1273.0,375.8 L1273.5,376.7 L1273.9,377.6 L1274.3,378.5 L1274.8,379.4 L1275.2,380.3 L1275.7,381.2 L1276.1,382.1 L1276.5,383.0 L1277.0,383.9 L1277.4,384.8 L1277.9,385.7 L1278.3,386.6 L1278.8,387.5 L1279.2,388.4 L1279.6,389.3 L1280.1,390.2 L1280.5,391.1 L1281.0,392.0 L1281.4,392.8 L1281.8,393.7 L1282.3,394.6 L1282.7,395.5 L1283.2,396.4 L1283.6,397.3 L1284.1,398.2 L1284.5,399.1 L1284.9,400.0 L1285.4,400.9 L1285.8,401.8 L1286.3,402.7 L1286.7,403.6 L1287.2,404.5 L1287.6,405.4 L1288.0,406.3 L1288.5,407.2 L1288.9,408.1 L1289.4,409.0 L1289.8,409.9 L1290.3,410.8 L1290.7,411.7 L1291.2,412.6 L1291.6,413.5 L1292.1,414.4 L1292.5,415.3 L1292.9,416.1 L1293.4,417.0 L1293.8,417.9 L1294.3,418.8 L1294.7,419.7 L1295.2,420.6 L1295.6,421.5 L1296.1,422.4 L1296.5,423.3 L1297.0,424.2 L1297.4,425.1 L1297.9,426.0 L1298.3,426.9 L1298.8,427.8 L1299.2,428.7 L1299.7,429.6 L1300.1,430.4 L1300.6,431.3 L1301.0,432.2 L1301.5,433.1 L1301.9,434.0 L1302.4,434.9 L1302.8,435.8 L1303.3,436.7 L1303.7,437.6 L1304.2,438.5 L1304.6,439.4 L1305.1,440.3 L1305.6,441.1 L1306.0,442.0 L1306.5,442.9 L1306.9,443.8 L1307.4,444.7 L1307.8,445.6 L1308.3,446.5 L1308.8,447.4 L1309.2,448.3 L1309.7,449.2 L1310.1,450.0 L1310.6,450.9 L1311.0,451.8 L1311.5,452.7 L1312.0,453.6 L1312.4,454.5 L1312.9,455.4 L1313.3,456.3 L1313.8,457.1 L1314.3,458.0 L1314.7,458.9 L1315.2,459.8 L1315.7,460.7 L1316.1,461.6 L1316.6,462.5 L1317.1,463.3 L1317.5,464.2 L1318.0,465.1 L1318.5,466.0 L1318.9,466.9 L1319.4,467.8 L1319.9,468.7 L1320.3,469.5 L1320.8,470.4 L1321.3,471.3 L1321.7,472.2 L1322.2,473.1 L1322.7,473.9 L1323.2,474.8 L1323.6,475.7 L1324.1,476.6 L1324.6,477.5 L1325.1,478.4 L1325.5,479.2 L1326.0,480.1 L1326.5,481.0 L1327.0,481.9 L1327.4,482.7 L1327.9,483.6 L1328.4,484.5 L1328.9,485.4 L1329.4,486.3 L1329.8,487.1 L1330.3,488.0 L1330.8,488.9 L1331.3,489.8 L1331.8,490.6 L1332.2,491.5 L1332.7,492.4 L1333.2,493.3 L1333.7,494.1 L1334.2,495.0 L1334.7,495.9 L1335.2,496.8 L1335.7,497.6 L1336.1,498.5 L1336.6,499.4 L1337.1,500.2 L1337.6,501.1 L1338.1,502.0 L1338.6,502.9 L1339.1,503.7 L1339.6,504.6 L1340.1,505.5 L1340.6,506.3 L1341.1,507.2 L1341.6,508.1 L1342.1,508.9 L1342.6,509.8 L1343.1,510.7 L1343.6,511.5 L1344.1,512.4 L1344.6,513.3 L1345.1,514.1 L1345.6,515.0 L1346.1,515.9 L1346.6,516.7 L1347.1,517.6 L1347.6,518.4 L1348.1,519.3 L1348.6,520.2 L1349.1,521.0 L1349.6,521.9 L1350.1,522.8 L1350.7,523.6 L1351.2,524.5 L1351.7,525.3 L1352.2,526.2 L1352.7,527.0 L1353.2,527.9 L1353.7,528.8 L1354.3,529.6 L1354.8,530.5 L1355.3,531.3 L1355.8,532.2 L1356.3,533.0 L1356.9,533.9 L1357.4,534.7 L1357.9,535.6 L1358.4,536.4 L1359.0,537.3 L1359.5,538.1 L1360.0,539.0 L1360.5,539.8 L1361.1,540.7 L1361.6,541.5 L1362.1,542.4 L1362.7,543.2 L1363.2,544.1 L1363.7,544.9 L1364.3,545.8 L1364.8,546.6 L1365.3,547.5 L1365.9,548.3 L1366.4,549.1 L1366.9,550.0 L1367.5,550.8 L1368.0,551.7 L1368.6,552.5 L1369.1,553.4 L1369.7,554.2 L1370.2,555.0 L1370.7,555.9 L1371.3,556.7 L1371.8,557.5 L1372.4,558.4 L1372.9,559.2 L1373.5,560.0 L1374.0,560.9 L1374.6,561.7 L1375.2,562.5 L1375.7,563.4 L1376.3,564.2 L1376.8,565.0 L1377.4,565.9 L1377.9,566.7 L1378.5,567.5 L1379.1,568.4 L1379.6,569.2 L1380.2,570.0 L1380.7,570.8 L1381.3,571.7 L1381.9,572.5 L1382.4,573.3 L1383.0,574.1 L1383.6,575.0 L1384.2,575.8 L1384.7,576.6 L1385.3,577.4 L1385.9,578.2 L1386.4,579.1 L1387.0,579.9 L1387.6,580.7 L1388.2,581.5 L1388.8,582.3 L1389.3,583.1 L1389.9,583.9 L1390.5,584.8 L1391.1,585.6 L1391.7,586.4 L1392.2,587.2 L1392.8,588.0 L1393.4,588.8 L1394.0,589.6 L1394.6,590.4 L1395.2,591.2 L1395.8,592.1 L1396.4,592.9 L1397.0,593.7 L1397.5,594.5 L1398.1,595.3 L1398.7,596.1 L1399.3,596.9 L1399.9,597.7 L1400.5,598.5 L1401.1,599.3 L1401.7,600.1 L1402.3,600.9 L1402.9,601.7 L1403.5,602.5 L1404.1,603.3 L1404.7,604.1 L1405.3,604.9 L1405.9,605.7 L1406.5,606.5 L1407.2,607.3 L1407.8,608.1 L1408.4,608.9 L1409.0,609.6 L1409.6,610.4 L1410.2,611.2 L1410.8,612.0 L1411.4,612.8 L1412.0,613.6 L1412.7,614.4 L1413.3,615.2 L1413.9,616.0 L1414.5,616.8 L1415.1,617.5 L1415.7,618.3 L1416.4,619.1 L1417.0,619.9 L1417.6,620.7 L1418.2,621.5 L1418.8,622.3 L1419.5,623.0 L1420.1,623.8 L1420.7,624.6 L1421.3,625.4 L1422.0,626.2 L1422.6,626.9 L1423.2,627.7 L1423.8,628.5 L1424.5,629.3 L1425.1,630.0 L1425.7,630.8 L1426.4,631.6 L1427.0,632.4 L1427.6,633.2 L1428.3,633.9 L1428.9,634.7 L1429.5,635.5 L1430.2,636.2 L1430.8,637.0 L1431.4,637.8 L1432.1,638.6 L1432.7,639.3 L1433.3,640.1 L1434.0,640.9 L1434.6,641.6 L1435.3,642.4 L1435.9,643.2 L1436.5,643.9 L1437.2,644.7 L1437.8,645.5 L1438.5,646.2 L1439.1,647.0 L1439.8,647.8 L1440.4,648.5 L1441.1,649.3 L1441.7,650.0 L1442.4,650.8 L1443.0,651.6 L1443.7,652.3 L1444.3,653.1 L1445.0,653.8 L1445.7,654.6 L1446.3,655.3 L1447.0,656.1 L1447.6,656.8 L1448.3,657.6 L1449.0,658.3 L1449.6,659.1 L1450.3,659.8 L1451.0,660.6 L1451.6,661.3 L1452.3,662.1 L1453.0,662.8 L1453.6,663.5 L1454.3,664.3 L1455.0,665.0 L1455.7,665.8 L1456.3,666.5 L1457.0,667.2 L1457.7,668.0 L1458.4,668.7 L1459.1,669.4 L1459.7,670.2 L1460.4,670.9 L1461.1,671.6 L1461.8,672.3 L1462.5,673.1 L1463.2,673.8 L1463.9,674.5 L1464.6,675.2 L1465.3,675.9 L1466.0,676.7 L1466.6,677.4 L1467.3,678.1 L1468.0,678.8 L1468.8,679.5 L1469.5,680.2 L1470.2,680.9 L1470.9,681.6 L1471.6,682.4 L1472.3,683.1 L1473.0,683.8 L1473.7,684.5 L1474.4,685.2 L1475.1,685.9 L1475.9,686.6 L1476.6,687.3 L1477.3,687.9 L1478.0,688.6 L1478.7,689.3 L1479.5,690.0 L1480.2,690.7 L1480.9,691.4 L1481.6,692.1 L1482.4,692.8 L1483.1,693.4 L1483.8,694.1 L1484.6,694.8 L1485.3,695.5 L1486.0,696.2 L1486.8,696.8 L1487.5,697.5 L1488.3,698.2 L1489.0,698.8 L1489.8,699.5 L1490.5,700.2 L1491.3,700.8 L1492.0,701.5 L1492.8,702.1 L1493.5,702.8 L1494.3,703.5 L1495.0,704.1 L1495.8,704.8 L1496.5,705.4 L1497.3,706.1 L1498.1,706.7 L1498.8,707.3 L1499.6,708.0 L1500.4,708.6 L1501.1,709.3 L1501.9,709.9 L1502.7,710.5 L1503.5,711.2 L1504.2,711.8 L1505.0,712.4 L1505.8,713.0 L1506.6,713.7 L1507.4,714.3 L1508.2,714.9 L1508.9,715.5 L1509.7,716.1 L1510.5,716.7 L1511.3,717.4 L1512.1,718.0 L1512.9,718.6 L1513.7,719.2 L1514.5,719.8 L1515.3,720.4 L1516.1,721.0 L1516.9,721.6 L1517.7,722.1 L1518.5,722.7 L1519.3,723.3 L1520.1,723.9 L1521.0,724.5 L1521.8,725.1 L1522.6,725.6 L1523.4,726.2 L1524.2,726.8 L1525.1,727.4 L1525.9,727.9 L1526.7,728.5 L1527.5,729.1 L1528.4,729.6 L1529.2,730.2 L1530.0,730.7 L1530.9,731.3 L1531.7,731.8 L1532.5,732.4 L1533.4,732.9 L1534.2,733.5 L1535.0,734.0 L1535.9,734.5 L1536.7,735.1 L1537.6,735.6 L1538.4,736.1 L1539.3,736.6 L1540.1,737.2 L1541.0,737.7 L1541.9,738.2 L1542.7,738.7 L1543.6,739.2 L1544.4,739.7 L1545.3,740.2 L1546.2,740.7 L1547.0,741.2 L1547.9,741.7 L1548.8,742.2 L1549.6,742.7 L1550.5,743.2 L1551.4,743.7 L1552.3,744.2 L1553.1,744.6 L1554.0,745.1 L1554.9,745.6 L1555.8,746.1 L1556.7,746.5 L1557.6,747.0 L1558.4,747.4 L1559.3,747.9 L1560.2,748.4 L1561.1,748.8 L1562.0,749.3 L1562.9,749.7 L1563.8,750.2 L1564.7,750.6 L1565.6,751.0 L1566.5,751.5 L1567.4,751.9 L1568.3,752.4 L1569.2,752.8 L1570.1,753.2 L1571.0,753.6 L1571.9,754.1 L1572.8,754.5 L1573.7,754.9 L1574.6,755.3 L1575.5,755.7 L1576.4,756.2 L1577.4,756.6 L1578.3,757.0 L1579.2,757.4 L1580.1,757.8 L1581.0,758.2 L1581.9,758.6 L1582.8,759.0 L1583.8,759.4 L1584.7,759.8 L1585.6,760.2 L1586.5,760.6 L1587.4,761.0 L1588.4,761.3 L1589.3,761.7 L1590.2,762.1 L1591.1,762.5 L1592.1,762.9 L1593.0,763.3 L1593.9,763.6 L1594.8,764.0 L1595.8,764.4 L1596.7,764.8 L1597.6,765.1 L1598.5,765.5 L1599.5,765.9 L1600.4,766.2 L1601.3,766.6 L1602.3,767.0 L1603.2,767.3 L1604.1,767.7 L1605.1,768.1 L1606.0,768.4 L1606.9,768.8 L1607.9,769.1 L1608.8,769.5 L1609.7,769.8 L1610.7,770.2 L1611.6,770.6 L1612.5,770.9 L1613.5,771.3 L1614.4,771.6 L1615.3,772.0 L1616.3,772.3 L1617.2,772.7 L1618.2,773.0 L1619.1,773.3 L1620.0,773.7 L1621.0,774.0 L1621.9,774.4 L1622.8,774.7 L1623.8,775.1 L1624.7,775.4 L1625.6,775.7 L1626.5,776.1 L1627.5,776.4 L1628.4,776.8 L1629.4,777.1 L1630.3,777.4 L1631.3,777.8 L1632.2,778.1 L1633.1,778.5 L1634.1,778.8 L1635.0,779.1 L1636.0,779.5 L1636.9,779.8 L1637.9,780.2 L1638.8,780.5 L1639.8,780.8 L1640.7,781.2 L1641.7,781.5 L1642.6,781.8 L1643.6,782.2 L1644.5,782.5" stroke="#ff0a0a"/>
</g>
<g stroke="#000" stroke-width="2.7">
<line x1="237.5" y1="49.8" x2="237.5" y2="838"/>
<line x1="225" y1="823.0" x2="1644" y2="823.0"/>
<line x1="237.5" y1="823.0" x2="237.5" y2="838" /><line x1="438.4" y1="823.0" x2="438.4" y2="838" /><line x1="639.2" y1="823.0" x2="639.2" y2="838" /><line x1="840.0" y1="823.0" x2="840.0" y2="838" /><line x1="1040.9" y1="823.0" x2="1040.9" y2="838" /><line x1="1241.8" y1="823.0" x2="1241.8" y2="838" /><line x1="1442.6" y1="823.0" x2="1442.6" y2="838" /><line x1="1643.5" y1="823.0" x2="1643.5" y2="838" /><line x1="225" y1="823.0" x2="237.5" y2="823.0" /><line x1="225" y1="669.2" x2="237.5" y2="669.2" /><line x1="225" y1="513.6" x2="237.5" y2="513.6" /><line x1="225" y1="359.9" x2="237.5" y2="359.9" /><line x1="225" y1="206.1" x2="237.5" y2="206.1" /><line x1="225" y1="51.4" x2="237.5" y2="51.4" />
</g>
<g class="tk"><text class="tk" x="121.3" y="62.8" textLength="76.0" lengthAdjust="spacingAndGlyphs">100</text><text class="tk" x="146.2" y="218.5" textLength="49.2" lengthAdjust="spacingAndGlyphs">80</text><text class="tk" x="146.2" y="372.4" textLength="49.2" lengthAdjust="spacingAndGlyphs">60</text><text class="tk" x="146.5" y="528.5" textLength="48.9" lengthAdjust="spacingAndGlyphs">40</text><text class="tk" x="146.2" y="681.9" textLength="49.2" lengthAdjust="spacingAndGlyphs">20</text><text class="tk" x="170.0" y="835.4" textLength="24.2" lengthAdjust="spacingAndGlyphs">0</text><text class="tk" x="200.5" y="903.6" textLength="75.3" lengthAdjust="spacingAndGlyphs">400</text><text class="tk" x="401.3" y="903.6" textLength="75.3" lengthAdjust="spacingAndGlyphs">450</text><text class="tk" x="602.0" y="903.6" textLength="76.5" lengthAdjust="spacingAndGlyphs">500</text><text class="tk" x="803.3" y="903.6" textLength="75.3" lengthAdjust="spacingAndGlyphs">550</text><text class="tk" x="1001.0" y="903.6" textLength="77.5" lengthAdjust="spacingAndGlyphs">600</text><text class="tk" x="1202.0" y="903.6" textLength="77.8" lengthAdjust="spacingAndGlyphs">650</text><text class="tk" x="1404.5" y="903.6" textLength="75.4" lengthAdjust="spacingAndGlyphs">700</text><text class="tk" x="1604.5" y="903.6" textLength="72.6" lengthAdjust="spacingAndGlyphs">750</text></g>
<text class="ax" x="673.3" y="1024.4" textLength="321.4" lengthAdjust="spacingAndGlyphs">Wavelength</text><text class="axp" x="1009.5" y="1028.5" textLength="27.7" lengthAdjust="spacingAndGlyphs">(</text><text class="ax" x="1035.1" y="1024.4" textLength="89.7" lengthAdjust="spacingAndGlyphs">nm</text><text class="axp" x="1124.6" y="1028.5" textLength="27.5" lengthAdjust="spacingAndGlyphs">)</text>
<g transform="rotate(-90)"><text class="ax" x="-826.2" y="66" textLength="218.3" lengthAdjust="spacingAndGlyphs">Relative</text><text class="ax" x="-584.3" y="66" textLength="203.5" lengthAdjust="spacingAndGlyphs">Radiant</text><text class="ax" x="-363.5" y="66" textLength="172.0" lengthAdjust="spacingAndGlyphs">Power</text><text class="axp" x="-174.6" y="70" textLength="26.4" lengthAdjust="spacingAndGlyphs">(</text><text class="ax" x="-146.1" y="66" textLength="57.9" lengthAdjust="spacingAndGlyphs">%</text><text class="axp" x="-84.0" y="70" textLength="25.3" lengthAdjust="spacingAndGlyphs">)</text></g>
<line x1="1706.5" y1="137.8" x2="1803" y2="137.8" stroke="#0000cc" stroke-width="4.5"/>
<line x1="1711" y1="398.3" x2="1808.5" y2="398.3" stroke="#007f14" stroke-width="4.5"/>
<line x1="1713.5" y1="631.8" x2="1810" y2="631.8" stroke="#ff0a0a" stroke-width="4.5"/>
<text class="lt" x="1816.0" y="159.6" textLength="272.7" lengthAdjust="spacingAndGlyphs">"Cool White"</text><text class="ld" x="1819.8" y="223.9" textLength="159.6" lengthAdjust="spacingAndGlyphs">5000K -</text><text class="ld" x="1820.2" y="273.6" textLength="248.6" lengthAdjust="spacingAndGlyphs">10000K CCT</text><text class="lt" x="1825.4" y="424.7" textLength="327.4" lengthAdjust="spacingAndGlyphs">"Neutral White"</text><text class="ld" x="1824.5" y="486.8" textLength="159.9" lengthAdjust="spacingAndGlyphs">3700K -</text><text class="ld" x="1824.6" y="533.7" textLength="221.6" lengthAdjust="spacingAndGlyphs">5000K CCT</text><text class="lt" x="1829.8" y="658.4" textLength="295.0" lengthAdjust="spacingAndGlyphs">"Warm White"</text><text class="ld" x="1826.0" y="720.1" textLength="159.5" lengthAdjust="spacingAndGlyphs">2600K -</text><text class="ld" x="1826.1" y="767" textLength="222.3" lengthAdjust="spacingAndGlyphs">3700K CCT</text>
<rect x="1691.8" y="1033" width="5" height="2" fill="#222"/><rect x="1707.6" y="1033" width="5" height="2" fill="#222"/><rect x="1833.3" y="1033" width="5" height="2" fill="#222"/><rect x="1850.2" y="1033" width="5" height="2" fill="#222"/><rect x="2019.2" y="1033" width="5" height="2" fill="#222"/><rect x="2029.8" y="1033" width="5" height="2" fill="#222"/><rect x="2042.4" y="1033" width="5" height="2" fill="#222"/><rect x="2138.8" y="1033" width="5" height="2" fill="#222"/><rect x="2149.4" y="1033" width="5" height="2" fill="#222"/><rect x="2161.8" y="1033" width="5" height="2" fill="#222"/>
</svg>
</body></html>
